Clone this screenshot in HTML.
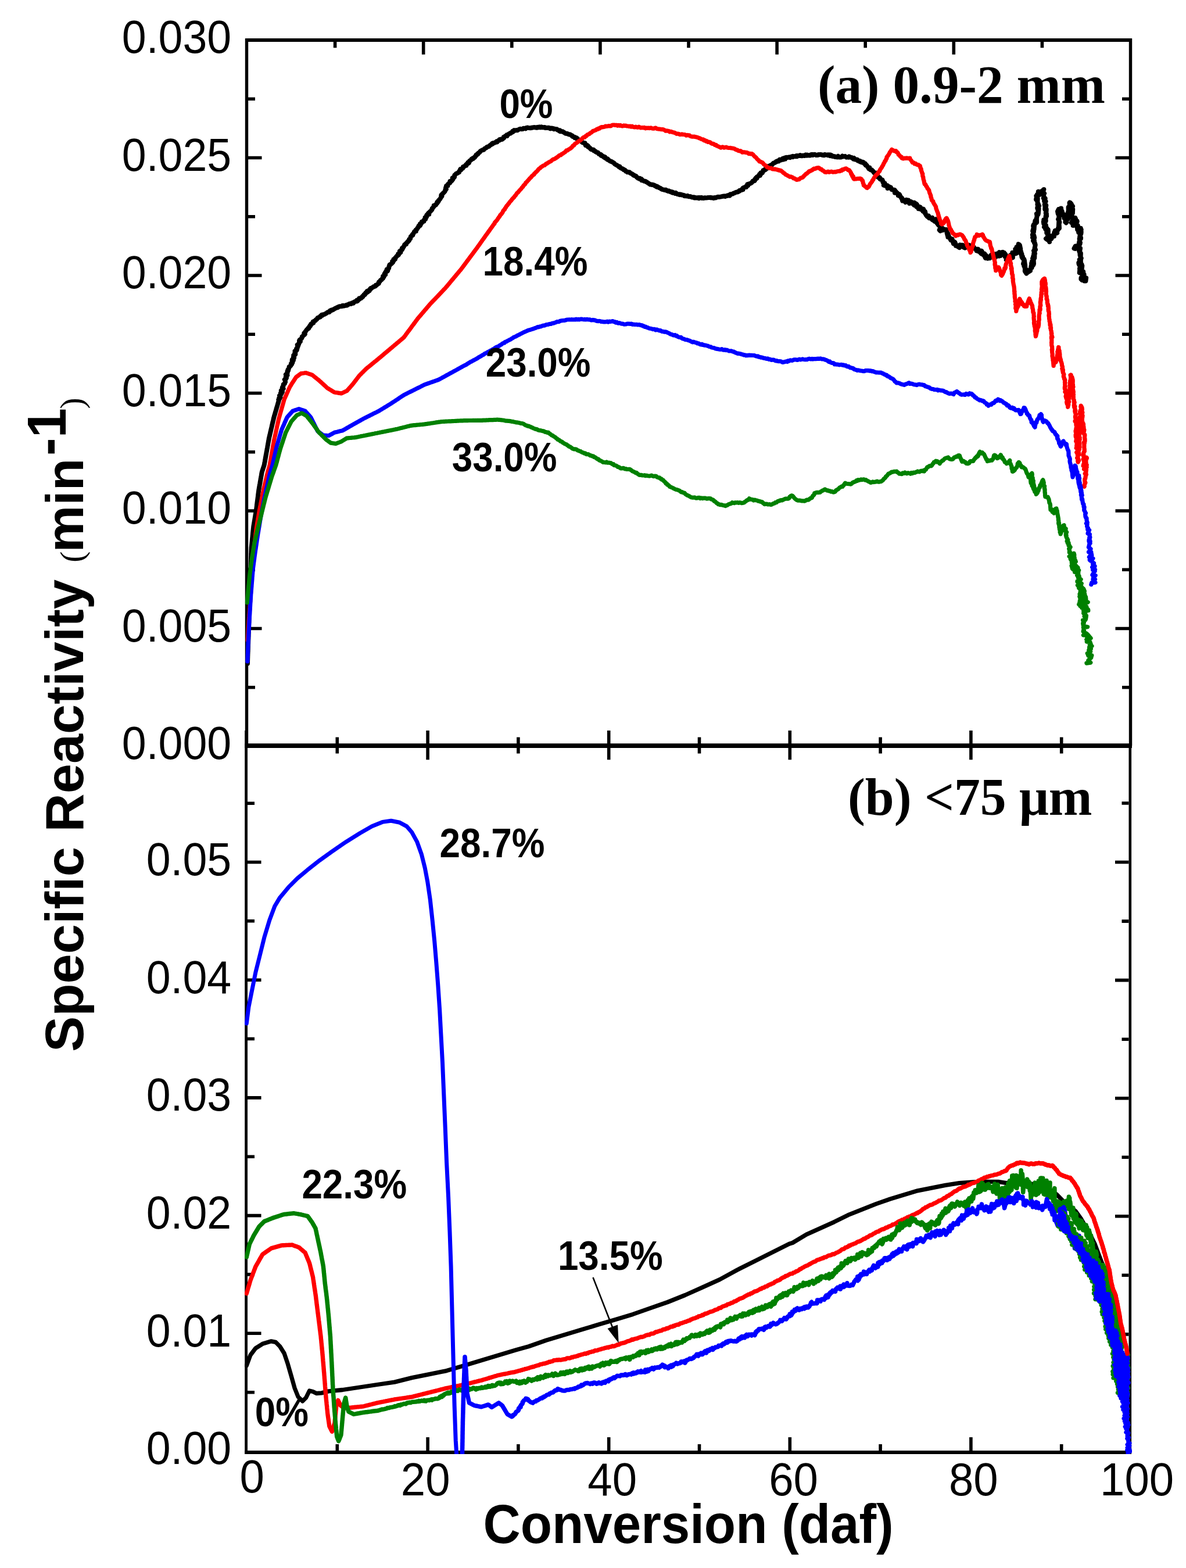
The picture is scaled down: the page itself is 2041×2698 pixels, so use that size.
<!DOCTYPE html>
<html lang="en">
<head>
<meta charset="utf-8">
<title>Specific Reactivity vs Conversion (daf)</title>
<style>
html, body { margin: 0; padding: 0; background: #fff; }
body { width: 2041px; height: 2698px; overflow: hidden; }
svg { display: block; }
text { white-space: pre; }
</style>
</head>
<body>
<svg width="2041" height="2698" viewBox="0 0 2041 2698" role="img" aria-label="Specific reactivity versus conversion for two particle sizes">
<rect x="0" y="0" width="2041" height="2698" fill="#fff"/>
<g id="axes" stroke="#000" fill="none" stroke-linecap="butt">
<path d="M424.5 1283 V69 H1945.5 V1283" stroke-width="5.4" stroke-linejoin="miter"/>
<path d="M422 69 H1948" stroke-width="6"/>
<path d="M421.2 1283.2 H1948" stroke-width="7.7"/>
<path d="M423.6 1257 V2502" stroke-width="4.8"/>
<path d="M1944.8 1283 V2502" stroke-width="4.6"/>
<path d="M421.2 2499 H1947" stroke-width="6"/>
<path d="M427 1182.8 h12 M1943 1182.8 h-12 M427 1081.5 h23.5 M1943 1081.5 h-23.5 M427 980.2 h12 M1943 980.2 h-12 M427 879 h23.5 M1943 879 h-23.5 M427 777.8 h12 M1943 777.8 h-12 M427 676.5 h23.5 M1943 676.5 h-23.5 M427 575.2 h12 M1943 575.2 h-12 M427 474 h23.5 M1943 474 h-23.5 M427 372.8 h12 M1943 372.8 h-12 M427 271.5 h23.5 M1943 271.5 h-23.5 M427 170.2 h12 M1943 170.2 h-12 M576.6 71 V82.3 M728.7 71 V93.8 M880.8 71 V82.3 M1032.9 71 V93.8 M1185 71 V82.3 M1337.1 71 V93.8 M1489.2 71 V82.3 M1641.3 71 V93.8 M1793.4 71 V82.3 M580.3 1268.5 V1296.5 M736.1 1257 V1307.3 M891.9 1268.5 V1296.5 M1047.7 1257 V1307.3 M1203.5 1268.5 V1296.5 M1359.3 1257 V1307.3 M1515.1 1268.5 V1296.5 M1670.9 1257 V1307.3 M1826.7 1268.5 V1296.5 M580.3 2485.1 V2497 M736.1 2472.9 V2497 M891.9 2485.1 V2497 M1047.7 2472.9 V2497 M1203.5 2485.1 V2497 M1359.3 2472.9 V2497 M1515.1 2485.1 V2497 M1670.9 2472.9 V2497 M1826.7 2485.1 V2497 M426 2395.7 h12 M1942.5 2397.4 h-12 M426 2294.3 h23.5 M1942.5 2295.9 h-23.5 M426 2192.9 h12 M1942.5 2194.3 h-12 M426 2091.6 h23.5 M1942.5 2092.8 h-23.5 M426 1990.2 h12 M1942.5 1991.2 h-12 M426 1888.9 h23.5 M1942.5 1889.7 h-23.5 M426 1787.5 h12 M1942.5 1788.2 h-12 M426 1686.2 h23.5 M1942.5 1686.6 h-23.5 M426 1584.8 h12 M1942.5 1585.1 h-12 M426 1483.5 h23.5 M1942.5 1483.5 h-23.5 M426 1382.2 h12 M1942.5 1382 h-12" stroke-width="5.6" stroke-linecap="butt"/>
</g>
<defs><clipPath id="cpt"><rect x="421.5" y="66" width="1526.5" height="1221"/></clipPath><clipPath id="cpb"><rect x="421" y="1279" width="1527" height="1223"/></clipPath></defs>
<g id="curves-top" clip-path="url(#cpt)">
<path d="M425.9 1141.7 L426 1140.2 L426 1138.7 L426.1 1137.2 L426.1 1135.7 L426.2 1134.2 L426.2 1132.7 L426.3 1131.1 L426.3 1129.6 L426.4 1128.1 L426.4 1126.6 L426.5 1125.1 L426.5 1123.6 L426.6 1122.1 L426.7 1120.6 L426.7 1119.1 L426.8 1117.6 L426.8 1116.1 L426.9 1114.5 L426.9 1113 L427 1111.5 L427 1110 L427.1 1108.5 L427.1 1107 L427.2 1105.5 L427.2 1104 L427.3 1102.5 L427.3 1101 L427.4 1099.5 L427.4 1098 L427.5 1096.5 L427.6 1094.9 L427.6 1093.4 L427.6 1091.9 L427.7 1090.4 L427.8 1088.9 L427.8 1087.4 L427.8 1085.9 L427.9 1084.4 L427.9 1082.9 L428 1081.4 L428.1 1079.9 L428.1 1078.3 L428.1 1076.8 L428.2 1075.3 L428.2 1073.8 L428.3 1072.3 L428.4 1070.8 L428.4 1069.3 L428.4 1067.8 L428.5 1066.3 L428.6 1064.8 L428.6 1063.3 L428.6 1061.8 L428.7 1060.2 L428.8 1058.7 L428.8 1057.2 L428.9 1055.7 L428.9 1054.2 L428.9 1052.7 L429 1051.2 L429.1 1049.7 L429.1 1048.2 L429.1 1046.7 L429.2 1045.2 L429.2 1043.7 L429.3 1042.2 L429.4 1040.7 L429.4 1039.2 L429.4 1037.7 L429.5 1036.1 L429.6 1034.6 L429.6 1033.1 L429.6 1031.6 L429.7 1030.1 L429.8 1028.6 L429.8 1027.1 L429.9 1025.6 L429.9 1024.1 L429.9 1022.6 L430 1021.1 L430.1 1019.6 L430.1 1018.1 L430.2 1016.6 L430.2 1015.1 L430.2 1013.6 L430.3 1012.1 L430.4 1010.5 L430.4 1009 L430.4 1007.5 L430.5 1006 L430.6 1004.5 L430.6 1003 L430.7 1001.5 L430.7 1000 L430.8 998.5 L430.8 997 L430.9 995.5 L430.9 994 L430.9 992.5 L431 991 L431.1 989.5 L431.1 988 L431.2 986.4 L431.2 984.9 L431.2 983.4 L431.3 981.9 L431.4 980.4 L431.4 978.9 L431.4 977.4 L431.5 975.9 L431.6 974.4 L431.6 972.9 L431.7 971.4 L431.7 969.9 L431.8 968.3 L431.8 966.8 L431.9 965.3 L431.9 963.8 L432 962.3 L432 960.8 L432.1 959.3 L432.1 957.8 L432.2 956.3 L432.2 954.8 L432.2 953.3 L432.3 951.8 L432.4 950.2 L432.4 948.7 L432.5 947.2 L432.5 945.7 L432.6 944.2 L432.6 942.7 L432.8 941.2 L432.9 939.7 L433.1 938.2 L433.2 936.7 L433.4 935.2 L433.5 933.7 L433.7 932.2 L433.8 930.7 L433.9 929.2 L434.1 927.7 L434.2 926.2 L434.4 924.7 L434.6 923.1 L434.7 921.6 L434.9 920.1 L435 918.6 L435.1 917.1 L435.3 915.6 L435.4 914.1 L435.6 912.6 L435.8 911.1 L435.9 909.6 L436.1 908.1 L436.2 906.6 L436.4 905.1 L436.7 903.6 L436.9 902.1 L437.2 900.6 L437.4 899.1 L437.7 897.6 L437.9 896.1 L438.2 894.6 L438.4 893 L438.7 891.5 L438.9 890 L439.2 888.5 L439.4 887 L439.7 885.5 L439.9 884 L440.2 882.5 L440.4 881 L440.7 879.5 L440.9 878 L441.1 876.5 L441.3 875 L441.5 873.5 L441.7 872 L441.9 870.5 L442 868.9 L442.2 867.4 L442.4 865.9 L442.6 864.4 L442.8 862.9 L443 861.4 L443.2 859.9 L443.4 858.4 L443.6 856.9 L443.8 855.4 L444 853.9 L444.1 852.3 L444.3 850.8 L444.5 849.3 L444.7 847.8 L444.9 846.3 L445.1 844.8 L445.3 843.3 L445.6 841.8 L445.8 840.4 L446.1 838.9 L446.3 837.4 L446.6 836 L446.8 834.5 L447.1 833 L447.4 831.6 L447.6 830.1 L447.9 828.6 L448.1 827.2 L448.4 825.7 L448.6 824.2 L448.9 822.8 L449.2 821.3 L449.4 819.8 L449.7 818.4 L449.9 816.9 L450.2 815.4 L450.4 814 L450.7 812.5 L451.1 811.1 L451.6 809.7 L452 808.3 L452.5 806.9 L452.9 805.6 L453.4 804.2 L453.8 802.8 L454.3 801.4 L454.7 800 L455 798.5 L455.2 797 L455.5 795.5 L455.8 794.1 L456 792.6 L456.3 791.1 L456.6 789.6 L456.8 788.1 L457.1 786.6 L457.4 785.1 L457.6 783.6 L457.9 782.2 L458.2 780.7 L458.4 779.2 L458.7 777.7 L459 776.2 L459.3 774.7 L459.5 773.2 L459.8 771.7 L460.1 770.3 L460.3 768.8 L460.6 767.3 L460.9 765.8 L461.1 764.3 L461.4 762.8 L461.7 761.3 L461.9 759.8 L462.2 758.4 L462.5 756.9 L462.7 755.4 L463 753.9 L463.3 752.5 L463.7 751 L464 749.6 L464.3 748.2 L464.7 746.7 L465 745.3 L465.4 743.8 L465.7 742.4 L466 741 L466.4 739.5 L466.7 738.1 L467 736.7 L467.4 735.2 L467.7 733.8 L468 732.4 L468.4 730.9 L468.7 729.5 L469 728.1 L469.4 726.6 L469.7 725.2 L470.1 723.7 L470.4 722.3 L470.7 720.9 L471.1 719.4 L471.4 718 L471.8 716.6 L472.2 715.1 L472.7 713.7 L473.1 712.3 L473.5 710.8 L473.9 709.4 L474.3 708 L474.8 706.5 L475.2 705.1 L475.6 703.6 L476 702.2 L476.4 700.8 L476.9 699.3 L477.3 697.9 L477.7 696.5 L478.1 695 L478.5 693.6 L479 692.2 L479.4 690.7 L479.8 689.3 L479.3 687.8 L481.1 686.4 L480.3 684.9 L482.6 683.5 L482.1 682 L481.1 680.5 L483.3 679 L484.4 677.6 L483.1 676.1 L485.9 674.7 L486 673.2 L483.9 671.8 L485.8 670.3 L487.6 668.8 L485.7 667.4 L486.1 666 L487.5 664.5 L487.6 663 L487.6 661.5 L490 660.1 L490.1 658.7 L491.1 657.3 L490.9 655.9 L490.7 654.4 L489.8 653 L492.3 651.5 L493 650.2 L491.8 648.6 L492.4 647.2 L494.4 645.8 L491.9 644.3 L494.4 643.1 L494.1 641.5 L494.9 640.2 L494.5 638.8 L496.1 637.5 L495.5 636 L496.6 634.9 L497.2 633.5 L497.7 632 L497.6 630.9 L500.3 629.4 L500.7 628.1 L501.9 626.9 L501 625.6 L503.3 624.1 L503.6 622.7 L502.7 621.2 L504.8 619.9 L502.9 618.7 L505.5 617.1 L506.2 615.5 L504.9 614.1 L505.9 612.6 L505.3 611.3 L508.3 610.1 L508.3 608.5 L507.3 607.3 L508.6 605.7 L507.6 604 L510.5 602.9 L511.1 601.3 L510.2 599.9 L511.9 598.3 L511.6 597 L512.9 595.5 L513.2 594.7 L511.8 593.2 L514.3 592.1 L514.7 590.4 L514.7 589.5 L516.8 587.7 L515 586.4 L515.4 585.3 L516.5 584.3 L518.9 582.6 L519.3 581.6 L520 580.3 L519.8 579.1 L521.2 578.3 L522.6 576.6 L523.8 576 L524.8 574.7 L523.4 573.2 L524.4 572.1 L525.5 570.7 L526.6 569.4 L527.6 567.6 L528.7 566.5 L531.1 565.2 L530.7 564.1 L532.9 562.3 L532.7 561.4 L534.2 560.8 L533.9 559.5 L535.6 558.3 L535.3 557.4 L539.1 555.9 L538.2 555.5 L538.6 553.5 L539.6 553.2 L542.7 551.7 L543.5 550.3 L544.7 549.8 L545.6 548.8 L546.4 547.7 L546.5 547 L548.3 546.3 L551.3 545.4 L551.4 543.9 L552.4 543.2 L554.3 542.9 L554 541.6 L556.5 541.3 L559 540.7 L559.5 540 L560.9 539.5 L562.3 538.6 L562.2 538.3 L564 537.2 L566.6 537.1 L568.4 535.1 L567.6 534.8 L569.2 533.9 L571 533.2 L571.5 533.8 L574.2 532.4 L573.6 532.5 L576.7 530.8 L576.9 530.7 L579.2 529.5 L581.3 529 L580.6 529 L581.6 528.2 L583.1 527.7 L584.8 527.2 L588.2 527 L588.1 526.9 L589.1 526 L590.8 525.8 L591.7 526.5 L592.6 526 L596.8 525.6 L595.5 525 L597 524.6 L600.5 523.6 L599.9 523.4 L601.7 522.6 L604.3 522.9 L605.5 521.3 L608.3 521.7 L609 520.1 L609.3 519.7 L611.7 518.6 L613.7 518.6 L615.4 517.8 L614 516.5 L615.4 516.1 L618.7 515 L618.4 513.2 L621.5 513.1 L622.3 512 L624.1 511 L623.6 509.9 L624.8 509.2 L627.6 507.3 L626.3 506.9 L629.2 505.3 L629.1 504 L629.4 503.6 L632.5 502.7 L632 500.8 L635.4 500.3 L634.9 499.5 L637.1 498.3 L636.3 497.9 L637.9 495.9 L639.5 495.7 L641.5 494.3 L643 493.8 L642.5 493.4 L645.7 492.6 L646.5 490.8 L647.9 490.8 L648.4 490 L650.9 488.3 L651.8 487.9 L652.4 485.4 L652.1 485.1 L653.8 484.1 L654.9 482 L656.8 481.4 L657.6 479.7 L659 479 L659.3 478 L660.6 476.3 L659.2 475.2 L660.5 474.2 L663.1 472.6 L661.8 470.9 L663.3 470.4 L662.8 469.2 L664 467.2 L666.9 466.5 L667.4 465.2 L665.8 463.5 L667.4 462.8 L669.1 461.7 L669.4 459.7 L669.4 458.6 L670.3 457.2 L671.1 456.1 L670.5 455.5 L673.1 454.2 L674.5 452.9 L676.2 451.2 L675.3 449.5 L677 449.1 L677.7 448.5 L677.5 446.2 L680 445.8 L680.2 443.6 L680.8 443.5 L682.1 441.7 L682.7 440.8 L684.2 439.7 L685.9 438.6 L685.3 436.7 L687.4 436.2 L688.8 434.2 L689.4 434 L688 432 L690.6 430.6 L692 429.5 L692.5 428.4 L692 427.1 L693.7 426.6 L693.8 425.3 L695 424.1 L696 422.3 L696.2 420.9 L698.8 420.2 L698 419.6 L700.5 417.2 L701.6 416.8 L701.7 415.5 L704.1 414.1 L704.1 413.2 L704.2 411.6 L706.2 410.8 L706.3 409.4 L706.5 408.6 L706.8 407.2 L709 405.4 L710.3 404.7 L709.7 403.4 L710.8 402.6 L712.2 400.7 L712.8 399.1 L713.6 398.1 L715.8 397.8 L715.5 395.6 L717.4 394.4 L717.9 394.1 L718.2 392.8 L720.1 390.7 L720.1 390.2 L720.6 388.5 L723 388.1 L723.7 386.7 L723.1 385 L724.9 384.6 L725.9 383.2 L725.9 381.6 L729.4 380.8 L729.3 378.8 L731.3 377.4 L732.3 377.2 L732.5 375.6 L731.7 374.1 L734.1 373.4 L734.2 372.4 L734.1 370.4 L735.1 369.3 L738.2 368.7 L737.1 366.8 L737.9 366.1 L739.8 364.3 L740.5 364 L741.6 362.6 L743.1 361.1 L743.8 359.8 L743.6 358.8 L744.9 357.4 L745.4 357.1 L747 354.9 L746.8 353.7 L750.2 352.7 L750.5 351.4 L751.3 350.6 L752.5 349.5 L752.3 348 L753.9 347.6 L754.9 345.8 L754.6 345.1 L756.9 342.8 L757.1 342.4 L757.9 341.4 L759.2 339.1 L760.3 337.9 L759.2 337.5 L759.4 335.5 L761.5 334 L761.2 333.5 L762.9 332.1 L764.2 331 L765.3 329.7 L766.3 327.9 L766.2 326.7 L767.8 325.6 L766.9 324.3 L767.3 322.4 L768.5 321.2 L768.2 320 L770.4 319.7 L770 318.4 L771 317 L772.4 315.7 L774.5 314.5 L774.4 313.7 L774.4 312 L777.1 311.5 L778.7 309.5 L778.5 308.4 L779.6 308 L778.8 306.1 L782 304.9 L782.1 304.4 L782.1 303.2 L782.3 301.4 L783.9 300.3 L785 298.7 L787.8 297.8 L788.2 297.2 L790.1 296.4 L790.4 294.3 L791.9 293.1 L793.4 292.2 L792.4 290.9 L793.9 290.6 L796.4 289.5 L797.2 287.8 L797.1 286.9 L798.5 286.7 L801.4 284.5 L802.4 284.7 L802 283.4 L804.1 281.6 L804.7 281.7 L806.7 280.6 L805.4 279.3 L807.8 278.6 L807.9 277.1 L808.9 276.4 L811.9 274.3 L811.8 273.4 L813.9 273.1 L813.3 272.5 L817.1 270.8 L817.1 269.7 L818.3 268.7 L819 268.2 L819.3 266.5 L822.2 265.4 L821.2 265.5 L822.6 263.9 L824.2 262.7 L825.5 262.2 L825.9 261.3 L826.8 259.8 L828.4 259.1 L829.9 258.2 L832.5 257.8 L832.6 257.1 L834.3 255.5 L835.2 255.2 L836.2 254.5 L837.8 254 L837.9 252.9 L841.3 252 L842.3 250.7 L843 250.2 L844.3 249.6 L844.9 248.7 L845.3 248.8 L847.7 247.7 L847.3 246.5 L851.3 245.7 L851.3 245.7 L852.6 244.8 L855.3 244.5 L854.5 243.3 L856.4 243 L858.5 241.7 L859.9 241.3 L859.2 240.4 L861.6 239.6 L863.8 239.9 L865.8 238.5 L866.8 237.5 L867.3 237.2 L866.9 235.6 L869.1 234.7 L870.5 233.5 L872.5 233.9 L872.5 232 L874 232 L874.9 231.2 L876 230.1 L878.9 229.3 L878.3 228.9 L881.8 227.4 L883.1 226.7 L882.3 225.6 L885.5 224.8 L884.6 224.1 L886.5 224.4 L889.4 223.9 L890.2 224.3 L891.5 223.5 L892.5 223 L893.9 222.1 L895.9 221.8 L897.5 222.2 L899.5 222.1 L900.8 220.8 L903 220.9 L904.6 221.4 L905.4 220.1 L906.4 220.1 L907.8 219.5 L909.5 220.1 L912.3 220.2 L914 220.2 L914.2 219.9 L914.6 220 L918.1 219.2 L918.9 219.1 L921.4 219.2 L922.9 219.8 L924.4 219 L924.6 219.7 L927.8 218.5 L927.7 219.3 L930.4 218.5 L931 219.3 L931.5 218.3 L934.7 219.4 L937 219 L938 219.9 L938.1 219.1 L939.4 220.1 L940.5 220 L944.3 219.7 L944.9 220.4 L947.4 220.6 L947.5 221.4 L949.7 220.5 L951.4 221.1 L953.3 222.1 L953.4 221.6 L954.1 221.6 L955.4 221.9 L958.4 222.3 L959.4 223.6 L961.2 224 L963.2 224.2 L962 225.1 L964 226.2 L967.3 226.3 L968.4 226.2 L968.8 226.9 L969.8 227.4 L971.6 228.3 L971.6 228.6 L973.3 229.7 L976 229.7 L976.6 230.4 L979.1 231.4 L980.1 231.2 L981.5 231.6 L983.2 232.7 L984.4 233.2 L985.3 233.9 L985 234.8 L988.7 235.7 L989 237 L991.7 236.9 L992.1 238.4 L993.8 238.5 L994.1 239.8 L994.7 240.1 L997.2 241.4 L997.3 241.8 L998.6 241.8 L1000.5 243.4 L1002.2 244.7 L1001.9 245 L1004 245.5 L1006.5 246.2 L1005.7 246.9 L1008 248.7 L1007.9 249.9 L1010.3 249.8 L1012.4 251.6 L1011.7 252.5 L1012.3 252.6 L1014.3 254.4 L1015.2 254.4 L1016 255.9 L1017.1 256.8 L1018.8 257.3 L1021.6 257.8 L1021.7 259.2 L1023.1 259.7 L1024.6 260.3 L1024.4 260.7 L1027.1 262.3 L1029 262.5 L1029.9 263.8 L1030.7 265.1 L1032 265.3 L1033.7 265.7 L1035.6 267.1 L1034.4 267.8 L1038.4 269.3 L1038.2 269.1 L1041 270 L1039.5 270.7 L1042.2 272.1 L1042.3 272.4 L1045.5 273.3 L1045.2 274.6 L1047.2 275.4 L1048.7 276.3 L1050 277.4 L1052.2 277.8 L1052.6 278.5 L1053.5 278.5 L1056.3 280.3 L1057.2 281.2 L1057.9 282.2 L1058.9 283 L1059.1 283 L1061.8 284.4 L1062.9 285.1 L1063.8 285.8 L1066.3 286.5 L1065.3 287.4 L1066.5 287.7 L1068.2 289.1 L1069.6 289.9 L1070.6 290 L1073.8 291.8 L1073.2 292.1 L1075.4 293 L1075.8 292.9 L1077.1 294.9 L1079.6 295.4 L1079.8 296.3 L1083.4 296.3 L1084.3 297.9 L1086.3 298.3 L1086.5 298.7 L1088.2 299.4 L1089 300.5 L1091.4 301.5 L1090 301.4 L1092.1 302.4 L1094.5 302.9 L1095.3 303.9 L1095.8 304.9 L1097.5 306.1 L1097.9 306.7 L1100.7 306.8 L1100.3 307.8 L1103.8 308.1 L1104.8 309.1 L1104.2 310.3 L1106.2 310.5 L1108.8 311.8 L1110.4 311.8 L1111.6 312.2 L1112.1 313.2 L1114.4 314.2 L1115.1 314.9 L1115.5 315 L1116.1 315.4 L1117.8 316.6 L1118.9 317.4 L1121.7 317.4 L1121.6 317.9 L1124.2 318.1 L1126.8 319 L1126.5 319.5 L1127.7 320.1 L1130.5 320.4 L1130.4 321.7 L1132.1 321.9 L1133.4 322.1 L1134.2 323.2 L1137 323.8 L1137.3 324.7 L1138.2 325.2 L1139.3 325.9 L1141.7 326.4 L1144.2 327 L1145.9 326.6 L1147.2 327.4 L1146.9 327.8 L1149.9 329 L1151 328.5 L1150.4 328.8 L1153.4 329.9 L1153 329.4 L1157.2 330.3 L1155.8 330.9 L1157.4 331.8 L1160.1 332 L1162.7 331.7 L1162 333.1 L1164.6 333.1 L1165.2 333.8 L1168.4 334.7 L1169.7 335.1 L1168.8 334.2 L1172.4 334.8 L1172.9 335.4 L1175.8 335.7 L1174.7 335.6 L1178.5 336.7 L1177.7 337.2 L1179.9 337.2 L1181.9 337.6 L1183.2 336.8 L1184.9 338.2 L1185.9 338.4 L1187.5 338.1 L1188.7 338.2 L1190.6 339.5 L1192.4 339.5 L1192.6 339.2 L1195.3 339.5 L1195.1 340.5 L1196.9 340.4 L1200.9 340.2 L1200.3 340.3 L1202.6 341.2 L1202.9 340.1 L1206.6 340.2 L1207.4 340.8 L1206.9 339.8 L1210.7 341.1 L1212 340.5 L1211.7 340.5 L1213.2 340.3 L1214.4 340.5 L1217.2 340.2 L1218 339.9 L1218.9 340 L1223.2 339.8 L1223.9 340.4 L1225 340.2 L1227.7 340.9 L1227.4 340.4 L1230.5 340 L1231.8 340.4 L1232.3 340.1 L1233.8 339.2 L1234.2 339.3 L1235.6 338.7 L1238.5 338.9 L1240 338.6 L1242 338.2 L1242.2 338.2 L1244.5 337.5 L1245.2 337.7 L1246.8 337.2 L1248 338 L1248.2 337.7 L1252.2 336.8 L1251 336.6 L1255.1 335.6 L1255.9 336.5 L1255.3 335.6 L1256.8 334.2 L1259.3 333.9 L1261.2 333.5 L1261.3 333.4 L1262 332.6 L1264.2 332.1 L1266.6 330.8 L1266.8 330.7 L1270.1 330.2 L1270.7 329.5 L1273 328.5 L1272.7 327.8 L1274.1 327.4 L1276.2 326.9 L1278.6 326.1 L1277.7 324.6 L1278.5 323.7 L1279.9 322.8 L1283 321.7 L1284.5 321.9 L1285.2 320.1 L1285 319.5 L1287.1 319.3 L1286.5 317.2 L1290.1 316.2 L1291.4 315.6 L1292.8 315.1 L1292.9 314.7 L1294.7 313.3 L1294.8 312.9 L1295.4 311.4 L1298.4 311.3 L1299.4 309.7 L1299.1 308.4 L1301.7 307.3 L1300.8 306.2 L1302.7 306.4 L1302.7 304.3 L1304.3 303.8 L1305.7 302 L1307.8 302 L1307.3 299.7 L1309.1 299.8 L1309.2 297.6 L1312 297.4 L1312.5 295.3 L1313.9 294.3 L1313.6 293.1 L1317.2 292.1 L1316.9 292.1 L1317.2 290.3 L1320.1 289.7 L1319.5 288.8 L1323.1 288.3 L1324.1 286.3 L1322.6 286.1 L1323.6 286 L1325.7 284.5 L1328.6 283.5 L1329.5 282.2 L1329.7 282.3 L1331 280.6 L1333.4 280 L1334.7 279.1 L1335.7 277.9 L1336.4 278.4 L1337.7 277.1 L1340.1 277.5 L1341 275.7 L1340.2 275.9 L1341.8 274.5 L1344.4 275.4 L1345 274.7 L1348.4 274.4 L1347.2 272.6 L1351.2 273.5 L1350.2 271.7 L1353.2 271 L1352.9 270.8 L1355.8 270.9 L1358 270.3 L1359.7 271.1 L1359.6 270.5 L1361.9 269.4 L1364.2 269.7 L1364.4 270.1 L1364.4 268.8 L1365.9 269.4 L1367.9 269 L1370.9 269.3 L1370.7 267.9 L1374.1 267.9 L1373.7 268.2 L1377.1 267.7 L1377.3 267 L1378.9 268.2 L1380.2 268.3 L1381.7 267.4 L1384.5 268.1 L1386.2 267.1 L1386.5 266.4 L1388.2 267.6 L1388.7 266.5 L1389.8 266.7 L1392.6 267.6 L1394.6 267.4 L1394.7 266.4 L1397.7 265.7 L1398.8 266.7 L1398.7 265.9 L1402.5 265.8 L1403.6 266.3 L1404.3 267.1 L1405.9 267.1 L1408.6 266.5 L1408 266 L1412.1 265.9 L1412.5 265.7 L1414.4 266.7 L1416.4 266.5 L1415.6 266.9 L1418.5 267.2 L1419.8 265.9 L1421.1 266.4 L1423.4 266.5 L1425.4 266.3 L1424.9 267.3 L1427.9 266.3 L1428.7 268.1 L1430.5 266.9 L1432.9 268.6 L1432.4 268.9 L1435.9 269.1 L1437.6 269.4 L1436.3 269.7 L1440.2 270.3 L1441.4 270.4 L1443.1 269.4 L1442.3 268.8 L1443.7 270.5 L1447.5 270.5 L1448.8 269.6 L1449.6 268.6 L1449.9 269.5 L1451 269.4 L1453.9 269.1 L1454.3 268.9 L1456.6 270.7 L1458.1 270.4 L1460.3 270.7 L1462 270.1 L1461.2 269.3 L1463.3 270.3 L1465.5 271.3 L1465.9 271.1 L1468.6 273.6 L1469.8 272.1 L1471.1 274.3 L1472 274.5 L1474.3 274.7 L1475.1 274.5 L1476.9 276.1 L1476.5 276.8 L1479.8 277 L1479.7 278.2 L1483.2 279.4 L1482.6 278.9 L1484.2 278.6 L1486.2 279.5 L1487.4 281.6 L1489.1 282.7 L1489 281.6 L1489.7 284.3 L1491.3 284.1 L1493.4 287.6 L1494.8 288.7 L1496.4 288.6 L1495.3 290.5 L1496.4 289.3 L1498.1 292.4 L1500.1 292.3 L1499.7 292.4 L1502.4 294.4 L1503.4 296.2 L1504.6 297.6 L1506.9 297.4 L1506.4 298.3 L1507.2 298 L1509.6 300.2 L1508.4 301.2 L1510.2 301.1 L1510.2 304.4 L1513.4 306.5 L1513.7 305.3 L1514.7 306.7 L1514.4 308.1 L1515 308.4 L1518.5 309.5 L1519.3 313.2 L1519.5 312 L1520.2 313.5 L1520.6 315.8 L1522.7 315.5 L1520.9 318.8 L1523.8 319.8 L1523.8 319.3 L1526.9 321.1 L1527 319.2 L1527.5 324 L1529.5 320.9 L1530.9 322.3 L1532.9 322.3 L1534.2 325.9 L1535.5 326.4 L1535.9 326.2 L1538.5 326.6 L1539.9 327.1 L1539.9 331.7 L1541.6 329.5 L1541.8 330.5 L1544 331.9 L1545.3 334.6 L1546.4 334.7 L1545.9 336.5 L1547.4 334.1 L1548.6 335.8 L1548.4 337.4 L1552.1 340.8 L1551.5 341.5 L1552.4 342.6 L1553.1 345.5 L1555.7 344.3 L1556 345.1 L1558.1 348 L1560 343.9 L1561.3 344.8 L1560.4 346.2 L1563.4 344.7 L1564.9 350 L1566.7 349.4 L1566.3 346.7 L1568 347.2 L1571.4 351.2 L1570.7 349.5 L1572.9 352.8 L1573.6 348.6 L1573.7 349.7 L1576.1 350.3 L1577.9 351.8 L1577.1 355.8 L1579.6 356.9 L1581.1 355.5 L1580.8 359.2 L1583.8 356.5 L1583.2 359.5 L1587 361.1 L1588.2 363.4 L1587 359.4 L1589.2 359.8 L1590.5 364.9 L1591 365.7 L1591.8 366.9 L1592 363.9 L1592.7 367.8 L1593.5 369.7 L1595.5 372.2 L1596.2 372.9 L1598.1 371.4 L1598.9 373.9 L1599.2 374.1 L1599.2 375.3 L1601.6 375.4 L1604.3 374.5 L1605.4 377.5 L1604.3 378.2 L1605.9 378.5 L1608.1 380.8 L1610.7 377.3 L1611.9 383.1 L1610.8 379.2 L1612.7 380.1 L1612.8 384.2 L1614 385.9 L1615.1 387.5 L1617.3 385.2 L1618.6 391.4 L1619.5 387.7 L1618.6 390.8 L1617.8 393.2 L1616.6 395.7 L1618.3 397.4 L1619.5 396.3 L1622.3 393.1 L1622.3 396.2 L1624.5 394.5 L1625 395.3 L1628.5 395.1 L1629 396.3 L1629.7 401.6 L1630.5 400.7 L1631.4 402.1 L1630.9 406 L1630.1 402.6 L1632.3 405 L1631.5 408 L1632.3 407.7 L1633.5 407.6 L1636.3 413.1 L1637.1 411.8 L1638.7 413.4 L1638.6 411.3 L1639.1 413.5 L1640.8 419.2 L1641.5 416.5 L1642.9 416.2 L1643.6 417.2 L1644.9 422.8 L1645.8 422.3 L1646.3 421.9 L1648.1 422.9 L1648.8 424.7 L1651.8 421.4 L1651.3 426.2 L1653.1 422.2 L1655.2 421.7 L1656.5 421.7 L1658 425.4 L1660.5 426.5 L1662.5 422.1 L1663.5 425.4 L1664.6 424.3 L1667 425.1 L1668.5 422 L1668.3 422.5 L1670.9 425.1 L1671.2 424.5 L1673.3 424.5 L1674.9 427.2 L1675 424.3 L1678 428 L1679.8 428.9 L1680.4 431.2 L1682.5 428.8 L1683 432.2 L1683.3 428.8 L1685.1 431.5 L1684.8 432.4 L1688.5 436.4 L1688.5 435.9 L1689.2 431.6 L1691.8 436.6 L1692.3 438.3 L1694.6 436.7 L1694.6 441.5 L1696.2 444.1 L1695.7 443.6 L1697.2 439.8 L1699.7 444.6 L1702.8 442.8 L1703.3 444.2 L1703.2 442 L1705.8 438.7 L1706.7 440.3 L1707.5 439.1 L1709.6 442.9 L1712.3 439.3 L1713.5 442.4 L1712.8 437.3 L1716.4 436.4 L1716.9 439.6 L1718.6 440.6 L1719.9 434.1 L1720.8 440.2 L1721.8 440 L1721.2 434.8 L1725.3 433.9 L1724.9 434.3 L1726.4 436.1 L1728.3 435.1 L1729.7 441.7 L1729.9 437 L1732.4 442.6 L1732.7 445.9 L1734 441.8 L1731.7 447.1 L1735.1 443.3 L1737.3 446.3 L1737.7 443.9 L1738.7 439.3 L1739.8 443.5 L1741.4 440.6 L1742.9 443.3 L1742.3 434.7 L1745.3 434.7 L1745.7 436.3 L1747.1 436.5 L1747.3 435.1 L1749.2 435.8 L1748.1 433.3 L1747.9 433.5 L1747.3 428.8 L1749.9 430.4 L1749.5 425.3 L1751.1 427.1 L1751.7 425.6 L1752.7 420.1 L1753.5 420.6 L1754.8 421.7 L1756.2 428.2 L1755.2 425.2 L1755.6 433 L1757.1 432.9 L1756 435.7 L1756.6 432.8 L1758.4 437.1 L1756.4 433.1 L1758.3 440.9 L1758.8 440.1 L1758.5 442.1 L1759.9 441.4 L1759.9 444.8 L1762.3 445.7 L1762.2 447.3 L1762.8 450.1 L1761 454 L1762.8 447.2 L1763.8 455.1 L1763 455.1 L1762.3 457.8 L1764.4 460 L1764.1 462.6 L1764.1 456 L1763.4 460.4 L1764 461.2 L1763.8 466.5 L1766.4 470.6 L1765.1 468.3 L1766.9 468.8 L1768.9 466.8 L1768.1 465.3 L1769.4 468.1 L1773.1 465.9 L1773 464.6 L1774.6 459.6 L1774.2 459.9 L1774.6 457.5 L1776.4 457.3 L1775.6 460.7 L1775.1 453.2 L1778.1 456.1 L1776.1 449.8 L1777.8 454.6 L1779 454.2 L1778.5 445 L1778.9 446.7 L1778.4 441.5 L1777.1 444.5 L1779.2 440.8 L1780.4 437.5 L1780.3 443.8 L1778.1 441.4 L1779.8 436.3 L1779.4 435.9 L1781 436.3 L1779.8 432.1 L1779.1 431.4 L1781.3 430.7 L1780.6 427.5 L1782 429.6 L1780.7 426.4 L1781.7 421.3 L1781 420.1 L1781.1 418.7 L1781.5 420.7 L1780 418.1 L1779.9 413.9 L1778 414.1 L1778.6 412.7 L1778.1 408.9 L1780.2 408.9 L1779.3 405.3 L1777.1 408.7 L1777.9 408.2 L1776.8 404 L1778.6 400.1 L1779 398.5 L1777.3 396.7 L1777.2 397.5 L1779.5 394 L1778.1 394 L1778 397.4 L1779.9 389.2 L1779.5 394.9 L1778.1 388.9 L1778.7 386.7 L1779.5 386.5 L1780.3 387.5 L1781.3 380.2 L1782.3 382.3 L1783.3 383.5 L1782.3 378.9 L1784.1 382.8 L1784 378.2 L1783.8 375.3 L1784.2 374.5 L1784.6 371.6 L1783.9 368 L1786.6 368.7 L1787 366.3 L1785.3 370.6 L1785.7 367.1 L1786.8 363 L1785.2 358 L1787.3 361.6 L1787.2 363.7 L1787.6 358.7 L1785.4 357 L1786.7 351.2 L1785.4 351.8 L1786.6 355.1 L1788.1 354.1 L1785.7 352.1 L1785.5 346.3 L1785.7 342 L1785.6 340.8 L1784.9 345.6 L1783 343.3 L1783.9 339.2 L1784.3 337.5 L1783.3 337.1 L1784.6 339.5 L1784.9 334.4 L1787.4 333.7 L1786.8 329.6 L1787.6 331.8 L1789.6 334.7 L1790.5 329.7 L1792.7 329 L1792.8 330.6 L1796.1 325.9 L1796.4 325.9 L1794.7 330.2 L1797.1 332.7 L1795.6 332 L1796.2 336.3 L1796.9 340.8 L1795.7 340.7 L1798.4 341.1 L1797.9 344.4 L1798.7 341.5 L1797.7 347.7 L1797 345.7 L1799.6 346.7 L1798.2 348.5 L1798.6 353.1 L1797.7 351.8 L1798.8 357.8 L1800.3 353.4 L1798.9 361.1 L1798.2 360 L1798.4 357.9 L1800.5 362.9 L1800.7 360.3 L1800.2 367.5 L1799.7 366.2 L1800.4 370.6 L1801 371.5 L1799.5 372.5 L1801 368.1 L1800.4 373.1 L1799.3 376.3 L1799.8 380.1 L1799.1 381.8 L1798.5 379.4 L1797.3 384.5 L1796.3 378.3 L1796.3 385.3 L1795.8 381.7 L1798.8 388.4 L1797 390.7 L1799.3 388.6 L1800 387.5 L1799.2 394.2 L1801.5 394.9 L1801.4 392.5 L1801.2 400.5 L1802.3 397.1 L1803.7 394.8 L1803.8 397.8 L1803.8 405.8 L1803.3 401.5 L1802.9 407.4 L1803.9 407.5 L1802.5 408.6 L1800 410.6 L1804.1 413.4 L1805.3 407.5 L1806.1 416.2 L1806 410.8 L1809.3 409.3 L1808 412.1 L1809.6 410.4 L1810.5 405.8 L1812.6 406.5 L1814 406.5 L1813.8 402.2 L1814.4 399.9 L1817.1 400.9 L1815.8 396.9 L1819.1 401 L1817.9 401.2 L1820.7 393.3 L1819.4 397.6 L1821.9 392.7 L1821.2 391.9 L1821.1 394.9 L1821.9 391.7 L1823 392.8 L1822.5 383.4 L1821.8 390.4 L1822.3 380.5 L1823.1 383.8 L1823.4 382.3 L1822.2 379.3 L1821.6 378.2 L1822.6 374.2 L1821.1 377.2 L1822.7 377 L1822 369.4 L1822 369.8 L1823 367.6 L1822.5 370 L1820.8 368.1 L1820 363.7 L1821.7 360.2 L1822.6 367 L1825.2 364.9 L1826.1 359.9 L1826.1 358.5 L1825.8 358.5 L1826.4 361.2 L1827.8 364.1 L1828.8 369.7 L1829.1 367.9 L1831 369.2 L1831.4 375.3 L1832.6 370.4 L1833.1 377.5 L1832 371.9 L1834.2 377.9 L1833.3 382.1 L1834.7 383.4 L1835.5 382.4 L1834.7 381.7 L1836 374.9 L1836.2 377.4 L1837.9 376.9 L1838.3 375.4 L1837 368.7 L1839 369.6 L1839.4 370.3 L1839.2 368 L1837.8 365.6 L1839.5 360.8 L1838.8 365.4 L1838.6 356.8 L1838.8 359 L1839.2 358.2 L1839.4 355.8 L1841.6 357.8 L1841.4 352.7 L1841 354.4 L1840.5 348.9 L1840.9 348.3 L1842 348.8 L1842.6 350 L1843.6 350.8 L1843.5 350.7 L1843 354.2 L1844 352.3 L1846.1 354.9 L1844.1 358.2 L1844.9 357.5 L1845.4 360.1 L1846.2 359.7 L1845.9 366.1 L1844.2 360.1 L1843.8 366.2 L1845.8 367 L1843.9 369.6 L1845.4 374.1 L1844.6 369 L1844.6 373.2 L1843.8 371.2 L1846 374.4 L1846.2 378.5 L1843.8 383.1 L1847 378.2 L1846.3 378.5 L1847.2 381 L1846.6 388 L1847.1 388 L1846.5 387.5 L1848.6 378.4 L1847.4 378.1 L1848.3 378.3 L1848.9 376.2 L1851.8 378.6 L1850.4 374.9 L1850.2 378.2 L1850.6 378.2 L1853.7 381.4 L1853.6 380.5 L1852 382 L1853.5 391 L1854.8 387.9 L1854.9 389.6 L1854.4 390.2 L1854.1 394.9 L1854.6 392.4 L1854.7 392.5 L1856.2 399.9 L1858.1 393.6 L1859.2 395.5 L1859.5 395.2 L1859.7 392.7 L1859.4 396.2 L1860.7 395 L1859.8 401.2 L1860.7 398.7 L1860.4 401.9 L1858.2 406.4 L1859.8 410.7 L1858.2 409.5 L1860.1 409.4 L1859.3 407.2 L1858 411 L1857.6 410 L1858 416.1 L1858.4 416.5 L1858.3 420 L1858.9 417.7 L1856.9 417.4 L1857.6 421.3 L1858.5 419.9 L1855.4 425.7 L1855.7 421.4 L1853.2 424 L1850.7 423.5 L1848.5 427.4 L1850.4 428 L1853.7 424.5 L1852.9 424.2 L1856.5 423 L1855.8 425.8 L1857.5 433.1 L1858 434 L1859 427.2 L1858.4 431.5 L1858.2 432 L1858.6 439.3 L1859.9 436.7 L1859.4 439.8 L1859.8 435.7 L1859.6 444.2 L1860.7 444.5 L1859.5 445.1 L1857.8 446.6 L1859.8 447.8 L1858.4 449.8 L1858.7 448.6 L1856.3 452 L1857.4 456.1 L1856.5 454 L1860 450.4 L1860.2 457 L1861.6 457.3 L1862 460.7 L1861.5 454.9 L1862.3 457.5 L1859.8 458.2 L1861.3 466.4 L1859.3 466.2 L1858 461.9 L1858.2 464.5 L1857.7 469.4 L1858.8 469.7 L1860.5 467.3 L1862.2 472.3 L1864.2 467.2 L1864.4 472.3 L1865.6 472.5 L1864.5 477.1 L1863.6 473.2 L1861 479.3 L1860.5 477.8 L1860.4 480 L1863.4 476.8 L1862.3 482.1 L1864.2 480.4 L1865.8 483.5 L1868.4 483.4 L1869.1 478.1" fill="none" stroke="#000" stroke-width="8.0" stroke-linejoin="round" stroke-linecap="round" />
<path d="M426.3 1101.9 L426.4 1100.1 L426.5 1098.3 L426.6 1096.5 L426.7 1094.7 L426.8 1092.8 L426.9 1091 L427 1089.2 L427.1 1087.4 L427.2 1085.6 L427.3 1083.8 L427.4 1082 L427.5 1080.2 L427.6 1078.4 L427.7 1076.5 L427.8 1074.7 L427.9 1072.9 L428 1071.1 L428.1 1069.3 L428.2 1067.5 L428.4 1065.7 L428.5 1063.9 L428.6 1062.1 L428.8 1060.3 L428.9 1058.5 L429 1056.7 L429.2 1054.9 L429.3 1053.1 L429.5 1051.2 L429.6 1049.4 L429.7 1047.6 L429.9 1045.8 L430 1044 L430.1 1042.2 L430.3 1040.4 L430.4 1038.6 L430.5 1036.8 L430.7 1035 L430.8 1033.2 L430.9 1031.4 L431 1029.6 L431.1 1027.8 L431.2 1026 L431.3 1024.2 L431.4 1022.4 L431.6 1020.5 L431.7 1018.7 L431.8 1016.9 L431.9 1015.1 L432 1013.3 L432.1 1011.5 L432.2 1009.7 L432.3 1007.9 L432.4 1006.1 L432.5 1004.3 L432.6 1002.5 L432.7 1000.7 L432.9 998.8 L433 997 L433.1 995.2 L433.2 993.4 L433.3 991.6 L433.4 989.8 L433.5 988 L433.6 986.2 L433.8 984.4 L433.9 982.6 L434.1 980.8 L434.2 978.9 L434.4 977.1 L434.5 975.3 L434.7 973.5 L434.8 971.7 L434.9 969.9 L435.1 968.1 L435.2 966.3 L435.4 964.4 L435.5 962.6 L435.7 960.8 L435.8 959 L435.9 957.2 L436.1 955.4 L436.2 953.6 L436.4 951.8 L436.5 949.9 L436.7 948.1 L436.8 946.3 L437 944.5 L437.1 942.7 L437.3 940.9 L437.6 939.1 L437.8 937.3 L438 935.5 L438.2 933.7 L438.5 931.9 L438.7 930.1 L438.9 928.3 L439.1 926.5 L439.4 924.7 L439.6 922.8 L439.8 921 L440 919.2 L440.2 917.4 L440.5 915.6 L440.7 913.8 L440.9 912 L441.2 910.2 L441.4 908.4 L441.6 906.6 L441.9 904.8 L442.2 903 L442.5 901.2 L442.8 899.4 L443.1 897.6 L443.4 895.8 L443.7 894 L444.1 892.1 L444.4 890.3 L444.7 888.5 L445 886.7 L445.3 884.9 L445.6 883.1 L445.9 881.3 L446.2 879.5 L446.5 877.8 L446.9 876.1 L447.2 874.3 L447.6 872.6 L447.9 870.9 L448.3 869.2 L448.6 867.4 L448.9 865.7 L449.3 864 L449.6 862.3 L450 860.5 L450.3 858.8 L450.7 857.1 L451 855.4 L451.3 853.6 L451.7 851.9 L452 850.2 L452.4 848.5 L452.7 846.7 L453.1 845 L453.4 843.3 L453.8 841.6 L454.2 839.9 L454.6 838.2 L455 836.5 L455.4 834.7 L455.8 833 L456.2 831.3 L456.6 829.6 L457 827.9 L457.4 826.2 L457.8 824.5 L458.2 822.8 L458.6 821.1 L459 819.3 L459.4 817.6 L459.8 815.9 L460.2 814.2 L460.6 812.5 L461.1 810.7 L461.6 808.9 L462.1 807.1 L462.7 805.4 L463.2 803.6 L463.7 801.8 L464.2 800 L464.5 798.2 L464.8 796.4 L465.1 794.6 L465.5 792.8 L465.8 791 L466.1 789.2 L466.4 787.4 L466.7 785.6 L467 783.8 L467.3 782 L467.6 780.2 L468 778.4 L468.3 776.6 L468.6 774.8 L468.9 773 L469.2 771.2 L469.5 769.4 L469.8 767.6 L470.1 765.8 L470.5 764 L470.8 762.2 L471.1 760.4 L471.4 758.6 L471.8 756.9 L472.2 755.1 L472.5 753.4 L472.9 751.7 L473.3 749.9 L473.7 748.2 L474.1 746.4 L474.5 744.7 L474.8 743 L475.2 741.2 L475.6 739.5 L476 737.8 L476.4 736 L476.7 734.3 L477.1 732.6 L477.5 730.8 L477.9 729.1 L478.3 727.3 L478.7 725.6 L479 723.9 L479.4 722.1 L479.8 720.4 L480.3 718.6 L480.8 716.9 L481.3 715.1 L481.8 713.3 L482.3 711.6 L482.8 709.8 L483.3 708.1 L483.8 706.3 L484.3 704.5 L484.8 702.8 L485.3 701 L485.8 699.2 L486.3 697.5 L486.8 695.7 L487.3 694 L487.8 692.2 L488.3 690.4 L488.8 688.7 L489.3 686.9 L490 685.2 L490.8 683.6 L491.5 681.9 L492.3 680.3 L493 678.6 L493.7 677 L494.5 675.3 L495.2 673.7 L495.9 672 L496.7 670.4 L497.4 668.7 L498.2 667.1 L498.9 665.4 L499.9 663.9 L500.9 662.4 L501.8 660.8 L502.8 659.3 L503.8 657.8 L504.8 656.3 L505.8 654.8 L506.8 653.3 L507.7 651.7 L508.7 650.2 L509.7 648.7 L511.1 647.7 L512.5 646.7 L513.9 645.7 L515.2 644.7 L516.6 643.7 L518 642.7 L519.7 642.5 L521.4 642.2 L523 642 L524.7 641.7 L526.4 641.5 L528.2 642.1 L530 642.7 L531.8 643.3 L533.6 643.9 L535.4 644.5 L537.2 645.1 L538.7 646.3 L540.2 647.5 L541.7 648.7 L543.2 649.9 L544.6 651 L546.1 652.2 L547.6 653.4 L549.1 654.6 L550.4 655.8 L551.7 657 L553 658.2 L554.3 659.4 L555.6 660.6 L557 661.8 L558.3 663 L559.6 664.2 L560.9 665.4 L562.2 666.6 L563.5 667.8 L565 668.7 L566.5 669.6 L568 670.5 L569.5 671.4 L570.9 672.3 L572.4 673.2 L573.9 674.1 L575.4 675 L577.1 675.3 L578.8 675.5 L580.5 675.8 L582.3 676.1 L584 676.4 L585.7 676.6 L587.4 676.9 L589 676.2 L590.6 675.5 L592.1 674.8 L593.7 674 L595.3 673.3 L596.9 672.6 L598.1 671.2 L599.3 669.9 L600.5 668.5 L601.7 667.2 L602.9 665.9 L604.1 664.5 L605.3 663.1 L606.5 661.8 L607.6 660.4 L608.7 659 L609.7 657.6 L610.8 656.2 L611.9 654.8 L613 653.3 L614.1 651.9 L615.2 650.5 L616.2 649.1 L617.3 647.7 L618.4 646.3 L619.7 645 L621.1 643.6 L622.4 642.3 L623.7 641 L625.1 639.6 L626.4 638.3 L627.7 637 L629.1 635.6 L630.4 634.3 L631.8 633.2 L633.1 632.1 L634.5 631 L635.9 629.9 L637.2 628.8 L638.6 627.7 L640 626.5 L641.3 625.4 L642.7 624.3 L644 623.2 L645.4 622.1 L646.8 621 L648.1 619.9 L649.5 618.8 L650.8 617.7 L652.2 616.5 L653.5 615.4 L654.9 614.3 L656.2 613.2 L657.6 612 L658.9 610.9 L660.2 609.8 L661.6 608.7 L662.9 607.5 L664.3 606.4 L665.6 605.3 L667 604.2 L668.3 603 L669.7 601.9 L671 600.8 L672.4 599.6 L673.8 598.4 L675.2 597.2 L676.6 596 L678.1 594.8 L679.5 593.6 L680.9 592.4 L682.3 591.2 L683.7 590.1 L685.1 588.9 L686.5 587.7 L687.9 586.5 L689.4 585.3 L690.8 584.1 L692.2 582.9 L693.6 581.7 L695 580.5 L696.1 579 L697.2 577.6 L698.3 576.1 L699.3 574.6 L700.4 573.2 L701.5 571.7 L702.6 570.2 L703.7 568.8 L704.8 567.3 L705.9 565.8 L707 564.4 L708 562.9 L709.1 561.4 L710.2 559.9 L711.3 558.5 L712.4 557 L713.5 555.5 L714.6 554.1 L715.6 552.6 L716.7 551.1 L717.8 549.7 L718.9 548.2 L720.1 546.8 L721.2 545.4 L722.4 544.1 L723.6 542.7 L724.8 541.3 L725.9 539.9 L727.1 538.6 L728.3 537.2 L729.5 535.8 L730.6 534.4 L731.8 533 L733 531.7 L734.1 530.3 L735.3 528.9 L736.5 527.5 L737.7 526.2 L738.8 524.8 L740 523.4 L741.2 522.1 L742.5 520.8 L743.7 519.5 L744.9 518.2 L746.2 516.9 L747.4 515.7 L748.7 514.4 L749.9 513.1 L751.1 511.8 L752.4 510.5 L753.6 509.2 L754.8 507.9 L756.1 506.6 L757.3 505.3 L758.5 504 L759.7 502.7 L761 501.4 L762.2 500.1 L763.4 498.8 L764.6 497.5 L765.9 496.2 L767.1 494.9 L768.2 493.5 L769.4 492.2 L770.5 490.8 L771.6 489.5 L772.8 488.1 L773.9 486.8 L775 485.4 L776.2 484 L777.3 482.7 L778.4 481.3 L779.6 480 L780.7 478.6 L781.8 477.2 L783 475.9 L784.1 474.6 L785.2 473.2 L786.3 471.9 L787.5 470.5 L788.6 469.1 L789.7 467.8 L790.8 466.4 L792 465.1 L793.1 463.8 L794.2 462.4 L795.2 461 L796.3 459.6 L797.3 458.2 L798.4 456.8 L799.4 455.4 L800.5 454 L801.5 452.5 L802.6 451.1 L803.6 449.7 L804.7 448.3 L805.7 446.9 L806.8 445.5 L807.8 444.1 L808.8 442.7 L809.9 441.3 L810.9 439.9 L812 438.5 L813 437.1 L814.1 435.7 L815.1 434.2 L816.2 432.8 L817.2 431.4 L818.3 430 L819.3 428.6 L820.4 427.2 L821.4 425.8 L822.4 424.3 L823.5 422.9 L824.5 421.4 L825.6 420 L826.6 418.5 L827.6 417 L828.7 415.6 L829.7 414.1 L830.7 412.6 L831.8 411.2 L832.8 409.7 L833.9 408.3 L834.9 406.8 L835.9 405.3 L837 403.9 L838 402.4 L839.1 401 L840.1 399.5 L841.2 398 L842.2 396.6 L843.3 395.1 L844.3 393.6 L845.4 392.2 L846.4 390.7 L847.5 389.3 L848.5 387.8 L849.5 386.3 L851 384.9 L851.1 383.4 L852.3 381.9 L853.8 380.5 L855.1 379 L856.2 377.6 L856.9 376.1 L858 374.7 L859.1 373.1 L860.3 371.7 L860.8 370.2 L862.3 368.8 L863.5 367.4 L864.6 365.9 L865.3 364.4 L865.9 363 L867 361.5 L868.7 360.1 L869 358.6 L870.5 357 L871 355.7 L872 354.3 L873.5 352.7 L874.5 351.3 L876 349.7 L876.6 348.5 L877.7 347.1 L879 345.7 L880.3 344.4 L880.9 343.2 L882.3 341.7 L883.4 340.5 L885.1 339 L885.7 337.5 L887.3 336.2 L888.1 334.9 L889 333.5 L890 332 L891.5 331 L892.7 329.4 L893.9 328 L894.7 327 L896.4 325.4 L897.4 324.1 L898.2 322.8 L899.8 321.5 L900.4 320.1 L901.7 318.6 L903 317.5 L904 316.2 L904.7 314.6 L906.5 313.1 L907.3 312 L908.8 310.4 L909.7 309.5 L911.2 307.6 L912.3 306.3 L914.2 304.9 L914.8 303.5 L916.3 302.2 L917.4 301.3 L919.2 300.2 L919.5 298.6 L921.6 297.1 L922.1 296.2 L923.5 295.2 L925.1 293.7 L925.9 292.3 L927.1 290.9 L928.7 289.7 L930.2 288.9 L930.8 287.8 L932.8 286.5 L934.2 285.5 L935.9 284.5 L937.2 284.4 L938.9 282.7 L940 281.7 L941.3 281.4 L943.3 279.7 L944.4 279.4 L945.6 278.6 L947.9 277.5 L948.8 276.8 L950.5 275.2 L951.7 274.3 L953.8 273.7 L955.1 273.2 L956.9 271.5 L957.8 271.4 L959.7 269.9 L961.1 268.8 L962.1 267.7 L963.7 266.9 L965.3 266.8 L966.3 265.3 L968.5 264.4 L969.5 263.6 L970.5 262.8 L972.5 261.7 L974.1 259.7 L974.8 258.8 L976.6 258.9 L978.5 257.2 L979.6 256.6 L980.7 256 L982.8 254.5 L984.1 253.4 L985.3 251.6 L986.4 250.3 L987.6 250.2 L989.2 247.7 L990.7 246.7 L992.2 245.9 L993.4 244.9 L995 243.6 L996.9 242.4 L998 242.1 L999.9 240.2 L1000.4 240.1 L1002.3 238 L1003.3 237 L1004.9 235.9 L1006.1 236.2 L1008.3 233.8 L1009.3 233.9 L1010.8 231.8 L1012 231.3 L1014 230.6 L1015 229.7 L1016 228.8 L1018.2 227.8 L1019.3 226.4 L1020.5 225.3 L1022.2 225.1 L1024.4 223.9 L1025.6 223.8 L1027.3 222.1 L1029.2 222.2 L1030.1 220.9 L1032 221.2 L1033.2 219.6 L1035 218.5 L1036.4 218.9 L1038.4 218.5 L1040 218.3 L1042.3 217 L1043.9 217.5 L1045.8 217.1 L1047.3 216.7 L1049.3 216.9 L1051.2 216.9 L1053.2 215.4 L1054.9 215 L1057.1 215 L1058.8 215.5 L1060.8 215.2 L1062.6 216.3 L1064 215.4 L1066 216.3 L1067.7 215.4 L1069.7 216.7 L1071.3 217 L1073.5 215.9 L1075 216.4 L1077.2 216.2 L1078.7 216.9 L1080.7 217 L1082.8 217.6 L1084.7 217 L1086.2 218.2 L1087.9 217.2 L1089.8 218.5 L1092.1 218.9 L1094.1 218.1 L1095.7 219 L1097.4 219.3 L1099.4 218.2 L1101.2 219.2 L1102.8 220 L1105.5 219.5 L1107.3 220 L1108.8 219.4 L1111.1 220.8 L1112.4 220 L1113.9 220.4 L1116.5 220.1 L1117.8 220.6 L1120.1 219.9 L1121.5 220.7 L1123.1 221.1 L1125.2 221.2 L1127.2 220.2 L1128.6 220.2 L1130.6 221.6 L1132.8 221.8 L1134 222.2 L1136.1 222.1 L1137.1 222.6 L1139 222.5 L1140.8 222.7 L1143 223.4 L1144.7 224.5 L1145.5 225.2 L1148 224.9 L1149.8 225.4 L1150.6 225.3 L1152.6 227 L1154.8 226.3 L1156 226.8 L1157.5 227.7 L1159.4 227.8 L1161.3 228.5 L1163.2 229.4 L1164.4 230.3 L1166 230 L1167.7 230.3 L1169.6 231.3 L1171.6 231.5 L1173.4 230.8 L1175.3 231.5 L1177.7 231.5 L1178.9 231.7 L1180.8 233.2 L1183.3 232.3 L1184.2 233 L1186.5 232.8 L1188 234.3 L1189.2 234.7 L1191.6 235.2 L1193.1 235.1 L1194.8 235 L1196.5 235.6 L1198 235.8 L1199.5 236.2 L1201.6 236.9 L1203.3 237.8 L1204.6 237.9 L1206.7 239.4 L1208.5 239.9 L1210 239.8 L1211.5 241.7 L1213.2 241.3 L1215 243.1 L1216.3 242.6 L1218.4 244.5 L1220 244.2 L1222.1 244.7 L1223.3 246.2 L1225.5 247.4 L1226.7 247.1 L1228.4 247.6 L1230 249.4 L1232.4 249.4 L1233.1 250.8 L1235.7 251.7 L1236.8 252.3 L1238.9 253.1 L1240.3 254.2 L1242.4 253.1 L1243.9 252.9 L1245.7 254.1 L1247.7 253.8 L1249.8 253.1 L1251.3 253.9 L1253.2 254.3 L1255.5 254.5 L1257 254.4 L1258.8 255 L1260.6 255 L1262.1 255.4 L1264.1 256 L1266 257.3 L1267.7 257.9 L1269 258 L1270.2 259.2 L1272.6 259.9 L1274.3 259.5 L1275.9 260.6 L1277.3 262.2 L1279.2 261.9 L1280.7 261.8 L1282.7 262.3 L1284.8 262.4 L1286.2 262.8 L1288.7 264.6 L1290.6 264.2 L1291.8 265 L1293.7 264.3 L1295.9 265.9 L1296.9 267.2 L1298.2 268.8 L1299.8 270 L1301.3 271.2 L1301.8 272.1 L1303.3 273.8 L1304.3 274.9 L1305.6 275.6 L1306.9 278 L1308.7 278.1 L1310.1 279 L1311.9 279.7 L1313.2 280.9 L1314.5 282.8 L1316.2 283.9 L1317.9 285.2 L1318.4 285.9 L1320.2 287.7 L1321.5 287.8 L1323.4 289.2 L1325.6 289.4 L1327 289.2 L1329.2 290.8 L1330.7 290.9 L1332.9 291.3 L1334.2 290.9 L1335.7 291.6 L1338.3 292.1 L1340.1 293.1 L1341.4 292.8 L1343.1 293.7 L1344.2 293.7 L1346.1 295.5 L1347 296.1 L1348.1 297.4 L1350.1 298.3 L1351.4 299.8 L1352.4 300.6 L1354.7 301.5 L1355.5 302.3 L1357.5 303.2 L1359.2 304.3 L1361.1 303.9 L1362.2 304.5 L1364.3 305.3 L1365.3 306.8 L1366.9 306.8 L1368.5 307.6 L1370.1 309.1 L1371.5 309.4 L1373.4 308.8 L1375.2 308.7 L1377 306.8 L1378.1 306 L1379.9 305.8 L1381.6 305.2 L1382.8 303.2 L1383.8 302.7 L1385.2 301 L1385.7 300.7 L1387.1 299.1 L1388.4 298.8 L1389.8 297.3 L1391.2 296.2 L1392.4 294.5 L1394.1 294.7 L1396 293.2 L1397.6 292.9 L1398.4 291.9 L1400.7 290.2 L1402 290.7 L1403.8 290 L1405 289.1 L1407.5 288.7 L1408.8 288.6 L1410.1 289.4 L1411.9 291.1 L1413.7 291 L1414.9 293 L1416.8 293.6 L1418.1 294.8 L1419.7 296.2 L1421.9 296.4 L1423 295.9 L1425.1 295.2 L1426.8 296.3 L1429.5 295.6 L1431 295.2 L1433.4 296.2 L1434.5 296 L1437.3 295.6 L1438.6 295.9 L1440.2 295 L1442 294.7 L1443.6 294.6 L1445.4 294.6 L1447 293.1 L1448.5 293.6 L1449.7 291.7 L1451.2 292.2 L1453.7 290.4 L1454.7 290.2 L1456.2 289.9 L1458.5 291.4 L1459.3 292.7 L1461.4 292.7 L1463 295.1 L1463.9 296.5 L1464.7 297.8 L1464.8 299.6 L1466.2 300.4 L1466.7 303.3 L1468.4 303.6 L1468.4 306.3 L1469.6 308.2 L1471.5 307.9 L1472.9 308 L1474.8 307.5 L1476.9 307.3 L1478.6 307.5 L1480.5 307.1 L1482.5 308.2 L1483.3 310.2 L1484.5 310.7 L1485.1 313.8 L1485.2 314.8 L1486.1 316.6 L1486.3 318.8 L1487.4 319.4 L1488.4 320.5 L1490.4 321.4 L1491 323 L1492.3 323.5 L1493 322.2 L1494.8 321.6 L1495.8 319.9 L1496.9 317.6 L1497.6 316.3 L1498.9 314.7 L1499.7 313.7 L1500.9 312.1 L1501.3 310.4 L1502.8 309.3 L1503.3 307.5 L1504.8 305 L1505.2 304.1 L1506.9 302.3 L1508.1 300.6 L1509.3 299.9 L1510.7 298.8 L1511.2 297.1 L1512.4 295.6 L1513.9 294.4 L1514.1 292.7 L1515.2 291.1 L1516.4 289.6 L1517.6 287.8 L1518.2 286.3 L1518.8 285.4 L1519.7 284.2 L1520.7 281.5 L1521.9 279.7 L1522.2 279.1 L1522.7 277.6 L1524 276.5 L1524.5 274.6 L1526 272.5 L1525.9 270.6 L1527.4 268.5 L1528.3 267.7 L1529.4 265.9 L1530.6 263.9 L1531.1 262.6 L1532.3 260.8 L1533.2 259.6 L1534.7 257.3 L1535.9 258 L1538.1 259.4 L1539.2 259.8 L1541.9 259.7 L1542.8 261.7 L1544.3 262.1 L1545.3 263.3 L1546.2 266 L1547.6 266.8 L1548.6 268 L1549.4 269.4 L1551.5 269.9 L1551.8 271.9 L1553.7 272.8 L1554.7 273 L1557 272.1 L1558.9 272.5 L1560.5 271.8 L1561.8 272.3 L1563.9 272.4 L1565.8 272.1 L1565.9 273.3 L1567.5 275.5 L1568.1 276 L1569.3 277.9 L1570.2 279.7 L1572.4 279.9 L1573.8 281.9 L1575.7 281.3 L1577.3 283 L1578.9 283.7 L1580.6 283.5 L1581.4 284.6 L1583.3 285.4 L1583.7 286.9 L1583.8 288.6 L1585 290.3 L1585.4 291.7 L1585.2 292.8 L1585.8 294.4 L1586.5 296.1 L1587.1 298.6 L1587.8 298.9 L1587.7 301.5 L1587.9 303.4 L1588.7 304.3 L1588.8 305.9 L1589 307.8 L1589.7 310.4 L1590.2 311.5 L1590.4 313.4 L1590.5 314.2 L1591.2 317 L1592.5 317.1 L1593.2 318.6 L1593.9 320.4 L1595 321.3 L1596.1 324.2 L1597 324.8 L1597.8 326.1 L1598.7 327.4 L1599.4 330.3 L1599.8 332 L1600.5 333.3 L1601 334.7 L1601.9 336.7 L1601.7 338 L1602.4 340.1 L1603 341.4 L1603.4 344.3 L1604.7 345.7 L1605.8 346.2 L1606.3 348.8 L1607.2 350.1 L1608.2 351.9 L1608.7 352.6 L1609.7 354.2 L1610.6 355.9 L1610.9 358.6 L1611.6 360.4 L1612.3 362.3 L1613 364.1 L1613.4 365.1 L1614.4 367.2 L1614.5 369.2 L1615.3 370.6 L1615.1 372.7 L1615.8 373.1 L1616.6 375.2 L1617.1 377.5 L1618 379.6 L1619 381.4 L1619.6 382.8 L1619.4 385 L1620.9 386 L1622.3 385.1 L1624.5 383.4 L1624.8 382.3 L1625.5 381.3 L1625.9 378.9 L1627.7 377.6 L1627.5 376.3 L1629 375.2 L1629.9 376.9 L1630 377.6 L1631.1 379.3 L1631.5 380.5 L1632 382.3 L1632.6 385 L1632.8 386.2 L1633.1 388.2 L1634 390.3 L1634.4 392 L1634.9 394.2 L1636 394.3 L1637.1 396.5 L1638.1 398.4 L1638.5 398.7 L1639.1 401.2 L1640.2 401.3 L1642.1 403.4 L1643.3 403.7 L1644.8 406 L1645.3 405.1 L1647.1 404 L1648.9 404.6 L1649.8 403.7 L1652.2 403.1 L1653.6 403.6 L1654.5 404.2 L1655.9 405 L1657.2 406.9 L1658.6 408.9 L1658.7 409.2 L1659.8 411.9 L1661.3 413.4 L1662.1 414.9 L1662.4 416.8 L1663.4 418.5 L1664.1 419.7 L1664 421.5 L1665.3 423.8 L1666 425.4 L1666.9 426 L1667.7 428 L1667.9 429.4 L1668.7 430.9 L1669.6 432.2 L1670 434.6 L1671.2 433 L1671.3 430.7 L1672 430 L1672 427.3 L1672.8 426.3 L1673.8 423.1 L1674.6 422.2 L1674.3 419.8 L1674.7 418.3 L1675.1 417.4 L1675.6 415.1 L1676.6 413.3 L1676.7 411.5 L1677.3 410 L1677.9 407.6 L1679.2 407.5 L1680.6 405.8 L1681.1 403.4 L1682.4 404.2 L1684.8 404.8 L1685.8 405 L1684.2 405.4 L1683.5 404.9 L1685.1 405.2 L1686.4 404.5 L1688 404.4 L1690.6 403.3 L1691.6 404.7 L1691.9 407.1 L1692.6 407.2 L1693.8 409.7 L1694.4 410.5 L1695.2 412 L1697.1 413.9 L1699.6 414.7 L1700.7 415.5 L1703.3 416 L1703.5 416.9 L1704.1 420.7 L1704.3 422.6 L1704.9 424.1 L1705.3 425 L1705.6 427.2 L1706.6 427.7 L1707 429.5 L1707.5 432.9 L1708.3 434.6 L1708.5 436.4 L1709 438.3 L1709.6 440.4 L1709.8 442.5 L1709.9 442.1 L1710.1 445.1 L1711.3 445.9 L1711.6 448.5 L1711.8 449.5 L1712.4 452 L1712 454.2 L1712.1 456.1 L1713.1 456.6 L1712.7 458.7 L1712.8 461.4 L1713.6 462.8 L1713.7 465.7 L1715.2 463.5 L1716.6 462.1 L1717.9 461 L1718.7 460.1 L1719.6 461.9 L1720.3 463.9 L1721 466.5 L1721.3 467.4 L1722.4 469.3 L1722.6 473 L1723.8 474.3 L1724.4 473.1 L1725.5 471.7 L1726.4 469.2 L1727.3 467.7 L1728 465.2 L1728.1 465.2 L1728.6 461.8 L1729.9 462.2 L1730.6 460.1 L1730.5 457.8 L1731.2 454.6 L1731.4 454.2 L1732.2 452.3 L1733.5 449.2 L1733.5 449.8 L1734.2 446.4 L1735.4 444.3 L1735.9 442.3 L1737.1 440.6 L1737.4 443.1 L1737.5 443.8 L1738.2 445.4 L1738.5 447.2 L1738.4 450.2 L1738.9 451.5 L1739.7 453.5 L1739.2 456.4 L1740 457.8 L1740.6 460.4 L1740.2 462.2 L1741.1 461.7 L1741 465.7 L1741.2 466 L1741.6 469.3 L1741.4 470.5 L1742.4 473.2 L1742.6 473 L1742.8 476.1 L1742.5 478.1 L1743.2 479.3 L1743.5 481.2 L1743.2 481.6 L1743.3 483.9 L1743.7 486.5 L1743.8 486.9 L1744.4 490.6 L1744.5 490.3 L1745.1 493.5 L1745.3 495.9 L1745.5 497.9 L1745.5 499.8 L1745.6 501.9 L1746 501.3 L1745.8 505.4 L1746.2 506.2 L1746.1 506.5 L1746.3 508.1 L1746.3 511.2 L1746.7 513.5 L1747.1 515.7 L1747.3 517.6 L1746.9 518.4 L1748 521 L1748 523.5 L1747.5 523.8 L1748.3 525.1 L1748.1 526.5 L1747.7 530.4 L1748.5 531.8 L1748.8 533 L1748.8 535.4 L1749.4 532.7 L1750 530.9 L1751.5 527.9 L1752.5 526.6 L1752.5 525.1 L1752.4 524.3 L1752.9 521.8 L1754 520.2 L1753.9 517.4 L1753.9 517.6 L1754.8 514.3 L1755.9 516.5 L1756.3 519.3 L1757.4 518.9 L1758.8 520.7 L1759.2 523.4 L1760.2 523.1 L1761 523.7 L1762.4 526.9 L1764 527.4 L1765.3 527 L1766.7 527.2 L1767 525.4 L1767.1 524.4 L1768.6 520.8 L1769.2 521.4 L1769.2 519.6 L1769.8 517.4 L1771.4 513.7 L1771.6 514.9 L1772.5 516.5 L1773.2 518.5 L1773.7 521.6 L1774.5 521.5 L1775.3 523.8 L1776.5 526 L1776.7 528.1 L1776.7 529.9 L1776.9 529.7 L1777.7 533.3 L1777.8 536.2 L1777.9 537.5 L1778.7 538.5 L1778.9 538.5 L1779 542.4 L1779.4 544.7 L1779.1 545.4 L1779 547 L1779.4 550 L1779.2 549.3 L1779.8 553.6 L1779.4 555 L1779.6 557.4 L1780.3 557 L1780.2 560.9 L1781 560 L1780.7 562.1 L1781.5 566.6 L1781.2 568.1 L1781.2 569.9 L1781.4 569.9 L1782 573.2 L1782.1 573 L1781.9 575.1 L1782.4 578.7 L1782.7 577.7 L1783.5 573.8 L1783.8 573.7 L1783.9 571.2 L1784.7 569.9 L1785.1 565.4 L1785.8 564.1 L1786.1 562 L1786.8 562.6 L1787.3 560.4 L1787.6 558 L1787.7 555.4 L1787.1 553.4 L1787.6 553.5 L1788.1 550.1 L1788.3 550.3 L1788.1 547.8 L1788.1 545 L1788.2 542.9 L1788.3 541.4 L1789.2 538.9 L1788.7 539.6 L1789 535.5 L1789 533 L1789.9 533.6 L1790.2 532.3 L1790 530.8 L1789.8 528.2 L1790.6 524.4 L1790.8 525.5 L1790.3 520.9 L1790.4 519.2 L1790.8 519.5 L1790.9 515.7 L1791.5 515.9 L1791 514.1 L1791.9 510.6 L1791.8 507.9 L1792 505.9 L1792.5 506 L1792.1 503.1 L1792.6 501.6 L1792.8 500.8 L1792.9 497.4 L1792.4 498.5 L1793 494.9 L1793.3 491.8 L1793 490.3 L1792.8 488.7 L1793 486.4 L1792.8 486.8 L1792.9 484.4 L1793.8 483.6 L1794 482.3 L1795.6 480.5 L1797 480.9 L1797.7 479.3 L1797.7 480 L1798.5 482.5 L1798.2 484.6 L1798.6 486.3 L1799 486.5 L1798.7 487 L1799.4 488.7 L1798.8 491.1 L1799.1 492.5 L1799.8 494.6 L1800.1 496.6 L1800.3 500 L1799.9 500.8 L1800.5 501.2 L1800 505.5 L1800.2 504.8 L1800.5 509 L1801.2 509.6 L1801.2 513 L1801.1 514.3 L1801.5 514.1 L1802.2 516.4 L1802.4 519.2 L1802.2 519.9 L1802.8 523.3 L1803.5 523.7 L1803.4 526.7 L1804 525.9 L1804.4 530.6 L1804 531.7 L1804.4 532 L1804.2 534.8 L1805 536.1 L1805.1 537.1 L1805.4 540.9 L1805.2 540.4 L1804.9 543.3 L1805.3 543.8 L1805.6 548.8 L1805.9 549.7 L1806.1 550.1 L1806.1 552.8 L1806.9 554.4 L1806.9 556.5 L1807 559.5 L1807.9 558.5 L1808.1 562.3 L1807.6 564.3 L1808.6 564.4 L1808.3 566.8 L1808.4 567.5 L1809.3 570.2 L1809.3 574 L1809.9 573.6 L1809.4 574.6 L1810.3 578.3 L1810.9 580.1 L1809.4 579.4 L1809.4 580 L1809.3 581.8 L1809.7 583.5 L1809.9 584.8 L1809.8 586.7 L1809.9 589.7 L1809.5 588.8 L1809.7 591.2 L1809.7 594.2 L1810.1 595.5 L1810.5 596 L1810.7 600.1 L1810.2 601.7 L1810.9 600.7 L1810.5 605 L1810.6 604.7 L1810.7 606.8 L1811.2 609.3 L1810.9 612.7 L1811 612.9 L1811.8 616.1 L1811.5 615.7 L1811.9 617.9 L1812.1 619.7 L1811.9 620 L1812.5 621.9 L1812.6 622.9 L1812.7 625.1 L1813.1 629.5 L1813.7 625.4 L1814.8 624.2 L1815.5 621.9 L1817.1 623.1 L1817.4 621.2 L1818.5 619.4 L1818.7 615.3 L1818.6 616.3 L1819.1 614.3 L1819.1 612.7 L1820 608.5 L1820.2 609.8 L1819.8 605.3 L1820.9 605.2 L1820.7 601.5 L1821.5 599.3 L1821.9 597.5 L1821.5 597.4 L1822.1 600.3 L1822.1 602.4 L1822.3 602.1 L1823.2 603.7 L1823 604.5 L1823.6 607.9 L1823.9 610.2 L1823.7 609.7 L1823.9 613 L1824.2 614.6 L1824.3 615.5 L1825.5 619.2 L1825.4 620.9 L1825.6 621.8 L1826.2 622.1 L1826.9 624.8 L1827.2 625.2 L1827.5 628.9 L1828.4 630.8 L1828.4 632.8 L1827.8 634.2 L1828.5 632.8 L1828.5 637.4 L1829.4 636.3 L1829.2 641 L1830.4 642.9 L1830.6 644.4 L1830.9 644.5 L1830.3 646.5 L1830.3 648.2 L1830.9 648.7 L1831.5 652 L1831.9 651.7 L1832.9 653.8 L1832.4 657.7 L1832.7 658.1 L1833.1 658.5 L1832.6 660.4 L1832.7 662.8 L1833.3 665 L1832.3 665.8 L1832.3 668.7 L1833.7 671.9 L1833.6 670.7 L1833.5 673 L1832.8 674.2 L1834.3 675.8 L1834.8 678.4 L1834.1 682.2 L1834 682.2 L1835.7 684.7 L1834.7 684.5 L1836.2 688.1 L1836.8 688.2 L1835.6 691.8 L1836.2 694.7 L1836.6 693.6 L1837.5 695.4 L1837.7 700.4 L1838.5 696.8 L1838.8 696.4 L1837.6 695.1 L1839.7 691.4 L1838.4 690.7 L1839.3 686.7 L1839.6 686.4 L1839.8 682.9 L1839.9 682.6 L1840.7 681.8 L1840.6 679.5 L1839.9 678.6 L1840.1 677.3 L1840.9 673.6 L1840.7 672 L1841 669.1 L1841 666.9 L1841.4 665.3 L1840.9 663.2 L1841.5 661.4 L1841.5 661.9 L1841.1 658.9 L1841.5 657.5 L1841.6 655.4 L1842.6 652.4 L1842.8 653.8 L1842.5 651.4 L1842.7 648.4 L1842 645.5 L1842.7 645.7 L1843 645 L1842.8 645.3 L1843.2 647.9 L1843.3 648.6 L1844.9 648.9 L1845.5 651.2 L1845.9 652.5 L1846.2 654.3 L1846.2 658 L1845.9 659.2 L1846.3 661.5 L1846.5 662.2 L1846.4 663.8 L1845.7 663.5 L1847 665.6 L1846.2 667.6 L1845.9 669.3 L1846.6 670.8 L1847.3 674.3 L1846.1 674.5 L1847.5 679 L1847.1 677.3 L1847 680.9 L1847.4 683.2 L1847 685.8 L1847.2 686.3 L1848.3 688.8 L1848.3 688.7 L1848.3 692.5 L1849.2 692.2 L1848.8 694 L1848.2 697.9 L1850 699.6 L1849.4 698.2 L1848.6 700.5 L1849.6 702.6 L1850.9 706.5 L1849.8 706.2 L1849.8 708.3 L1850.1 708.9 L1851.2 712.9 L1851.7 713.1 L1850.4 716.6 L1850.5 718.7 L1851.4 718.3 L1851.4 720.6 L1852.1 721.6 L1850.4 723.7 L1850 724.7 L1852.1 728 L1852.1 730.5 L1851.8 730.9 L1852.5 732.4 L1852.6 733.2 L1851.9 738.2 L1851.8 737.7 L1851.8 739.7 L1851 741.5 L1851.2 743.4 L1852.2 745.4 L1852.7 745.2 L1851.1 748.2 L1851.2 751.3 L1853 751.1 L1852.6 753.1 L1852.2 756.1 L1852.6 755.9 L1851.6 759.4 L1853.7 761.3 L1853 762.7 L1853 765.2 L1853.2 765.7 L1852.6 767.3 L1853.2 769.6 L1852.2 770.9 L1854.6 772.7 L1854.2 775.2 L1854.8 776.7 L1852.7 778.5 L1855 781.7 L1854.3 781.2 L1854.3 782 L1854.8 786.2 L1853.6 788 L1855.3 790.1 L1855.3 791.3 L1854.7 792.6 L1854.8 793.7 L1855.1 794.8 L1855.2 795.2 L1854.9 794.1 L1856.6 792.6 L1855.8 790.6 L1854.7 786.3 L1854.9 785.2 L1854.7 783.4 L1857.1 782.2 L1855.2 780.6 L1856.6 779.3 L1855.5 776 L1856.2 775.2 L1857.5 773.3 L1857.2 771.7 L1856.6 768.4 L1858.1 769.4 L1857.7 766.6 L1858 763.5 L1856.2 762.8 L1857 759.7 L1857 760.9 L1858.3 755.9 L1857.2 756.7 L1858.3 753 L1858.2 753.6 L1856.8 752 L1857.6 747.5 L1858.1 746.7 L1857.3 744 L1858.8 742.3 L1857.2 741.1 L1858.4 740.7 L1858.8 738.2 L1859.4 736.2 L1858.7 734.4 L1858.3 733.1 L1858.4 732 L1858.9 730 L1857.7 727.5 L1858 724.9 L1858.4 721.3 L1859.6 721.5 L1858.3 719.7 L1859.8 716.2 L1858.4 717 L1860.2 715.2 L1858.5 711.3 L1858.4 709 L1858.6 708.6 L1860.1 705.2 L1859.2 706.4 L1860.7 702.8 L1861.4 700.8 L1859.8 699.8 L1860.7 700.2 L1860.3 698.1 L1861.3 700 L1862.1 701.7 L1861.8 702.4 L1861.7 703.1 L1862.4 704 L1861.5 708.7 L1862.2 708.5 L1862.9 709.8 L1862.1 712.9 L1862.6 715.2 L1863.1 715 L1862.8 717.9 L1862.1 720.6 L1862.4 721.5 L1862.1 722.9 L1862.6 725.1 L1863.4 727.7 L1862.9 729.4 L1864.4 729.3 L1864.6 731.1 L1863.6 733.9 L1865 734.5 L1864.9 735.2 L1865.4 739.8 L1865.9 739.6 L1865.4 742.4 L1864.1 742 L1865.6 746.9 L1865.9 747.2 L1866.7 747.6 L1866.9 749 L1866.6 751.2 L1866.5 753.5 L1867.1 755.7 L1866.8 756.1 L1867.1 758.3 L1866.9 759.9 L1865.2 761.3 L1866.4 762.5 L1865.8 764.4 L1865.9 767.7 L1865.8 770.1 L1865.9 770.8 L1866.3 773.4 L1866 773.2 L1866.4 776.5 L1864.9 778.5 L1864.3 780.4 L1864.9 782.3 L1864.2 783.9 L1864.9 783.4 L1864.9 785.5 L1865.6 788 L1864 790.1 L1865.2 792.3 L1865.5 794.4 L1866.3 796.1 L1864.7 799 L1865.1 798.3 L1864.1 801.6 L1865.7 801.3 L1866.7 803.1 L1865.8 806.4 L1865.5 807.4 L1866.4 806.2 L1865.9 803.7 L1866.7 802.3 L1866.5 802.1 L1867.7 800.8 L1866.8 798.3 L1868.2 794.9 L1868.3 794.8 L1868.7 791 L1868.3 791.3 L1868.1 787.1 L1870 787.2 L1870.4 788.2 L1868.9 791.9 L1868.8 792.7 L1868.1 793.4 L1869.1 795.5 L1867.9 798.5 L1870.2 799.9 L1869.7 802.3 L1870.1 803.8 L1868.6 802.8 L1868.4 804.4 L1868.6 809.3 L1869.5 808.5 L1868.8 810.5 L1869.1 811.9 L1867.2 815 L1869.4 816.3 L1868.1 819.5 L1868.2 820.8 L1868 821.2 L1867.7 823.5 L1866.8 824.3 L1866.7 827.5 L1867.3 829 L1867 831.2 L1867.9 830.6 L1865.8 835.1 L1866.1 837.4 L1866.3 836.6" fill="none" stroke="#f00" stroke-width="7.2" stroke-linejoin="round" stroke-linecap="round" />
<path d="M425.9 1138 L426 1136.2 L426 1134.4 L426.1 1132.6 L426.2 1130.8 L426.3 1129 L426.3 1127.2 L426.4 1125.4 L426.5 1123.6 L426.5 1121.8 L426.6 1119.9 L426.7 1118.1 L426.8 1116.3 L426.8 1114.5 L426.9 1112.7 L427 1110.9 L427.1 1109.1 L427.1 1107.3 L427.2 1105.5 L427.3 1103.7 L427.4 1101.9 L427.5 1100.1 L427.6 1098.3 L427.6 1096.5 L427.7 1094.6 L427.8 1092.8 L427.9 1091 L428 1089.2 L428.1 1087.4 L428.2 1085.6 L428.3 1083.8 L428.4 1082 L428.5 1080.2 L428.6 1078.3 L428.6 1076.5 L428.7 1074.7 L428.8 1072.9 L428.9 1071.1 L429 1069.3 L429.1 1067.5 L429.2 1065.7 L429.3 1063.9 L429.4 1062.1 L429.5 1060.3 L429.6 1058.5 L429.8 1056.6 L429.9 1054.8 L430 1053 L430.1 1051.2 L430.2 1049.4 L430.3 1047.6 L430.4 1045.8 L430.5 1044 L430.6 1042.2 L430.7 1040.4 L430.8 1038.6 L430.9 1036.8 L431.1 1034.9 L431.2 1033.1 L431.3 1031.3 L431.4 1029.5 L431.5 1027.7 L431.6 1025.9 L431.7 1024.1 L431.8 1022.3 L432 1020.5 L432.1 1018.7 L432.3 1016.9 L432.4 1015.1 L432.6 1013.3 L432.7 1011.4 L432.9 1009.6 L433 1007.8 L433.1 1006 L433.3 1004.2 L433.4 1002.4 L433.6 1000.6 L433.7 998.8 L433.9 997 L434 995.2 L434.1 993.4 L434.3 991.6 L434.4 989.7 L434.6 987.9 L434.7 986.1 L434.9 984.3 L435 982.5 L435.2 980.7 L435.3 978.9 L435.5 977.1 L435.8 975.3 L436 973.5 L436.3 971.7 L436.5 969.9 L436.7 968.1 L437 966.3 L437.2 964.4 L437.5 962.6 L437.7 960.8 L437.9 959 L438.2 957.2 L438.4 955.4 L438.7 953.6 L438.9 951.8 L439.2 950 L439.4 948.2 L439.7 946.4 L440 944.6 L440.3 942.7 L440.5 940.9 L440.8 939.1 L441.1 937.3 L441.3 935.5 L441.6 933.7 L441.9 931.9 L442.1 930.1 L442.4 928.2 L442.7 926.4 L443 924.6 L443.2 922.8 L443.5 921 L443.8 919.2 L444.1 917.4 L444.4 915.6 L444.7 913.8 L445 912 L445.3 910.2 L445.6 908.4 L445.9 906.6 L446.2 904.8 L446.5 902.9 L446.8 901.1 L447.1 899.3 L447.4 897.5 L447.7 895.7 L448 893.9 L448.3 892.1 L448.6 890.3 L448.9 888.5 L449.2 886.7 L449.6 884.9 L449.9 883.1 L450.3 881.3 L450.6 879.4 L451 877.6 L451.3 875.8 L451.7 874 L452 872.2 L452.4 870.4 L452.8 868.6 L453.1 866.8 L453.4 865 L453.8 863.1 L454.1 861.3 L454.5 859.5 L454.8 857.7 L455.2 855.9 L455.6 854.2 L456 852.4 L456.4 850.7 L456.8 849 L457.2 847.3 L457.5 845.5 L457.9 843.8 L458.3 842.1 L458.7 840.4 L459.1 838.6 L459.5 836.9 L459.9 835.2 L460.3 833.5 L460.7 831.7 L461.1 830 L461.5 828.3 L461.9 826.6 L462.2 824.8 L462.6 823.1 L463 821.4 L463.4 819.7 L463.8 817.9 L464.2 816.2 L464.7 814.4 L465.3 812.6 L465.8 810.8 L466.3 809 L466.9 807.2 L467.4 805.4 L467.9 803.6 L468.5 801.8 L469 800 L469.4 798.2 L469.8 796.5 L470.2 794.7 L470.6 792.9 L471 791.2 L471.4 789.4 L471.8 787.6 L472.2 785.9 L472.6 784.1 L473 782.3 L473.4 780.6 L473.8 778.8 L474.2 777 L474.6 775.3 L475 773.5 L475.4 771.7 L475.8 770 L476.2 768.2 L476.7 766.5 L477.2 764.8 L477.7 763.1 L478.2 761.4 L478.7 759.8 L479.2 758.1 L479.7 756.4 L480.2 754.7 L480.6 753 L481.1 751.3 L481.6 749.6 L482.1 747.9 L482.6 746.3 L483.1 744.6 L483.6 742.9 L484.1 741.2 L484.6 739.5 L485.3 737.8 L486.1 736.2 L486.8 734.5 L487.5 732.9 L488.3 731.2 L489 729.6 L489.7 727.9 L490.4 726.3 L491.2 724.6 L491.9 723 L492.6 721.3 L493.4 719.7 L494.1 718 L495.3 716.6 L496.5 715.3 L497.7 714 L498.9 712.6 L500.1 711.2 L501.3 709.9 L502.5 708.6 L503.7 707.2 L505.5 706.6 L507.3 706 L509 705.4 L510.8 704.8 L512.6 704.2 L514.4 703.6 L516.2 704.2 L518 704.8 L519.8 705.4 L521.6 706 L523.4 706.6 L525.2 707.2 L526.4 708.6 L527.6 709.9 L528.8 711.2 L530 712.6 L531.2 714 L532.4 715.3 L533.6 716.6 L534.8 718 L535.6 719.6 L536.4 721.2 L537.2 722.8 L538 724.4 L538.8 726 L539.6 727.6 L540.4 729.2 L541.1 730.7 L541.9 732.3 L542.7 733.9 L543.5 735.5 L544.3 737.1 L545.1 738.7 L545.9 740.3 L546.7 741.9 L548.1 742.9 L549.4 744 L550.8 745 L552.2 746 L553.6 747 L554.9 748.1 L556.3 749.1 L558.2 749.2 L560.1 749.3 L562 749.4 L563.9 749.5 L565.8 749.6 L567.4 748.7 L569 747.8 L570.6 747 L572.2 746.1 L573.8 745.2 L575.4 744.3 L577.2 743.8 L579 743.4 L580.8 743 L582.6 742.5 L584.4 742 L586.2 741.6 L588 741.2 L589.8 740.7 L591.3 739.8 L592.8 739 L594.4 738.1 L595.9 737.2 L597.4 736.3 L598.9 735.5 L600.4 734.6 L601.9 733.7 L603.5 732.8 L605 732 L606.5 731.1 L608.1 730.2 L609.7 729.3 L611.3 728.4 L612.9 727.5 L614.5 726.6 L616 725.8 L617.6 724.9 L619.2 724 L620.8 723.1 L622.4 722.2 L624 721.3 L625.6 720.4 L627.2 719.6 L628.9 718.8 L630.5 717.9 L632.2 717.1 L633.8 716.3 L635.5 715.5 L637.1 714.6 L638.8 713.8 L640.4 713 L642 712.1 L643.7 711.3 L645.3 710.5 L647 709.7 L648.6 708.9 L650.3 708 L651.9 707.2 L653.4 706.3 L655 705.3 L656.5 704.4 L658 703.5 L659.6 702.5 L661.1 701.6 L662.6 700.7 L664.2 699.7 L665.7 698.8 L667.3 697.8 L668.8 696.9 L670.3 696 L671.9 695 L673.4 694.1 L674.9 693.1 L676.5 692 L678 691 L679.6 690 L681.1 689 L682.7 687.9 L684.2 686.9 L685.7 685.9 L687.3 684.8 L688.8 683.8 L690.4 682.8 L691.9 681.8 L693.5 680.7 L695 679.7 L696.6 678.9 L698.3 678.1 L699.9 677.3 L701.5 676.4 L703.1 675.6 L704.8 674.8 L706.4 674 L708 673.2 L709.6 672.4 L711.3 671.6 L712.9 670.8 L714.5 669.9 L716.2 669.1 L717.8 668.3 L719.4 667.5 L721 666.7 L722.7 665.9 L724.3 665.1 L725.9 664.2 L727.5 663.4 L729.2 662.6 L730.8 661.8 L732.5 661.2 L734.2 660.6 L735.9 660 L737.6 659.4 L739.3 658.8 L741 658.2 L742.8 657.6 L744.5 657 L746.2 656.4 L747.9 655.8 L749.6 655.2 L751.3 654.6 L753 654 L754.7 653.4 L756.3 652.5 L757.9 651.7 L759.5 650.8 L761.1 649.9 L762.7 649 L764.3 648.2 L765.9 647.3 L767.4 646.4 L769 645.5 L770.6 644.7 L772.2 643.8 L773.8 642.9 L775.4 642 L777 641.2 L778.6 640.3 L780.2 639.4 L781.8 638.5 L783.4 637.7 L785 636.8 L786.6 635.9 L788.2 635 L789.8 634.1 L791.3 633.3 L792.9 632.4 L794.5 631.5 L796.1 630.6 L797.7 629.7 L799.3 628.9 L801.3 628 L802.9 627.1 L804.1 626.2 L805.6 625.3 L806.8 624.5 L808.4 623.6 L809.7 622.7 L811.9 621.8 L813.2 621 L814.6 620.1 L816.6 619.2 L818 618.4 L819.8 617.5 L821.2 616.6 L822.6 615.7 L823.9 614.7 L825.7 613.9 L827.4 612.9 L829.1 611.9 L830.2 611 L832.5 610.1 L833.4 609.1 L834.9 608.2 L837 607.5 L838.4 606.4 L840 605.5 L842.1 604.6 L843.2 603.6 L845.3 602.8 L847 601.7 L848.3 601 L850 600.1 L851.2 599.2 L852.7 598.1 L854.2 597.3 L856.5 596.5 L858.3 595.6 L859.6 594.6 L861.4 593.5 L863.3 592.5 L864.1 591.5 L866 590.6 L868.1 590.1 L868.9 588.7 L870.9 587.9 L872.5 587.3 L873.8 586.2 L876.1 585.2 L877.1 584.6 L879.2 583.7 L880.7 582.5 L882.3 581.8 L883.8 580.5 L885.1 579.8 L887.2 579.1 L888.6 578.5 L889.7 577.6 L891.6 576.7 L893.7 575.7 L895.4 574.8 L896.6 574.3 L897.9 573.5 L899.7 572.6 L901.6 571.5 L902.9 571.2 L904.2 570.5 L906 569.7 L907.8 568.9 L909.7 568 L911.8 567.7 L913.5 567.1 L915.1 566.5 L916.6 566.2 L918.1 565.6 L920.6 564.6 L922.3 564.2 L923.9 563.2 L925.3 562.7 L927 562.8 L928.8 561.8 L930.5 561.8 L932.3 561.1 L933.8 560.4 L935.3 560 L937.2 560.1 L939.2 559 L940.8 558.6 L942.6 558.5 L944.6 557.8 L946.3 557.4 L948.2 557.4 L948.9 557.1 L951 556.1 L952.6 556.1 L954.4 555.4 L956.5 554.8 L958.2 553.6 L960.6 553.7 L961.7 553.6 L964.2 552.1 L965.1 552.1 L967 551.7 L969.1 551.5 L971 551.4 L972.9 551 L974.5 550.5 L975.7 550 L978.2 550 L979.5 549.9 L981.5 550 L983.4 549.7 L984.7 549.8 L986.8 550 L988.1 549.8 L990.6 550 L991.5 549.2 L994 549.9 L995 549.3 L997.5 549.9 L999.1 549.1 L1000.8 549 L1002.5 549.5 L1004.8 549.8 L1006.1 549.3 L1007.8 550 L1009.8 549.3 L1011.9 549.9 L1013.9 549.9 L1015.3 549.8 L1017 550.8 L1019.2 550.8 L1020.4 550.3 L1022.5 551 L1023.8 550.9 L1025.2 551.7 L1027.9 552.5 L1029.3 552.7 L1030.6 552.4 L1032.7 552.5 L1034.4 553.5 L1036.1 553.3 L1037.5 553.7 L1039.3 553.9 L1041.3 553.8 L1043.5 553.7 L1045.1 553.1 L1046.7 554.1 L1048.4 553.1 L1050.4 553.4 L1052.5 553 L1054.5 552.5 L1056.1 553.7 L1058 553.6 L1059.6 555.1 L1061.4 554.3 L1063.4 556 L1064.4 556.2 L1066.2 555.6 L1068.7 556.9 L1070.7 557.2 L1072 557.1 L1073.9 558.1 L1075.7 558 L1077.1 557.9 L1079.4 557 L1081.3 557.2 L1082.5 557.1 L1084.7 557.3 L1086.8 557.2 L1088.4 558.3 L1090 558.1 L1092 558.3 L1093.2 558.5 L1095.2 558.3 L1097.1 558.8 L1098.8 558.8 L1100.2 558.6 L1102.6 559.6 L1104.5 559.6 L1106.2 561 L1107.3 560.7 L1109.4 562.4 L1111.2 562.2 L1112.8 563.3 L1114.6 563.5 L1116.4 564.7 L1118.4 565.1 L1119.6 565.3 L1121.8 565.9 L1123.7 566.6 L1124.5 566.4 L1126.5 566.4 L1128.3 567.9 L1130.3 567 L1131.5 567.8 L1133.8 568.3 L1134.8 568.9 L1136.6 568.6 L1138.7 570.3 L1140.6 570.3 L1141.6 570.5 L1143.8 571.2 L1145.4 570.8 L1147.6 571.7 L1149.2 572.6 L1150.9 573.1 L1152 573.8 L1154.1 575 L1155.8 575.4 L1157.5 576.1 L1159 577 L1161.6 576.4 L1163.2 578.1 L1164.8 577.7 L1166.5 579.3 L1168.1 580.2 L1170.2 580.4 L1171.9 580.4 L1172.9 581.6 L1174.9 582.8 L1176.7 583 L1178.4 584.1 L1179.9 584.4 L1181.8 584.6 L1183.2 584.9 L1184.6 585.8 L1186.6 586.1 L1188.5 587.1 L1190.6 588.2 L1192.1 588.8 L1193.4 588.2 L1195.4 588.9 L1197.5 589.6 L1199.1 589.9 L1200 590.9 L1202.4 590.8 L1204.3 592.3 L1205.8 592.8 L1207.8 592.2 L1209.2 593.5 L1210.9 593.4 L1212.4 594.2 L1214.5 594 L1215.8 594.8 L1217.9 595.1 L1219 595.6 L1220.8 596.5 L1223.3 596.9 L1224.3 597.8 L1226.2 598.2 L1228.4 598.5 L1230.1 599.3 L1232 600 L1233.8 600.4 L1234.9 600.4 L1237.2 601 L1238.9 601.3 L1240.7 601.2 L1242.2 600.7 L1243.8 601.9 L1246 602.3 L1247.3 601.7 L1249.5 602.6 L1250.5 602 L1252.9 603 L1253.9 603.8 L1256.1 604 L1258 603.8 L1259.4 604.2 L1261.2 605.2 L1263.1 605.2 L1264.2 606.2 L1265.8 606.7 L1268.4 607.9 L1269.3 608.4 L1271.1 608.1 L1273.2 608.7 L1274.5 608.9 L1276.2 609.6 L1278.6 610 L1280 611 L1282.1 610.8 L1283.6 611.8 L1285.1 611.4 L1287.2 611.6 L1289.4 611.1 L1291.5 611.4 L1293.3 611.3 L1294.4 611.4 L1296.3 611.5 L1298.1 611.7 L1300.7 612.7 L1302.1 613.1 L1304.2 612.8 L1305.2 614.1 L1307 614.2 L1309.4 615.1 L1310.6 614.9 L1312.6 615.5 L1314 616.2 L1316.6 616.3 L1317.9 617.1 L1319.8 617.5 L1321.1 616.9 L1323.1 618.4 L1324.7 618 L1326.6 618.9 L1327.6 619.5 L1329.2 619.1 L1331.6 619.2 L1333.3 620.1 L1334.7 620.9 L1336.8 620.6 L1337.7 621.3 L1339.5 621.6 L1341.3 621.5 L1343.7 621.8 L1345.3 622.6 L1347 623.5 L1349.7 622.7 L1351.3 622.4 L1353 621.8 L1354.7 622.5 L1355.9 620.9 L1357.7 621.3 L1359.9 619.8 L1361.7 620.1 L1363.5 620.3 L1364.5 619.8 L1366.2 618.9 L1368.5 618.8 L1370 618.9 L1372 619.5 L1373.9 618.8 L1375.8 618.2 L1377.8 618.9 L1379.6 618.4 L1381.2 617.8 L1383 618.5 L1385.4 618.8 L1386.6 618.5 L1389 618.7 L1390.7 617.7 L1392.8 617.2 L1394.2 617.8 L1396.3 618 L1397.3 617.3 L1398.9 618.1 L1401.4 617.5 L1402.5 617.7 L1404.3 617.6 L1406.1 617.3 L1408.2 617.1 L1409.6 617.5 L1411.9 616.9 L1413.1 617.4 L1414.9 618 L1417.2 617.9 L1418.9 618.5 L1420.4 619.3 L1422 619.5 L1423.6 620.5 L1425.3 621.4 L1426.5 622.6 L1427.9 621.9 L1429.4 623.6 L1431 624.4 L1432.6 624.5 L1434.7 624.8 L1436.1 626.9 L1438 626.7 L1440 627.1 L1441.7 627 L1443 627.6 L1445.2 627.8 L1446.4 627.5 L1448.3 627.4 L1449.9 628.3 L1451.7 627.9 L1453.2 629 L1455.4 628.7 L1457.4 630.6 L1458.8 630.9 L1460.3 630.4 L1461.5 631.3 L1462.9 632.6 L1465.2 632.9 L1467.1 633.4 L1468.3 633.9 L1470 635.6 L1472 636.1 L1474.1 636.7 L1475.3 637.4 L1476.7 636.9 L1479.2 637.5 L1480.4 637.9 L1482.5 638 L1483.7 638.2 L1485.8 638.7 L1487.3 638.7 L1489.2 637.7 L1490.8 637.6 L1492.6 637.7 L1494.7 637.6 L1496.2 638.2 L1497.5 637.8 L1498.9 638 L1500.7 639 L1502.4 638.7 L1504.1 639.7 L1505.5 640 L1507.5 640.8 L1509.2 640.8 L1510.8 641 L1513 641.2 L1514.3 641.2 L1516.3 641.2 L1518.2 642.3 L1519.9 642.8 L1521.2 643.9 L1522.9 644.3 L1524.7 645.8 L1525.9 645.4 L1527.8 647.7 L1529.6 647.9 L1531.5 649.4 L1533 650.6 L1533.8 650.7 L1536.1 651.9 L1537.6 652.8 L1539.1 654.8 L1540 656.4 L1541.6 657.2 L1542.7 658.9 L1544.4 658.8 L1546 658.9 L1547.9 659.5 L1549.8 660.5 L1551.1 661.2 L1553.1 661.4 L1555 662.1 L1556.1 662.4 L1558.6 660.9 L1559.9 660.9 L1561.1 660.3 L1562.7 659.4 L1564.5 658.6 L1565.8 660.4 L1568 660 L1569.8 660.5 L1571.3 661 L1572.9 661.7 L1574.5 661.8 L1575.7 662 L1577.8 662.6 L1578.8 661.9 L1580.6 661.3 L1582.2 661.2 L1584.1 661.6 L1586.4 661.8 L1587.9 662 L1589 662.7 L1590.5 662.7 L1592.2 664.6 L1593.6 664.6 L1595.3 665.6 L1596.9 666 L1599.3 666.7 L1600.4 668 L1602 668.8 L1604.5 669.5 L1606.3 669.6 L1607.7 670.5 L1609.5 670.5 L1611.5 670.6 L1613 670.4 L1614.3 671.8 L1616.4 671.2 L1618.8 671.9 L1619.8 671.8 L1621.9 672.1 L1623.3 672.3 L1625.5 673.7 L1626.8 674.6 L1628.6 674.6 L1630.2 675.9 L1631.2 676.4 L1633.9 677.5 L1635.7 677.1 L1637.3 677.1 L1639.3 677.5 L1640.9 678.5 L1642.5 675.8 L1644.3 674.9 L1645.3 674.5 L1646.7 673.5 L1648.4 674.9 L1650.2 676.4 L1651.1 676.7 L1652.6 678.1 L1654.9 679.1 L1656.3 679 L1658.4 678.9 L1660.9 679.4 L1662.6 677.5 L1664.2 678 L1666.5 678.9 L1668.6 676.8 L1669.8 677.8 L1671.8 677.4 L1673.3 678.6 L1674.4 680.6 L1675.6 680.7 L1676.7 681.8 L1677.9 683.8 L1679.3 683.9 L1681.6 686.2 L1682.7 686.8 L1684.7 687.6 L1686 688.8 L1687.3 688.4 L1688.7 688.7 L1690.5 690 L1691.8 689.6 L1693.1 690.4 L1694.5 692.5 L1696.4 693.4 L1697.5 694.3 L1698.2 696.2 L1700.2 695.8 L1701 698.2 L1702.9 696.2 L1704.2 696 L1705.9 696.3 L1707 694.5 L1709.3 693.2 L1710 693.6 L1711.9 691.7 L1713.2 689.5 L1714.8 688.9 L1716 689.5 L1717.5 687 L1719 687.7 L1721 689.8 L1722.1 688.8 L1724.1 690.2 L1725.8 691.2 L1727.2 693 L1729.2 693.5 L1730 694.5 L1732 695.2 L1733 697.7 L1734.7 697.1 L1736.4 698.5 L1737.3 700.8 L1739 702 L1740.2 702.3 L1741.8 701.3 L1743.9 703.7 L1744.8 702.2 L1746.4 704.3 L1747.8 706 L1749.3 705.9 L1751.7 705.5 L1753.2 705.4 L1754.1 708.3 L1755.2 710.6 L1756 712.5 L1756.5 711.7 L1757.1 712.3 L1758.1 710 L1758.8 707 L1760 707.1 L1760.3 705.3 L1761.4 703.7 L1761.7 703.2 L1762 701.7 L1763.3 701.8 L1763.6 703.9 L1764.6 703.9 L1765.9 707.8 L1766.8 709.4 L1767.1 711.5 L1767.9 711.1 L1769.1 714 L1769.7 713.8 L1771.5 715.3 L1772.2 718.3 L1773.4 721.2 L1773.9 721.8 L1774.9 722.6 L1775.1 726.6 L1776.5 727.7 L1777.3 727.1 L1777.7 729.2 L1779.4 732.8 L1779.6 733.3 L1781.1 735.1 L1781 733.5 L1781.5 732 L1782 730.1 L1782.6 726.9 L1783.9 726.7 L1783.9 724.7 L1785.2 722.9 L1785.2 721.6 L1786.7 720.5 L1787.3 718.9 L1788.1 718.3 L1789 714.4 L1790.1 714.7 L1791.4 712.6 L1791.1 714.8 L1792.5 714.2 L1792.2 716.2 L1792.6 717.6 L1793.5 721.1 L1793.9 722.3 L1794.6 724.9 L1795.4 726.2 L1796.8 723.7 L1798.6 723.9 L1801.2 725.4 L1801.3 725.5 L1802.5 727.9 L1804 728.3 L1804.7 730 L1805.9 731.8 L1806.7 733.5 L1807.6 735.7 L1808.2 736.2 L1809.4 738.7 L1810.3 739.1 L1811.1 741.1 L1812 742.1 L1813.1 742.2 L1814.7 743.2 L1816.3 747.2 L1817.8 748 L1818.6 749.7 L1819.1 751.4 L1819.8 750.1 L1819.6 754.7 L1820.5 755.3 L1821.6 758.1 L1821.7 757.5 L1822.4 760.5 L1822.6 762.6 L1823.1 763 L1824.6 766.4 L1825.2 768.1 L1825.5 768.3 L1826.3 767.1 L1826.8 765 L1827.9 762.2 L1828.8 760.7 L1829.6 759.1 L1830 758.9 L1831.5 762 L1832.5 762.8 L1833.1 763.1 L1834.2 766 L1835.4 764 L1835.8 768.1 L1836.4 770.5 L1836.4 770.4 L1836.7 771.4 L1837.9 774.9 L1838.3 775.1 L1838.7 775.8 L1838.9 778.5 L1839 782.5 L1839 784 L1840 785.9 L1840.1 787.3 L1840.6 787.9 L1841 788.5 L1841.3 789.9 L1841 793.5 L1841.3 795.8 L1841.8 797.5 L1842.2 798.6 L1842.5 800.2 L1842.6 800.4 L1843 804.6 L1843.9 804.3 L1844.3 807.9 L1843.8 808.6 L1844.1 809.4 L1844.5 810.7 L1845.2 812.6 L1845.3 814.2 L1845.6 818.3 L1846 820.9 L1846.2 819.6 L1846.7 819.5 L1847.1 817.4 L1847.9 816.5 L1847.7 815.5 L1848.2 812.7 L1848.5 811.6 L1849.1 809 L1849 805.8 L1849.5 806.7 L1850.5 803.4 L1850 801 L1851.3 802.4 L1851.3 803.9 L1851.8 806.5 L1852.8 810.3 L1852.8 811.5 L1853.4 811.9 L1854 812.1 L1853.9 816.5 L1854.4 817.7 L1854.7 820 L1854.6 819.4 L1854.8 823.5 L1855.3 824.8 L1855.7 825.1 L1855.9 828.3 L1855.9 829.1 L1856.1 830.5 L1856.5 832.6 L1857.8 833.1 L1858 835.1 L1858.5 838.5 L1859.6 837.3 L1860 839.8 L1860.1 840.7 L1860.6 843.2 L1860.9 844 L1861 846.8 L1861.3 847.2 L1861.7 850.4 L1861.4 850.9 L1862.2 852 L1861.7 851.3 L1861.2 851.7 L1860.7 847.3 L1860.3 846.1 L1860.1 843.3 L1860.4 844.6 L1859.7 841.6 L1860.2 838.4 L1859.1 837.8 L1858.7 836.2 L1859.2 835.5 L1858.2 832.6 L1858.3 830.5 L1857.8 829.2 L1857.4 827.7 L1857.1 823.6 L1857.6 823 L1856.9 821.8 L1856.7 818.4 L1857 823.5 L1856.5 823 L1856.5 826.1 L1856.7 827.6 L1856.8 828.5 L1856.7 831.3 L1856.8 833.5 L1857.6 833.4 L1857.6 836.6 L1857.7 837.4 L1858.3 839.7 L1859.2 840.3 L1859.4 841.8 L1859.8 846.1 L1860.5 845.8 L1860.2 847 L1861 851.4 L1860.4 851.7 L1861 852.8 L1861.5 856.7 L1861.5 859 L1862.2 858.2 L1862.7 859.4 L1862.9 862.6 L1863 862.6 L1863.7 866.8 L1863.9 867.1 L1865 867.7 L1865 871.9 L1866 872.7 L1866.1 872.7 L1865.7 875.7 L1865.7 877.9 L1867.2 880.5 L1867.6 881.8 L1868.5 882.8 L1867.6 884.7 L1868 888.8 L1868.8 890.8 L1869.3 890.9 L1870 891.6 L1870 894.6 L1870.3 896.6 L1871.3 899.3 L1869.4 900.7 L1871.1 902.1 L1870.6 905.4 L1870.9 905.4 L1871.7 909.5 L1872.6 908.8 L1871.8 911.2 L1874.6 912.1 L1872.4 916.5 L1872 917.9 L1875.4 919.3 L1874.9 921.4 L1875.9 924.6 L1874.6 925.6 L1875.3 927.8 L1873.9 929 L1874 931.5 L1876.2 931.5 L1874.8 935.6 L1876.1 934.8 L1874.8 936.1 L1873.8 940.4 L1873.4 941.5 L1877 944.5 L1875.2 943.3 L1875.4 947.1 L1877.7 949.6 L1873.4 950 L1878 951.4 L1878.9 955.7 L1876 956.4 L1874.4 958.5 L1881 960.8 L1877 963 L1875.2 963.4 L1876 964.5 L1877.9 965.2 L1882.5 969.1 L1880.5 968.6 L1880.6 970.6 L1881.1 974 L1884.1 974.4 L1879.6 976.1 L1884.5 980 L1880.6 980.6 L1884.1 983 L1882.6 984.2 L1882.7 984.6 L1879.9 989.3 L1885.2 990.2 L1883.5 991.5 L1881.5 993.9 L1884.5 996.8 L1880.9 997 L1882.3 999.8 L1884.9 1002.2 L1883.1 1002.6 L1878.8 1002.4 L1877.8 1005.9" fill="none" stroke="#00f" stroke-width="7.2" stroke-linejoin="round" stroke-linecap="round" />
<path d="M425.4 1036.8 L425.5 1035 L425.7 1033.2 L425.8 1031.4 L426 1029.6 L426.1 1027.8 L426.3 1026 L426.4 1024.1 L426.6 1022.3 L426.8 1020.5 L426.9 1018.7 L427.1 1016.9 L427.2 1015.1 L427.4 1013.3 L427.6 1011.5 L427.7 1009.7 L427.9 1007.9 L428.1 1006.1 L428.3 1004.3 L428.5 1002.5 L428.6 1000.6 L428.8 998.8 L429 997 L429.2 995.2 L429.4 993.4 L429.5 991.6 L429.7 989.8 L429.9 988 L430.1 986.2 L430.4 984.4 L430.6 982.6 L430.9 980.7 L431.1 978.9 L431.3 977.1 L431.6 975.3 L431.8 973.5 L432.1 971.7 L432.3 969.9 L432.5 968.1 L432.8 966.2 L433 964.4 L433.3 962.6 L433.5 960.8 L433.8 959 L434.1 957.2 L434.4 955.4 L434.7 953.6 L435 951.8 L435.3 950 L435.6 948.2 L435.9 946.3 L436.2 944.5 L436.5 942.7 L436.8 940.9 L437.1 939.1 L437.4 937.3 L437.7 935.5 L438 933.7 L438.4 931.9 L438.8 930.1 L439.3 928.3 L439.7 926.5 L440.1 924.7 L440.5 922.9 L441 921 L441.4 919.2 L441.8 917.4 L442.2 915.6 L442.7 913.8 L443.1 912 L443.5 910.2 L443.9 908.4 L444.4 906.6 L444.9 904.8 L445.3 903 L445.8 901.2 L446.2 899.4 L446.6 897.5 L447.1 895.7 L447.6 893.9 L448 892.1 L448.4 890.3 L448.9 888.5 L449.4 886.7 L449.8 884.9 L450.2 883.2 L450.6 881.5 L451.1 879.8 L451.5 878.1 L451.9 876.4 L452.3 874.7 L452.8 873 L453.2 871.3 L453.6 869.5 L454 867.8 L454.5 866.1 L454.9 864.4 L455.3 862.7 L455.7 861 L456.2 859.3 L456.6 857.6 L457 855.9 L457.5 854.2 L458 852.5 L458.6 850.7 L459.1 849 L459.6 847.3 L460.1 845.6 L460.6 843.9 L461.2 842.1 L461.7 840.4 L462.2 838.7 L462.7 837 L463.2 835.3 L463.7 833.6 L464.3 831.8 L464.8 830.1 L465.3 828.4 L465.8 826.7 L466.3 825 L466.9 823.2 L467.4 821.5 L467.9 819.8 L468.5 818.1 L469.1 816.5 L469.7 814.8 L470.3 813.2 L470.9 811.5 L471.4 809.9 L472 808.2 L472.6 806.6 L473.2 805 L473.8 803.3 L474.4 801.6 L475 800 L475.4 798.3 L475.9 796.6 L476.4 794.9 L476.8 793.2 L477.2 791.6 L477.7 789.9 L478.1 788.2 L478.6 786.5 L479.1 784.8 L479.5 783.1 L479.9 781.4 L480.4 779.8 L480.8 778.1 L481.3 776.4 L481.8 774.7 L482.2 773 L482.8 771.3 L483.3 769.6 L483.9 767.9 L484.4 766.2 L485 764.6 L485.6 762.9 L486.1 761.2 L486.7 759.5 L487.2 757.8 L487.8 756.1 L488.3 754.4 L488.9 752.7 L489.5 751.1 L490 749.4 L490.6 747.7 L491.1 746 L491.7 744.3 L492.5 742.7 L493.3 741.1 L494.1 739.5 L494.9 737.9 L495.7 736.3 L496.5 734.8 L497.3 733.2 L498.1 731.6 L498.9 730 L499.7 728.4 L500.5 726.8 L501.3 725.2 L502.5 723.9 L503.7 722.5 L504.9 721.1 L506.1 719.8 L507.3 718.5 L508.5 717.1 L509.7 715.8 L510.9 714.4 L512.6 713.7 L514.2 713 L515.9 712.2 L517.5 711.5 L519.2 710.8 L520.9 711.8 L522.6 712.7 L524.2 713.7 L525.9 714.6 L527.6 715.6 L528.7 716.9 L529.7 718.3 L530.8 719.6 L531.9 720.9 L532.9 722.3 L534 723.6 L535.1 724.9 L536.1 726.3 L537.2 727.6 L538.3 729.1 L539.4 730.6 L540.4 732.2 L541.5 733.7 L542.6 735.2 L543.7 736.7 L544.8 738.2 L545.9 739.7 L546.9 741.3 L548 742.8 L549.1 744.3 L550.4 745.6 L551.8 746.9 L553.1 748.3 L554.4 749.6 L555.8 750.9 L557.1 752.2 L558.4 753.6 L559.8 754.9 L561.1 756.2 L562.5 757.2 L563.9 758.2 L565.2 759.2 L566.6 760.2 L568 761.2 L569.4 762.2 L571.1 762.4 L572.8 762.7 L574.4 762.9 L576.1 763.2 L577.8 763.4 L579.4 762.8 L581 762.2 L582.6 761.6 L584.2 761 L585.8 760.4 L587.4 759.8 L589 758.8 L590.6 757.8 L592.1 756.8 L593.7 755.9 L595.3 754.9 L596.9 753.9 L598.7 753.8 L600.5 753.6 L602.3 753.5 L604.1 753.3 L605.9 753.1 L607.7 753 L609.5 752.9 L611.3 752.7 L613 752.4 L614.7 752 L616.4 751.7 L618.1 751.3 L619.8 751 L621.5 750.6 L623.2 750.3 L625 750 L626.7 749.6 L628.4 749.3 L630.1 748.9 L631.8 748.6 L633.5 748.2 L635.2 747.9 L636.9 747.6 L638.6 747.2 L640.3 746.9 L642 746.5 L643.7 746.2 L645.4 745.8 L647.2 745.5 L648.9 745.2 L650.6 744.8 L652.3 744.5 L654 744.1 L655.7 743.8 L657.4 743.4 L659.1 743.1 L660.8 742.8 L662.5 742.4 L664.2 742.1 L665.9 741.7 L667.6 741.4 L669.3 741 L671 740.7 L672.8 740.4 L674.5 740 L676.2 739.7 L677.9 739.3 L679.6 739 L681.3 738.6 L683 738.3 L684.7 737.9 L686.4 737.4 L688.1 737 L689.8 736.6 L691.5 736.2 L693.2 735.7 L695 735.3 L696.7 734.9 L698.4 734.4 L700.1 734 L701.8 733.6 L703.5 733.2 L705.2 732.7 L706.9 732.3 L708.7 732.1 L710.6 731.9 L712.4 731.7 L714.3 731.6 L716.1 731.4 L717.9 731.2 L719.8 731 L721.6 730.8 L723.4 730.6 L725.3 730.5 L727.1 730.3 L729 730.1 L730.8 729.9 L732.6 729.6 L734.4 729.4 L736.2 729.1 L738 728.8 L739.8 728.6 L741.6 728.3 L743.4 728 L745.1 727.8 L746.9 727.5 L748.7 727.2 L750.5 726.9 L752.3 726.7 L754.1 726.4 L755.9 726.1 L757.7 725.9 L759.5 725.6 L761.3 725.5 L763.2 725.4 L765 725.3 L766.8 725.2 L768.6 725.1 L770.5 725 L772.3 724.9 L774.1 724.8 L776 724.8 L777.8 724.7 L779.6 724.6 L781.5 724.5 L783.3 724.4 L785.1 724.3 L786.9 724.2 L788.8 724.1 L790.6 724 L792.5 723.9 L794.4 723.8 L796.2 723.8 L798.1 723.7 L800 723.6 L802 723.6 L803.2 723.6 L805 723.6 L806.6 723.5 L808.4 723.5 L810.8 723.5 L812.3 723.5 L814.6 723.4 L815.8 723.5 L817.8 723.4 L819.2 723.5 L820.7 723.4 L823.2 723.3 L824.5 723.3 L826.4 723.3 L828.5 723.4 L829.7 723.4 L831.3 723.1 L833.7 723.2 L835.6 723.2 L837.4 722.9 L839.1 723 L840.3 722.8 L842.1 722.6 L844.2 722.7 L846.5 722.5 L847.8 722.7 L849.9 722.4 L851.2 722.4 L853 722.3 L855.2 722.1 L857.1 722.1 L858.5 722.5 L860 722.4 L862.1 722.7 L864.1 722.9 L865.4 723 L867.2 723.3 L868.9 723.7 L870.3 724.1 L872.7 724.2 L874.3 724.3 L875.9 724.4 L877.4 724.6 L879.2 724.9 L881.6 725.5 L883.1 725.4 L884.4 726 L886.6 726.3 L888.3 726.9 L889.7 726.9 L891.9 727.2 L893.6 727.6 L894.6 727.9 L896.4 728.5 L898.9 728.6 L900.6 729.1 L901.8 729.8 L903 730.9 L904.6 731.7 L906.7 732.2 L907.8 733.1 L910.1 733.1 L911.1 733.9 L913.1 734.5 L915 735.5 L916.5 736 L918 736.9 L919.6 737.5 L921.7 738.4 L923.3 738.4 L924.3 738.8 L926 740 L927.9 740.4 L929.5 740.7 L931.2 740.9 L933.5 741.6 L935.4 741.8 L936.4 742.1 L938.1 743.5 L940.1 743.5 L941.6 744.3 L943.7 744.2 L944.5 745.2 L946.8 746.8 L947.7 747.3 L949.3 748.9 L951.2 749.4 L952.3 750.5 L954.4 751.8 L955.9 752.6 L957.1 754 L958.8 754.8 L959.6 756.3 L961.9 757 L962.7 757.4 L964.3 759.3 L965.7 759.6 L967.4 760.3 L968.5 761.5 L970.8 762.8 L971.7 763.6 L973.7 764.3 L974.7 764.7 L976.5 766.2 L977.5 766.5 L978.9 768.2 L981.2 768.7 L982.4 769.9 L983.5 770.5 L985.2 771.9 L986.7 772.5 L988.4 772.9 L990.8 772.9 L992.1 773.4 L993.8 774.8 L996 775.5 L997.7 776.5 L999.3 776.6 L1000.3 777.7 L1002 778.4 L1003.8 779 L1006.1 780.2 L1007.2 779.8 L1009.1 781.6 L1010.6 781.5 L1012.4 781.6 L1014.2 782.6 L1015.8 783.9 L1017.6 783.9 L1019.3 785 L1021.1 784.9 L1022.2 786.5 L1024.2 786.9 L1025.6 788 L1027.3 789.2 L1028.9 790.3 L1030.2 790.2 L1031.5 792.1 L1033.4 792.7 L1034.2 793 L1036.3 794.3 L1037.7 795.3 L1039.6 795.5 L1041.8 795.8 L1043.8 795 L1045.1 796.2 L1047.2 796 L1049.4 796.4 L1051.2 796.5 L1052.3 797.6 L1053.6 798.5 L1055.8 798.5 L1056.5 800.4 L1058.2 800.7 L1059.8 801 L1061.3 801.7 L1063.3 803.5 L1064.8 803.5 L1065.8 804.2 L1068.1 805.8 L1070 805.9 L1071.5 805.7 L1072.8 805.3 L1075.1 806.9 L1077.2 806.5 L1078.6 807.4 L1080.1 807.5 L1082.2 807.4 L1083.8 807.3 L1085.2 808.4 L1087.7 810 L1088.3 810.8 L1090.1 811.4 L1092.5 812.7 L1094.1 813.7 L1095.5 813.3 L1096.7 815 L1098.7 816.2 L1099.9 817.1 L1102 817.5 L1103.3 817.3 L1105.5 818 L1107.5 818 L1109.3 817.7 L1110.7 818.7 L1112.8 818.2 L1114.9 818.8 L1116.5 819 L1117.9 819.1 L1119.9 818.5 L1121.5 818.1 L1123.8 819.5 L1125.1 819.6 L1126.6 819 L1129.3 819.4 L1129.9 820.2 L1131.3 821.2 L1133.3 821.9 L1134.9 821.9 L1136.6 823.7 L1138.1 823.8 L1138.9 825.3 L1141.1 825.9 L1141.8 827 L1143.1 828.4 L1145.2 830 L1145.7 831.7 L1147.7 832.3 L1148.2 834 L1149.9 834.5 L1151.8 836.2 L1152.4 837.4 L1154.9 838.2 L1156 838.7 L1157.2 839.2 L1158.9 840.3 L1160.9 841.3 L1163 842.2 L1163.9 842.4 L1165.6 842.7 L1167.5 843.5 L1169.7 844.5 L1170.7 845.6 L1172.5 846.8 L1174.1 846.6 L1175.7 847.7 L1178.2 848.3 L1179.7 850.3 L1180.8 851 L1182.8 852.3 L1184.4 852.8 L1185.5 853.4 L1186.6 854 L1188.6 855.3 L1190 855.8 L1191.9 856.2 L1194.6 856 L1195.5 855.9 L1197.7 857.1 L1200.2 856.9 L1201.5 856.3 L1203.8 856.4 L1205 857.6 L1207.2 856.9 L1209.2 857.7 L1210.7 857.2 L1212.5 857.1 L1214.1 857.2 L1216 858.1 L1217.5 857.9 L1219.5 857.6 L1220.6 857.7 L1222.8 857.9 L1223.9 859.1 L1225.7 859.5 L1227.7 860.5 L1229.2 862.4 L1230 862.4 L1231.3 863.5 L1233.4 865.6 L1235.1 866.3 L1235.9 867.6 L1237.9 867.9 L1239.4 868.7 L1241.3 868.3 L1243.5 869.3 L1244.8 869.5 L1246.8 869.9 L1248.3 870.6 L1249.9 869.6 L1251.5 869.5 L1253.6 867.8 L1254.8 867.4 L1257 866.7 L1258.7 866.3 L1260.1 864.6 L1262.2 865.3 L1263.7 865.7 L1265.3 864.7 L1267.6 865 L1269.4 864.6 L1271 865.4 L1272.8 864.7 L1274.2 864.9 L1276.2 865.7 L1277.8 865.5 L1280.5 864.8 L1281.3 863.9 L1283.6 862.5 L1285 861.2 L1286.2 860.3 L1288.1 860.1 L1289.3 857.8 L1291.3 859.1 L1293.6 859.4 L1295.5 859.8 L1296.9 861 L1298.9 860.1 L1300.7 860.8 L1303.2 861.2 L1304.5 862.1 L1306.9 862.4 L1308.5 863.1 L1310.3 863.4 L1312 864 L1312.8 865.4 L1314.5 866.3 L1315.5 867.6 L1318.1 867.2 L1319.6 867 L1320.6 867.8 L1323.1 868 L1324.1 867.6 L1326.5 868.5 L1328.3 868.1 L1329.7 867.1 L1330.6 866.5 L1332.4 866.2 L1334.1 864.7 L1336.2 864.6 L1337.3 863.6 L1338.7 862.3 L1341.2 862 L1342.1 861 L1344.6 860.6 L1346.4 860.8 L1347.7 860 L1349.2 859.3 L1350.7 858.6 L1352.4 858 L1355.1 858.2 L1356 858.2 L1358.1 857.2 L1358.8 855 L1360.4 854.5 L1360.8 853.3 L1362.6 852.6 L1364 853.3 L1364.9 854.2 L1366.3 856 L1368 858 L1369.5 859.2 L1371.1 860.4 L1373.1 861.1 L1374.9 861.1 L1377 861.2 L1378.3 861.5 L1380.1 862 L1382 861.8 L1384.4 862.2 L1386.3 861.4 L1388.1 860.1 L1390.2 860.2 L1391.8 859.7 L1394 857.8 L1394.9 857.2 L1397.3 856.5 L1397.9 854.6 L1399 852.8 L1400 852.4 L1401.3 850.7 L1401.6 848.7 L1403.4 848 L1405.3 847.4 L1407.9 847.3 L1409.8 847.3 L1411.3 847.1 L1412.9 845.5 L1414.2 845 L1415.6 844 L1417.1 843.7 L1418.4 842.5 L1419.9 841.9 L1422.2 843.4 L1423.4 844.1 L1424.8 843.9 L1427 844.9 L1428.6 844.8 L1430.2 846.1 L1432 845.7 L1434 846.9 L1434.9 846.9 L1437.3 846.1 L1438.5 843.9 L1440.1 843 L1440.9 842.4 L1442.6 841.6 L1444.4 839.5 L1445 838.9 L1446.5 838.2 L1448.2 837 L1450 837.3 L1450.9 835.5 L1452.2 834.8 L1453.6 832.3 L1454.6 831.1 L1456.8 832.2 L1458.3 832.5 L1460.5 832.6 L1462 832.8 L1463.8 833.1 L1465.6 832.3 L1467.3 830.5 L1468.7 829.7 L1470.9 829 L1471.9 828.8 L1474 826.7 L1475.4 827.4 L1476.9 825.6 L1478.7 826.2 L1480.6 825.6 L1481.9 824.8 L1483.3 825.7 L1485.8 824.8 L1486.7 824.8 L1488.6 826.1 L1490.3 825.6 L1491.8 826.9 L1493.3 827.6 L1494.6 828.4 L1496.3 829.1 L1498.1 830.4 L1499.8 830.2 L1501.9 829 L1503.1 829.6 L1505.6 829.2 L1506.8 829.2 L1509.5 828.1 L1510.5 828.9 L1512.5 829.2 L1514.3 828.8 L1516.5 828.4 L1518.3 827 L1519.4 826.4 L1521 823.9 L1522 823.3 L1523.6 821.9 L1524.6 819.7 L1525.8 819.2 L1526.7 818.2 L1528.1 816.3 L1528.9 815.2 L1530.4 814.7 L1532 814.1 L1534.4 812.1 L1535.3 812.4 L1537.5 811.7 L1539 811.3 L1541.3 811.4 L1543.1 811 L1544.4 812.7 L1545.7 813.2 L1547.4 815.1 L1548.9 815.1 L1550.9 815.6 L1552.1 815.6 L1553.5 813.9 L1556 814.5 L1557.3 813 L1558.8 814.1 L1560.8 814.8 L1562.7 813.6 L1564.5 814.1 L1566.9 815.2 L1568.3 813.4 L1570.1 814.6 L1571.8 813 L1574.2 813.5 L1575.4 812.9 L1577.1 812.2 L1579.1 811 L1580.2 811.7 L1582.5 811.8 L1583.6 810.8 L1585.7 810 L1587.3 810.6 L1589.5 809.3 L1590.5 810.9 L1592 808.3 L1593.5 807.9 L1594.3 806.4 L1595.7 803.8 L1597.6 803.4 L1599.4 801.8 L1601.3 801.5 L1602.6 801.8 L1604.1 800.2 L1604.9 798.3 L1606.5 797.1 L1607.1 795.4 L1608.7 794.7 L1610.4 793.3 L1612.1 794.9 L1613.1 793.8 L1615.7 795.6 L1617.2 797.8 L1618.1 795.4 L1620.2 794 L1621.6 792.6 L1623.2 792.2 L1623.9 791 L1625.9 789.1 L1628.3 788 L1629.8 787.7 L1631.6 787 L1633 788.8 L1634.3 789.7 L1636.3 790.2 L1637.6 790.4 L1639.9 789.9 L1642 787.1 L1643.9 786.7 L1645.2 785.7 L1647.1 785.9 L1648.6 783.8 L1650.7 783.6 L1651.5 784.2 L1652.6 787.8 L1652.6 787.8 L1653.3 788.8 L1654.1 790.7 L1655.5 794.3 L1657 793 L1658.9 793.7 L1660.3 795.3 L1661.7 795.3 L1662.9 797.5 L1665.1 797.8 L1666.2 797.6 L1667.7 797 L1669.4 793.8 L1670.3 793.6 L1671.6 793.6 L1674.8 793.4 L1675.7 791.4 L1677.4 789.5 L1678.7 787.5 L1679.1 788 L1681.1 785.1 L1681.9 785.8 L1683.3 784.5 L1683.6 782 L1684.8 781.5 L1684.8 779.8 L1686.3 777.4 L1687.2 778 L1689.2 780 L1690.5 778.8 L1691.7 780.2 L1693.4 781.6 L1694.3 783.4 L1695 785.2 L1695.6 786.4 L1697.1 789.5 L1697.2 790.2 L1698.6 790.5 L1699.2 793.7 L1700.9 792.4 L1702.6 792.9 L1705 791.9 L1707 792.2 L1707.3 791.2 L1708.9 789.8 L1709.7 788.1 L1709.7 787.4 L1710.6 783.7 L1711.4 783.1 L1712.8 783.6 L1713.7 784.7 L1715.2 786.3 L1716 788.5 L1718 787.8 L1719.7 785.3 L1721 784.9 L1722.1 782.7 L1722.7 783.9 L1723.8 787.9 L1725.2 787.1 L1726.2 790.4 L1727.1 790.5 L1728.4 792.7 L1729.3 795.2 L1731.1 795.7 L1732.3 797.7 L1733.6 796.6 L1734.5 796.7 L1736.6 793.7 L1737.9 792.3 L1737.5 795.5 L1738.1 797.5 L1739.1 797.9 L1739.6 799.5 L1740.6 802 L1740.9 802.1 L1741 806 L1741.7 805 L1742.2 809.6 L1742.3 811.2 L1743.1 811.4 L1744.8 810.2 L1746.2 808.9 L1747.3 806.1 L1749.5 804.5 L1749.9 803.4 L1749.9 803.3 L1750.7 802.3 L1751.1 799.9 L1751.3 797.7 L1752.3 796.6 L1753.2 795.4 L1753.4 795.4 L1755 796.9 L1755.5 800.6 L1757.1 800.9 L1757.7 803.5 L1758.6 804 L1760.4 803.6 L1762.7 805.6 L1764.5 806.7 L1764.6 807.8 L1765.1 808.3 L1766.3 812.3 L1767.2 813.8 L1767.1 814.3 L1768.2 815.7 L1769.2 817.3 L1769.8 820.4 L1770.2 821.1 L1771.2 821.7 L1772.2 817.3 L1773.3 817.2 L1774.5 815.7 L1775.9 814.3 L1776.3 816.2 L1776 820.1 L1777.1 822 L1777.2 822.4 L1777.3 825.5 L1777.2 825.3 L1778.3 827.2 L1778.1 828.5 L1778.4 831.2 L1778.7 832.5 L1779.4 836.6 L1779.5 835.4 L1780.1 839.2 L1780.4 839.7 L1780.5 843.3 L1781.1 842.9 L1781.5 846.5 L1782.7 845.1 L1782.7 847.7 L1783.2 848.6 L1782.3 848.1 L1782.1 846.6 L1781.1 844.7 L1780.6 843.3 L1780 841.8 L1779.3 839.5 L1778.2 838.4 L1777.9 838.3 L1776.3 834.8 L1775.9 834.2 L1775.6 832 L1774.1 831.4 L1773.6 826.8 L1774.2 830.7 L1775.4 831.7 L1775.8 831.3 L1776 835.5 L1776.4 834.7 L1777.3 836.3 L1777.5 838 L1778.7 841.7 L1779.8 842.1 L1780.7 846.2 L1782 846.5 L1782.7 846.8 L1783.2 850.4 L1784.3 849.1 L1785.5 847.7 L1785.7 845.3 L1787.1 844.6 L1787.7 840.2 L1788.2 839.3 L1789.3 838.8 L1789.9 835.1 L1790.7 835.9 L1791.8 832.6 L1791.8 832.2 L1793.1 829.1 L1793.2 830 L1793.7 827.3 L1794.9 825.9 L1795.3 827.6 L1795.2 826.8 L1796.3 830.8 L1796 832.9 L1796.4 835.7 L1797.6 836.4 L1797.3 839.1 L1797.2 839.5 L1798.1 843.3 L1798 841.6 L1798 843.6 L1798.1 848 L1798.4 847.3 L1798.5 850.3 L1798.4 852.1 L1798.8 854.6 L1798.8 854.5 L1801.2 855.5 L1803.2 855.2 L1805 859.2 L1804.6 858.8 L1805.2 860.5 L1805.6 862.6 L1805.9 865.3 L1806.5 865.8 L1807.1 867 L1807.4 868.6 L1807.6 872.7 L1807.8 875.2 L1807.9 877 L1809.1 875.8 L1810.3 878.8 L1811.1 880.9 L1812.8 879.7 L1813.9 883 L1814.6 881.6 L1815 876.8 L1816 876.8 L1816.7 875.3 L1818 875 L1818.1 876 L1818.3 878.8 L1818.6 877.8 L1819.2 879.1 L1819.4 881.8 L1820 884.9 L1820 885.3 L1820.4 886.8 L1821 890.7 L1821.3 891.9 L1821.6 895.4 L1821.3 894.8 L1821.9 896.4 L1821.6 900.3 L1822.6 900.3 L1821.9 901.5 L1822.8 904.1 L1822.9 907.6 L1823.8 907.3 L1823.4 910.6 L1824.3 909.4 L1824.2 913 L1824.1 915.9 L1824.2 916.2 L1825.6 917.6 L1825.1 917.6 L1825.2 918.9 L1825.9 915.4 L1825.8 914 L1827.4 913.8 L1827.6 911.4 L1828.8 909.9 L1828.7 906.6 L1829.3 904.6 L1831.1 903.8 L1831 904.5 L1832.1 909.6 L1833.6 909.4 L1834.2 909.6 L1833.4 913.9 L1834.5 914.4 L1835.7 915.7 L1834.2 918.7 L1834.3 921.3 L1835.1 921.2 L1835.1 924.3 L1836.3 926.2 L1837.8 929.2 L1836.1 931.3 L1836.5 929.7 L1839 934.1 L1837.2 934.2 L1840 937.8 L1840.5 939.3 L1839 938.5 L1842.1 941.4 L1840 944.3 L1839.6 944.2 L1840.5 946.6 L1840.3 950.7 L1841.8 950.9 L1841.4 950.9 L1843.1 955.6 L1840.1 957.5 L1843.9 958 L1841.4 958.5 L1844.1 961.3 L1842.2 961.9 L1844.9 966.3 L1844.7 968.3 L1844.3 968.5 L1845.4 970.1 L1844 973.4 L1845 974 L1845.4 975.2 L1845.2 978.2 L1846.6 979.6 L1844.8 976 L1848.3 976.9 L1847.8 972.7 L1848.4 973.5 L1845.9 971.6 L1846.8 969.4 L1846.8 967.2 L1849 965 L1844.9 962.1 L1845.5 963.1 L1845.7 959 L1849.2 959.7 L1848.7 957.8 L1848.5 956.7 L1848.2 952.2 L1848.9 955 L1848.1 958.3 L1849 960.3 L1847.8 960 L1850.7 964.4 L1849.8 965.9 L1851.3 966.6 L1848.8 968 L1847.8 970.5 L1848 970.1 L1852.8 974.7 L1852.1 977.2 L1849.7 977.8 L1850.9 980.9 L1850.5 980.1 L1849.6 984.3 L1851.3 982.4 L1852.4 980.5 L1852.9 978.6 L1855 976.7 L1855.2 979.6 L1852.6 978.9 L1856.6 981.4 L1853.5 983.3 L1855.8 983.3 L1855.7 988 L1854.1 989.7 L1853.6 990.1 L1857.1 991 L1857.6 994.3 L1855.2 993.8 L1860.1 997.1 L1853.9 1000.8 L1854 1000.1 L1855.1 1001.2 L1861.2 1004.1 L1854.4 1007.1 L1858.9 1006.3 L1862.2 1010.9 L1856.5 1011.8 L1861.1 1013 L1858.5 1014 L1862.9 1015.2 L1863.2 1017.4 L1858.5 1021.7 L1858 1022.2 L1859.1 1024 L1862.3 1023.6 L1857.8 1026.3 L1859.2 1030.4 L1858.9 1029.6 L1862 1032.8 L1859.9 1032.4 L1865.1 1035.6 L1863 1036.2 L1856.7 1040.1 L1862.2 1039.3 L1864.9 1044.5 L1861.6 1045.7 L1862.7 1043.5 L1859.1 1042.8 L1863.5 1040.7 L1857.9 1036.4 L1859.3 1036.6 L1864.9 1032 L1858.3 1033.7 L1866.4 1031.9 L1861.2 1030 L1861.8 1025 L1862.4 1026.3 L1860.3 1023.4 L1862.8 1022.4 L1859.1 1018.7 L1863.3 1015.6 L1866.4 1017.1 L1864.6 1012.9 L1863.8 1012.8 L1865.1 1014 L1864.8 1016 L1861.8 1019 L1866.2 1018.5 L1864.7 1020.2 L1866.7 1021.9 L1867 1024.6 L1868.6 1027.5 L1868.6 1028.4 L1868.9 1031.1 L1865.3 1031.1 L1865.4 1031.7 L1866.8 1033.5 L1872.2 1036.2 L1866.1 1038.9 L1867.6 1040.7 L1863.9 1040.8 L1869.7 1043.9 L1869.1 1045 L1872.7 1049.2 L1872.8 1050.5 L1864.6 1051.1 L1867.8 1054.3 L1866.8 1055.1 L1864.6 1055.2 L1869.3 1059.2 L1866.1 1060.7 L1869.2 1061.1 L1868.6 1064.8 L1868 1066.6 L1863.5 1067.2 L1865.3 1069.4 L1865.5 1071.3 L1863.6 1072.4 L1864.2 1076.2 L1868 1078 L1871.6 1078.7 L1864.3 1079.8 L1864.6 1080.2 L1865.6 1084.6 L1864.7 1083.6 L1864.1 1086.6 L1864.3 1086.8 L1870.2 1090.3 L1864.4 1093 L1872 1092.6 L1869.6 1094.4 L1871.6 1091.6 L1873.5 1093.7 L1873.4 1093.8 L1877.1 1098.1 L1871.4 1098 L1869.8 1100.3 L1874.4 1101.5 L1870.3 1104.2 L1875.7 1104.3 L1877.2 1108.2 L1875.1 1108.2 L1879 1111.6 L1874.7 1112.8 L1874.5 1115.9 L1877.4 1116.5 L1873.7 1119 L1876.6 1121.2 L1874.1 1123.2 L1871.2 1124.1 L1871.7 1124.5 L1872.8 1128.3 L1878.9 1127.9 L1877.2 1131.2 L1877.8 1131.6 L1872.7 1136.3 L1872.9 1137.3 L1876.8 1140.1 L1869.9 1141.1" fill="none" stroke="#008000" stroke-width="7.2" stroke-linejoin="round" stroke-linecap="round" />
</g>
<g id="curves-bottom" clip-path="url(#cpb)">
<path d="M424.3 2349.7 L430.9 2331.7 L439.9 2319.8 L451.8 2312.3 L466.8 2307.8 L474.3 2309.3 L481.7 2316.8 L489.2 2328.8 L495.2 2346.7 L501.2 2367.6 L507.1 2388.5 L513.1 2403.5 L520.6 2410.9 L526.6 2405 L532.5 2393 L538.5 2394.5 L544.5 2397.5 L553.5 2396.9 L565.4 2393.9 L589.3 2391.5 L619.2 2387 L649.1 2382.5 L679 2378.1 L708.9 2370.6 L738.8 2364.6 L768.6 2358.6 L798.5 2349.7 L828.4 2340.7 L858.3 2331.7 L888.2 2322.8 L909.9 2316.7 L939.8 2306.2 L969.7 2297.3 L999.5 2288.3 L1029.4 2279.3 L1059.3 2270.4 L1089.2 2261.4 L1119.1 2250.9 L1149 2240.5 L1178.9 2228.5 L1208.8 2215.1 L1238.6 2201.6 L1268.5 2185.2 L1298.4 2170.2 L1328.3 2155.3 L1358.2 2140.3 L1363.9 2138.5 L1387.8 2124.2 L1411.7 2113.4 L1435.6 2102.6 L1459.5 2090.7 L1483.5 2081.1 L1507.4 2071.6 L1531.3 2063.2 L1555.2 2056 L1579.1 2048.8 L1603 2044.1 L1626.9 2039.3 L1650.8 2035.7 L1674.7 2034 L1698.6 2033.3 L1717.8 2033.3 L1732.1 2035.7 L1740.3 2033.6 L1767.1 2036.5 L1786.2 2038.4 L1805.4 2046.1 L1818.8 2055.6 L1828.3 2065.2 L1839.8 2074.8 L1851.3 2084.3 L1860.8 2097.7 L1868.5 2111.1 L1876.1 2124.5 L1883.8 2139.8 L1889.5 2155.1 L1895.3 2170.4 L1901 2183.8 L1906.7 2201 L1910.6 2218.2 L1914.4 2235.4 L1918.2 2254.6 L1922 2280" fill="none" stroke="#000" stroke-width="7.3" stroke-linejoin="round" stroke-linecap="round" />
<path d="M424.3 2225.6 L424.8 2223.9 L425.3 2222.2 L425.8 2220.4 L426.3 2218.7 L426.8 2217 L427.3 2215.3 L427.9 2213.5 L428.4 2211.8 L428.9 2210.1 L429.4 2208.4 L429.9 2206.6 L430.4 2204.9 L430.9 2203.2 L431.5 2201.5 L432.2 2199.8 L432.8 2198.1 L433.5 2196.4 L434.1 2194.7 L434.8 2193 L435.4 2191.2 L436 2189.5 L436.7 2187.8 L437.3 2186.1 L438 2184.4 L438.6 2182.7 L439.3 2181 L439.9 2179.3 L440.8 2177.7 L441.7 2176.1 L442.6 2174.5 L443.6 2172.9 L444.5 2171.3 L445.4 2169.7 L446.3 2168 L447.2 2166.4 L448.1 2164.8 L449.1 2163.2 L450 2161.6 L450.9 2160 L451.8 2158.4 L453.3 2157.3 L454.8 2156.3 L456.3 2155.2 L457.8 2154.2 L459.3 2153.2 L460.8 2152.1 L462.3 2151.1 L463.8 2150 L465.3 2149 L466.8 2147.9 L468.6 2147.4 L470.4 2146.9 L472.2 2146.4 L474 2145.9 L475.8 2145.4 L477.5 2144.9 L479.3 2144.4 L481.1 2143.9 L482.9 2143.4 L484.7 2142.9 L486.5 2142.8 L488.3 2142.7 L490.1 2142.6 L491.9 2142.5 L493.6 2142.4 L495.4 2142.4 L497.2 2142.3 L499 2142.2 L500.8 2142.1 L502.6 2142 L504.3 2142.6 L506 2143.3 L507.7 2143.9 L509.5 2144.5 L511.2 2145.1 L512.9 2145.8 L514.6 2146.4 L515.9 2147.5 L517.2 2148.7 L518.5 2149.8 L519.9 2150.9 L521.2 2152 L522.5 2153.2 L523.8 2154.3 L525.1 2155.4 L525.8 2157 L526.4 2158.7 L527.1 2160.3 L527.8 2161.9 L528.5 2163.5 L529.1 2165.2 L529.8 2166.8 L530.5 2168.4 L531.2 2170 L531.8 2171.7 L532.5 2173.3 L532.9 2175 L533.4 2176.7 L533.8 2178.4 L534.2 2180.2 L534.6 2181.9 L535.1 2183.6 L535.5 2185.3 L535.9 2187 L536.4 2188.7 L536.8 2190.4 L537.2 2192.2 L537.6 2193.9 L538.1 2195.6 L538.5 2197.3 L538.8 2199.1 L539 2200.8 L539.3 2202.6 L539.6 2204.3 L539.8 2206.1 L540.1 2207.8 L540.4 2209.6 L540.6 2211.3 L540.9 2213.1 L541.1 2214.8 L541.4 2216.6 L541.7 2218.3 L541.9 2220.1 L542.2 2221.8 L542.5 2223.6 L542.7 2225.3 L543 2227.1 L543.2 2228.9 L543.5 2230.7 L543.7 2232.5 L543.9 2234.3 L544.1 2236.1 L544.4 2237.9 L544.6 2239.7 L544.8 2241.5 L545 2243.3 L545.2 2245.1 L545.5 2246.8 L545.7 2248.6 L545.9 2250.4 L546.1 2252.2 L546.4 2254 L546.6 2255.8 L546.8 2257.6 L547 2259.4 L547.3 2261.2 L547.5 2263 L547.7 2264.8 L548 2266.6 L548.2 2268.4 L548.4 2270.2 L548.6 2272 L548.9 2273.8 L549.1 2275.6 L549.3 2277.4 L549.5 2279.2 L549.8 2280.9 L550 2282.7 L550.2 2284.5 L550.4 2286.3 L550.6 2288.1 L550.9 2289.9 L551.1 2291.7 L551.3 2293.5 L551.5 2295.3 L551.8 2297.1 L552 2298.9 L552.2 2300.7 L552.3 2302.4 L552.5 2304.2 L552.7 2305.9 L552.9 2307.7 L553 2309.5 L553.2 2311.2 L553.4 2313 L553.5 2314.7 L553.7 2316.5 L553.9 2318.2 L554 2320 L554.2 2321.8 L554.4 2323.5 L554.6 2325.3 L554.7 2327 L554.9 2328.8 L555 2330.6 L555.2 2332.4 L555.4 2334.2 L555.5 2336 L555.6 2337.8 L555.8 2339.5 L555.9 2341.3 L556.1 2343.1 L556.2 2344.9 L556.4 2346.7 L556.5 2348.5 L556.7 2350.3 L556.9 2352.1 L557 2353.9 L557.1 2355.7 L557.3 2357.4 L557.4 2359.2 L557.6 2361 L557.8 2362.8 L557.9 2364.6 L558 2366.4 L558.2 2368.1 L558.3 2369.9 L558.4 2371.7 L558.6 2373.4 L558.7 2375.2 L558.9 2377 L559 2378.7 L559.1 2380.5 L559.3 2382.3 L559.4 2384.1 L559.5 2385.8 L559.7 2387.6 L559.8 2389.4 L559.9 2391.1 L560.1 2392.9 L560.2 2394.7 L560.4 2396.4 L560.5 2398.2 L560.6 2400 L560.8 2401.7 L560.9 2403.5 L561.1 2405.3 L561.3 2407 L561.4 2408.8 L561.6 2410.5 L561.8 2412.3 L562 2414.1 L562.1 2415.8 L562.3 2417.6 L562.5 2419.3 L562.7 2421.1 L562.8 2422.8 L563 2424.6 L563.2 2426.4 L563.4 2428.1 L563.5 2429.9 L563.7 2431.6 L563.9 2433.4 L564.1 2435.1 L564.4 2436.9 L564.6 2438.6 L564.9 2440.4 L565.1 2442.1 L565.4 2443.9 L565.6 2445.6 L565.9 2447.3 L566.1 2449.1 L566.4 2450.8 L566.6 2452.6 L566.9 2454.3 L567.6 2455.8 L568.4 2457.3 L569.1 2458.8 L569.9 2460.2 L570.6 2461.7 L571.4 2463.2 L571.9 2461.5 L572.4 2459.9 L572.9 2458.2 L573.4 2456.6 L573.9 2454.9 L574.4 2453.3 L574.9 2451.6 L575.4 2450 L575.9 2448.3 L576.1 2446.5 L576.3 2444.8 L576.4 2443 L576.6 2441.3 L576.8 2439.5 L577 2437.7 L577.1 2436 L577.3 2434.2 L577.5 2432.5 L577.7 2430.7 L577.8 2429 L578 2427.2 L578.2 2425.4 L578.4 2423.7 L578.5 2421.9 L578.7 2420.2 L578.9 2418.4 L579.5 2416.6 L580.1 2414.8 L580.6 2413 L581.2 2411.2 L581.8 2409.4 L582.5 2410.9 L583.3 2412.4 L584 2413.9 L584.8 2415.4 L585.5 2416.9 L586.3 2418.4 L587.8 2419.5 L589.3 2420.7 L590.8 2421.8 L592.3 2422.9 L594 2422.8 L595.7 2422.6 L597.4 2422.5 L599.2 2422.4 L600.9 2422.3 L602.6 2422.1 L604.3 2422 L606 2421.8 L607.8 2421.7 L609.5 2421.5 L611.3 2421.3 L613 2421.1 L614.8 2420.9 L616.5 2420.8 L618.2 2420.6 L620 2420.4 L621.7 2420.2 L623.5 2420.1 L625.2 2419.9 L626.9 2419.5 L628.6 2419 L630.3 2418.6 L632 2418.2 L633.7 2417.8 L635.4 2417.3 L637.2 2416.9 L638.9 2416.5 L640.6 2416 L642.3 2415.6 L644 2415.2 L645.7 2414.8 L647.4 2414.3 L649.1 2413.9 L650.9 2413.5 L652.6 2413.2 L654.4 2412.8 L656.1 2412.5 L657.9 2412.1 L659.7 2411.8 L661.4 2411.4 L663.2 2411.1 L664.9 2410.7 L666.7 2410.4 L668.4 2410 L670.2 2409.7 L672 2409.3 L673.7 2409 L675.5 2408.6 L677.2 2408.3 L679 2407.9 L680.8 2407.6 L682.5 2407.4 L684.3 2407.1 L686 2406.9 L687.8 2406.6 L689.6 2406.3 L691.3 2406.1 L693.1 2405.8 L694.8 2405.6 L696.6 2405.3 L698.3 2405.1 L700.1 2404.8 L701.9 2404.5 L703.6 2404.3 L705.4 2404 L707.1 2403.8 L708.9 2403.5 L710.7 2403.1 L712.4 2402.6 L714.2 2402.2 L715.9 2401.7 L717.7 2401.3 L719.5 2400.9 L721.2 2400.4 L723 2400 L724.7 2399.5 L726.5 2399.1 L728.2 2398.6 L730 2398.2 L731.8 2397.8 L733.5 2397.3 L735.3 2396.9 L737 2396.4 L738.8 2396 L740.6 2395.6 L742.3 2395.1 L744.1 2394.7 L745.8 2394.2 L747.6 2393.8 L749.3 2393.4 L751.1 2392.9 L752.8 2392.5 L754.6 2392 L756.3 2391.6 L758.1 2391.1 L759.8 2390.7 L761.6 2390.3 L763.3 2389.8 L765.1 2389.4 L766.8 2388.9 L768.6 2388.5 L770.4 2388.1 L772.1 2387.8 L773.9 2387.4 L775.6 2387.1 L777.4 2386.7 L779.2 2386.4 L780.9 2386 L782.7 2385.7 L784.4 2385.3 L786.2 2385 L787.9 2384.6 L789.7 2384.3 L791.5 2383.9 L793.2 2383.6 L795 2383.2 L796.7 2382.9 L798.5 2382.5 L800.3 2382.1 L802 2381.6 L803.8 2381.2 L805.5 2380.8 L807.3 2380.3 L809.1 2379.9 L810.8 2379.5 L812.6 2379 L814.3 2378.6 L816.1 2378.1 L817.8 2377.7 L819.6 2377.3 L821.4 2376.8 L823.1 2376.4 L824.9 2375.9 L826.6 2375.5 L828.4 2375.1 L830.2 2374.6 L831.9 2374 L833.7 2373.5 L835.4 2373 L837.2 2372.5 L839 2371.9 L840.7 2371.5 L842.5 2370.7 L844.2 2370.4 L846 2369.8 L847.7 2369.2 L849.5 2368.7 L851.3 2368.1 L853 2367.7 L854.8 2367.2 L856.5 2366.5 L858.3 2366.1 L860.1 2365.8 L861.8 2365.4 L863.6 2365 L865.3 2364.7 L867.1 2364.3 L868.9 2364.2 L870.6 2363.7 L872.4 2363.4 L874.1 2363 L875.9 2362.4 L877.6 2362.3 L879.4 2361.7 L881.2 2361.6 L882.9 2361.2 L884.7 2361 L886.4 2360.7 L888.2 2359.9 L889.9 2359.9 L891.5 2359 L893.2 2358.6 L894.9 2358.3 L896.5 2357.6 L898.2 2357.5 L899.9 2356.6 L901.6 2356.6 L903.2 2355.7 L904.9 2355.3 L906.6 2355.1 L908.2 2354.4 L909.9 2354.2 L911.7 2353.3 L913.4 2352.8 L915.2 2352.4 L916.9 2351.8 L918.7 2351.7 L920.5 2350.8 L922.2 2350.3 L924 2349.8 L925.7 2349.1 L927.5 2349 L929.2 2347.9 L931 2347.4 L932.8 2347.3 L934.5 2346.4 L936.3 2346.3 L938 2346 L939.8 2345.4 L941.5 2344.9 L943.1 2344.4 L944.8 2343.3 L946.4 2343.4 L948.1 2342.8 L949.7 2342.3 L951.4 2342 L953 2340.7 L954.7 2340.6 L956.6 2340.3 L958.5 2340 L960.3 2340.2 L962.2 2339.7 L964.1 2340.1 L966 2339.9 L967.8 2339.3 L969.7 2339.1 L971.5 2338.6 L973.2 2338.7 L975 2337.4 L976.7 2336.9 L978.5 2336.9 L980.2 2337 L982 2336.4 L983.7 2335.2 L985.5 2335.6 L987.2 2334.6 L989 2334.2 L990.7 2334.1 L992.5 2333.3 L994.2 2333.4 L996 2332 L997.7 2331.9 L999.5 2331.1 L1001.3 2330.6 L1003 2330.3 L1004.8 2329.6 L1006.5 2328.9 L1008.3 2329.5 L1010.1 2328.2 L1011.8 2328.4 L1013.6 2327.1 L1015.3 2326.6 L1017.1 2326.3 L1018.8 2325.5 L1020.6 2325.6 L1022.4 2324.8 L1024.1 2323.8 L1025.9 2323.9 L1027.6 2323.7 L1029.4 2322.7 L1031.2 2322.2 L1032.9 2321.9 L1034.7 2321.4 L1036.4 2320.7 L1038.2 2320.4 L1040 2319.9 L1041.7 2319.2 L1043.5 2319.1 L1045.2 2318.1 L1047 2318.8 L1048.7 2317.6 L1050.5 2317.3 L1052.3 2317 L1054 2316 L1055.8 2316.6 L1057.5 2316.2 L1059.3 2315.2 L1061 2314.7 L1062.6 2313.8 L1064.3 2313.9 L1065.9 2313.1 L1067.6 2311.8 L1069.3 2311.8 L1070.9 2310.9 L1072.6 2310.9 L1074.2 2310.4 L1075.9 2309.9 L1077.6 2309.1 L1079.2 2308.1 L1080.9 2307.7 L1082.6 2307.3 L1084.2 2306.7 L1085.9 2306 L1087.5 2304.7 L1089.2 2305.3 L1091 2304.3 L1092.7 2303.7 L1094.5 2303.2 L1096.2 2303.1 L1098 2302.2 L1099.8 2301.6 L1101.5 2300.9 L1103.3 2300.3 L1105 2300.5 L1106.8 2299.9 L1108.5 2299.5 L1110.3 2298.2 L1112.1 2297.6 L1113.8 2297.1 L1115.6 2296.7 L1117.3 2296.9 L1119.1 2295.6 L1120.8 2294.7 L1122.4 2294.7 L1124.1 2294.6 L1125.7 2293.9 L1127.4 2292.4 L1129.1 2291.8 L1130.7 2291.7 L1132.4 2291.1 L1134 2290.5 L1135.7 2289.8 L1137.4 2289.7 L1139 2289.3 L1140.7 2287.8 L1142.4 2287.3 L1144 2287.6 L1145.7 2286.7 L1147.3 2285.4 L1149 2285.9 L1150.7 2284.9 L1152.3 2284.1 L1154 2283 L1155.6 2282.7 L1157.3 2282.9 L1159 2281.3 L1160.6 2281.6 L1162.3 2280.2 L1164 2279.9 L1165.6 2279.2 L1167.3 2279.4 L1168.9 2278.6 L1170.6 2277.2 L1172.3 2276.9 L1173.9 2276.7 L1175.6 2275.6 L1177.2 2275.4 L1178.9 2274.4 L1180.6 2274.3 L1182.2 2273.3 L1183.9 2272.9 L1185.5 2272.1 L1187.2 2272.1 L1188.9 2270.4 L1190.5 2270.2 L1192.2 2269.1 L1193.8 2268.7 L1195.5 2268.2 L1197.2 2267.7 L1198.8 2266.6 L1200.5 2266.6 L1202.2 2265 L1203.8 2264.7 L1205.5 2264.3 L1207.1 2263.8 L1208.8 2262.4 L1210.5 2262.7 L1212.1 2261.3 L1213.8 2260.3 L1215.4 2260.4 L1217.1 2259.7 L1218.7 2258.8 L1220.4 2258 L1222 2257.2 L1223.7 2257 L1225.4 2256.5 L1227 2255.9 L1228.7 2255.1 L1230.3 2253.9 L1232 2253.8 L1233.6 2253 L1235.3 2252.6 L1236.9 2251 L1238.6 2250.4 L1240.3 2250.6 L1241.9 2249 L1243.6 2248.1 L1245.2 2247.5 L1246.9 2247.1 L1248.6 2246.2 L1250.2 2246 L1251.9 2244.4 L1253.5 2244 L1255.2 2243.6 L1256.9 2242.8 L1258.5 2241.7 L1260.2 2241.7 L1261.9 2240.8 L1263.5 2239.4 L1265.2 2239 L1266.8 2238.7 L1268.5 2237 L1270.1 2236.6 L1271.6 2235.4 L1273.2 2234.5 L1274.8 2234.3 L1276.4 2233.4 L1277.9 2233.3 L1279.5 2232.2 L1281.1 2231.1 L1282.7 2230.2 L1284.2 2229.3 L1285.8 2228.7 L1287.4 2227.6 L1289 2227.1 L1290.5 2227 L1292.1 2225.5 L1293.7 2225.4 L1295.3 2224.4 L1296.8 2223.3 L1298.4 2222.2 L1300.1 2222 L1301.7 2221.5 L1303.4 2220.8 L1305 2219.9 L1306.7 2218.9 L1308.4 2217.6 L1310 2217.7 L1311.7 2216.1 L1313.3 2215.8 L1315 2215.5 L1316.7 2213.9 L1318.3 2213.6 L1320 2213.3 L1321.7 2211.6 L1323.3 2211.2 L1325 2210 L1326.6 2210 L1328.3 2208.7 L1329.9 2208.3 L1331.4 2207.8 L1333 2205.9 L1334.6 2205.2 L1336.2 2204.6 L1337.7 2203.5 L1339.3 2203.2 L1340.9 2202.6 L1342.5 2201.8 L1344 2200.1 L1345.6 2199.2 L1347.2 2198.4 L1348.8 2197.6 L1350.3 2197.4 L1351.9 2195.5 L1353.5 2195.4 L1355.1 2194.8 L1356.6 2193.9 L1358.2 2192.8 L1360.1 2191.9 L1362 2191.5 L1363.9 2191.5 L1365.5 2189.9 L1367.1 2189.5 L1368.7 2188.8 L1370.3 2187.4 L1371.9 2187.3 L1373.5 2186.4 L1375.1 2185.2 L1376.6 2183.6 L1378.2 2183.5 L1379.8 2182.1 L1381.4 2181.2 L1383 2180.6 L1384.6 2179.4 L1386.2 2178.7 L1387.8 2178 L1389.4 2177.5 L1391 2176.6 L1392.6 2175.4 L1394.2 2174.9 L1395.8 2173.8 L1397.4 2172.9 L1399 2172 L1400.5 2171.2 L1402.1 2170.8 L1403.7 2170.1 L1405.3 2168.6 L1406.9 2167.9 L1408.5 2167.5 L1410.1 2167.2 L1411.7 2166.1 L1413.4 2165.9 L1415.1 2164.8 L1416.8 2164.8 L1418.5 2163.4 L1420.2 2163.1 L1421.9 2163 L1423.7 2161.5 L1425.4 2160.7 L1427.1 2160.1 L1428.8 2160 L1430.5 2159.5 L1432.2 2158.2 L1433.9 2157.8 L1435.6 2158 L1437.2 2156.9 L1438.8 2155.9 L1440.4 2155.2 L1442 2154.7 L1443.6 2153.6 L1445.2 2152.8 L1446.8 2151.8 L1448.3 2150.1 L1449.9 2149.4 L1451.5 2149.3 L1453.1 2148.3 L1454.7 2146.7 L1456.3 2146.4 L1457.9 2145.6 L1459.5 2145.1 L1461.1 2143.2 L1462.7 2143.4 L1464.3 2142.3 L1465.9 2141.4 L1467.5 2141.1 L1469.1 2140.3 L1470.7 2139.8 L1472.3 2139.3 L1473.9 2138.1 L1475.5 2137 L1477.1 2136.2 L1478.7 2136.2 L1480.3 2135.5 L1481.9 2134.5 L1483.5 2133.6 L1485.1 2132.8 L1486.7 2131.4 L1488.3 2131.6 L1489.9 2130.4 L1491.5 2129 L1493.1 2128.6 L1494.7 2127.8 L1496.2 2126.4 L1497.8 2125.4 L1499.4 2125.5 L1501 2124.4 L1502.6 2123.2 L1504.2 2122.3 L1505.8 2121.8 L1507.4 2120.3 L1509 2119.6 L1510.6 2119.2 L1512.2 2119 L1513.8 2117.3 L1515.4 2116.7 L1517 2115.8 L1518.6 2115 L1520.1 2115.1 L1521.7 2114.5 L1523.3 2113.4 L1524.9 2112.1 L1526.5 2112.2 L1528.1 2111.4 L1529.7 2110.1 L1531.3 2109.8 L1532.9 2109.3 L1534.5 2108.4 L1536.1 2106.9 L1537.7 2107 L1539.3 2106.4 L1540.9 2105.4 L1542.5 2104.6 L1544 2103.5 L1545.6 2102.3 L1547.2 2101.3 L1548.8 2100.9 L1550.4 2100.3 L1552 2099 L1553.6 2098.8 L1555.2 2098.4 L1556.8 2096.9 L1558.4 2097 L1560 2095.7 L1561.6 2094.5 L1563.2 2094.6 L1564.8 2093.3 L1566.4 2093.2 L1567.9 2092.5 L1569.5 2091 L1571.1 2090.2 L1572.7 2090.3 L1574.3 2089.1 L1575.9 2088.4 L1577.5 2087.3 L1579.1 2087.5 L1580.6 2085.6 L1582.1 2085.4 L1583.6 2084.3 L1585 2083.4 L1586.5 2082.2 L1588 2080.6 L1589.5 2079.8 L1591 2079.1 L1592.7 2077.5 L1594.4 2077.2 L1596.1 2076.1 L1597.9 2074.9 L1599.6 2074 L1601.3 2073.2 L1603 2073.1 L1604.6 2072.5 L1606.2 2071.4 L1607.8 2070.4 L1609.4 2070.1 L1611 2069.1 L1612.6 2068.1 L1614.2 2067.5 L1615.7 2066 L1617.3 2065.8 L1618.9 2065.4 L1620.5 2064.6 L1622.1 2063.4 L1623.7 2062.2 L1625.3 2061.1 L1626.9 2061.1 L1628.4 2059.6 L1629.9 2058.3 L1631.4 2057.7 L1632.9 2057.3 L1634.4 2055.7 L1635.9 2055 L1637.4 2054.4 L1638.8 2052.9 L1640.3 2051.8 L1641.8 2050.6 L1643.3 2049.6 L1644.8 2049.6 L1646.3 2048.8 L1647.8 2047.4 L1649.3 2046.3 L1650.8 2045 L1652.5 2045.1 L1654.2 2044 L1655.9 2043.3 L1657.6 2042 L1659.3 2042.1 L1661 2041.7 L1662.8 2040.7 L1664.5 2040.1 L1666.2 2038.5 L1667.9 2038.7 L1669.6 2037.8 L1671.3 2036.5 L1673 2036 L1674.7 2035.5 L1676.3 2035.3 L1677.9 2034.3 L1679.5 2034 L1681.1 2033.4 L1682.7 2032.4 L1684.3 2031.2 L1685.9 2030.9 L1687.4 2030.3 L1689 2028.9 L1690.6 2028.7 L1692.2 2027.6 L1693.8 2026.5 L1695.4 2026.2 L1697 2025.9 L1698.6 2024.6 L1700.3 2024.9 L1702.1 2023.8 L1703.8 2023.7 L1705.6 2022.9 L1707.3 2022.7 L1709.1 2022.3 L1710.8 2021.5 L1712.6 2021.2 L1714.3 2021.1 L1716.1 2020.6 L1717.8 2019.7 L1719.4 2019.1 L1721 2019.2 L1722.6 2017.9 L1724.2 2016.6 L1725.7 2016.5 L1727.3 2015.9 L1728.9 2014.6 L1730.5 2014.8 L1732.1 2013.8 L1733.2 2011.5 L1734.3 2010.3 L1735.4 2008.7 L1736.5 2008.3 L1738.1 2006.6 L1739.7 2006.4 L1741.3 2005.4 L1742.9 2005.2 L1744.5 2004.3 L1746.1 2003.6 L1747.7 2003.1 L1749.3 2001.5 L1750.8 2001.1 L1752.4 2001.7 L1754 2000.9 L1755.6 2000.1 L1757.5 2000.7 L1759.4 2000.6 L1761.4 2001.2 L1763.3 2001.1 L1765.2 2001.9 L1767.1 2002.5 L1769 2002.4 L1770.9 2003.5 L1772.8 2002.4 L1774.7 2002.1 L1776.7 2002.8 L1778.6 2002.7 L1780.5 2002.7 L1782.4 2001.6 L1784.3 2001.8 L1786.2 2001.6 L1788.2 2001.1 L1790.1 2001.8 L1792 2001.8 L1793.9 2001.6 L1795.4 2002.1 L1796.9 2002.5 L1798.5 2003.7 L1800 2003.8 L1801.5 2004.7 L1803.4 2005.2 L1805.3 2005 L1807.3 2006 L1809.2 2005.8 L1811.1 2005.5 L1812.5 2006.8 L1813.9 2008.7 L1815.4 2009.8 L1816.8 2012.1 L1818 2012.7 L1819.1 2014.2 L1820.3 2016.4 L1821.4 2017.3 L1822.6 2019.7 L1824.2 2020.2 L1825.8 2021.4 L1827.3 2021.9 L1828.9 2022.5 L1830.5 2023.5 L1832.1 2023.9 L1833.7 2024.4 L1835.3 2025.4 L1836.9 2025.2 L1838.5 2026.3 L1840.1 2026.6 L1841.7 2026.4 L1842.8 2028.2 L1843.9 2029.1 L1845 2031.4 L1846.1 2032.2 L1847.2 2033.5 L1848.3 2035.3 L1849.4 2036.4 L1850.4 2038.4 L1851.3 2040.2 L1852.2 2041 L1853.2 2043.3 L1854.1 2043.9 L1855.1 2046 L1855.6 2048.3 L1856.2 2049.4 L1856.7 2050.9 L1857.3 2053 L1857.8 2054 L1858.4 2056.3 L1858.9 2057.6 L1859.7 2059.3 L1860.4 2060.2 L1861.2 2061.9 L1861.9 2063.6 L1862.7 2064.9 L1863.8 2067.1 L1864.9 2068.1 L1866 2069.4 L1867.1 2071.2 L1868.2 2072.6 L1869.3 2073.5 L1870.4 2075.3 L1871.4 2075.9 L1872.3 2077.8 L1873.2 2079.7 L1874.2 2080.6 L1875.1 2082.6 L1876.1 2084.6 L1876.9 2086 L1877.8 2087.5 L1878.6 2089.8 L1879.4 2091.3 L1880.2 2092.7 L1881.1 2094.2 L1881.9 2095.5 L1882.4 2097.1 L1883 2099 L1883.5 2101 L1884.1 2102.8 L1884.6 2104 L1885.2 2105.5 L1885.7 2107.8 L1886.2 2108.4 L1886.8 2111.1 L1887.3 2112.1 L1887.9 2113.6 L1888.4 2115.5 L1889 2116.8 L1889.5 2119.3 L1890 2120.4 L1890.5 2122.3 L1891 2123.2 L1891.5 2125.9 L1891.9 2127.4 L1892.4 2129.3 L1892.9 2130.2 L1893.4 2131.9 L1893.9 2133.5 L1894.5 2135 L1895 2136.5 L1895.6 2138.2 L1896.1 2139.8 L1896.7 2142.2 L1897.2 2143.2 L1897.7 2144.8 L1898.2 2147.4 L1898.6 2148.2 L1899.1 2149.7 L1899.6 2151.7 L1900 2154.2 L1900.5 2155 L1901 2156.4 L1901.5 2158.1 L1902 2160.6 L1902.4 2161.9 L1902.9 2163.1 L1903.4 2165.3 L1903.8 2166.9 L1904.3 2168.6 L1904.8 2170.7 L1905.3 2171.7 L1905.8 2173.7 L1906.3 2175.5 L1906.8 2177.4 L1907.2 2178.8 L1907.7 2181.2 L1908.2 2183.1 L1908.7 2183.9 L1909.2 2185.6 L1909.5 2187.5 L1909.7 2189.8 L1910 2191.9 L1910.3 2192.7 L1910.5 2195.1 L1910.8 2197.1 L1911.1 2198.4 L1911.3 2200.4 L1911.6 2202 L1912 2203.9 L1912.4 2206.3 L1912.8 2208.4 L1913.2 2209.9 L1913.7 2211.4 L1914.1 2213.2 L1914.5 2215.2 L1914.9 2216.4 L1915.6 2218.6 L1916.3 2220.8 L1917 2221.8 L1917.7 2223.4 L1918.4 2225.2 L1919.1 2227 L1919.8 2228.7 L1920.2 2230.8 L1920.5 2232.6 L1920.9 2234.2 L1921.2 2235.8 L1921.6 2237.4 L1921.9 2238.7 L1922.3 2241.5 L1922.6 2242.4 L1923 2244.2 L1923.4 2246.1 L1923.7 2248.7 L1924.1 2249.8 L1924.5 2251.8 L1924.8 2253.6 L1925.2 2255.7 L1925.6 2257.5 L1925.9 2259.4 L1926.3 2261 L1926.6 2263 L1926.8 2264.8 L1927.1 2265.8 L1927.4 2268.5 L1927.6 2270.5 L1927.9 2271.6 L1928.2 2274.1 L1928.4 2274.9 L1928.7 2277.7 L1929.2 2279.2 L1929.6 2280.3 L1930.1 2283.2 L1930.6 2284.3 L1931.1 2286.1 L1931.5 2287.8 L1932 2290.6 L1932.3 2291.8 L1932.7 2294.4 L1933 2295.3 L1933.4 2298 L1933.7 2299.7 L1934.1 2301.4 L1934.4 2303.3 L1934.9 2305.5 L1935.3 2307.2 L1935.8 2309.3 L1936.3 2311.2 L1936.8 2312.7 L1937.2 2314.2 L1937.7 2316.3 L1938 2317.9 L1938.4 2319.8 L1938.7 2321.7 L1939.1 2323.7 L1939.4 2325.1 L1939.8 2327.9 L1940.1 2329.4" fill="none" stroke="#f00" stroke-width="7.4" stroke-linejoin="round" stroke-linecap="round" />
<path d="M424.3 2162.9 L424.6 2161.4 L425 2159.9 L425.3 2158.4 L425.7 2156.9 L426 2155.4 L426.3 2153.9 L426.7 2152.4 L427 2151 L427.4 2149.5 L427.7 2148 L428 2146.5 L428.4 2145 L428.7 2143.5 L429.1 2142 L429.4 2140.5 L430.1 2139.1 L430.8 2137.8 L431.4 2136.4 L432.1 2135 L432.8 2133.7 L433.5 2132.3 L434.2 2131 L434.9 2129.6 L435.5 2128.2 L436.2 2126.9 L436.9 2125.5 L437.6 2124.3 L438.4 2123 L439.1 2121.8 L439.9 2120.5 L440.6 2119.3 L441.4 2118.1 L442.1 2116.8 L442.9 2115.6 L443.6 2114.3 L444.4 2113.1 L445.1 2111.8 L445.9 2110.6 L447 2109.5 L448.1 2108.3 L449.2 2107.2 L450.4 2106.1 L451.5 2105 L452.6 2103.8 L453.7 2102.7 L454.8 2101.6 L456.2 2101.1 L457.5 2100.5 L458.9 2100 L460.3 2099.4 L461.6 2098.9 L463 2098.3 L464.3 2097.8 L465.7 2097.2 L467.1 2096.7 L468.4 2096.1 L469.8 2095.6 L471.2 2095.1 L472.6 2094.7 L473.9 2094.2 L475.3 2093.8 L476.7 2093.3 L478.1 2092.9 L479.4 2092.4 L480.8 2092 L482.2 2091.5 L483.6 2091.1 L484.9 2090.6 L486.3 2090.2 L487.7 2089.7 L489.2 2089.5 L490.7 2089.3 L492.2 2089.2 L493.7 2089 L495.2 2088.8 L496.6 2088.6 L498.1 2088.5 L499.6 2088.3 L501.1 2088.1 L502.6 2087.9 L504.1 2087.8 L505.6 2087.6 L507.1 2087.9 L508.6 2088.1 L510.1 2088.4 L511.6 2088.6 L513.1 2088.9 L514.6 2089.2 L516.1 2089.4 L517.6 2089.7 L519.1 2090.1 L520.6 2090.4 L522.1 2090.8 L523.5 2091.1 L525 2091.5 L526.5 2091.9 L528 2092.2 L529.5 2092.6 L530.3 2093.8 L531.2 2094.9 L532 2096.1 L532.8 2097.3 L533.7 2098.4 L534.5 2099.6 L535.3 2100.8 L536.2 2101.9 L537 2103.1 L537.8 2104.4 L538.5 2105.7 L539.2 2107 L540 2108.3 L540.8 2109.7 L541.5 2111 L542.2 2112.3 L543 2113.6 L543.3 2115.1 L543.6 2116.6 L544 2118.1 L544.3 2119.6 L544.6 2121.1 L544.9 2122.6 L545.2 2124.1 L545.6 2125.5 L545.9 2127 L546.2 2128.5 L546.5 2130 L546.9 2131.5 L547.2 2133 L547.5 2134.5 L547.8 2136 L548.1 2137.5 L548.5 2139 L548.8 2140.5 L549.1 2142 L549.4 2143.5 L549.8 2144.9 L550.1 2146.4 L550.4 2147.9 L550.7 2149.4 L551 2150.9 L551.4 2152.4 L551.7 2153.9 L552 2155.4 L552.3 2156.9 L552.5 2158.4 L552.8 2159.9 L553.1 2161.4 L553.4 2162.9 L553.6 2164.4 L553.9 2165.9 L554.2 2167.4 L554.5 2168.8 L554.8 2170.3 L555 2171.8 L555.3 2173.3 L555.6 2174.8 L555.9 2176.3 L556.1 2177.8 L556.4 2179.3 L556.5 2180.8 L556.7 2182.3 L556.9 2183.8 L557 2185.3 L557.1 2186.8 L557.3 2188.3 L557.4 2189.8 L557.6 2191.3 L557.8 2192.8 L557.9 2194.2 L558 2195.7 L558.2 2197.2 L558.4 2198.7 L558.5 2200.2 L558.6 2201.7 L558.8 2203.2 L558.9 2204.7 L559.1 2206.2 L559.2 2207.7 L559.4 2209.2 L559.6 2210.7 L559.8 2212.2 L560 2213.7 L560.1 2215.2 L560.3 2216.7 L560.5 2218.2 L560.7 2219.7 L560.9 2221.1 L561.1 2222.6 L561.3 2224.1 L561.5 2225.6 L561.6 2227.1 L561.8 2228.6 L562 2230.1 L562.2 2231.6 L562.4 2233.1 L562.5 2234.6 L562.7 2236.1 L562.9 2237.6 L563 2239.1 L563.1 2240.6 L563.3 2242.1 L563.4 2243.6 L563.6 2245.1 L563.8 2246.6 L563.9 2248.1 L564 2249.5 L564.2 2251 L564.4 2252.5 L564.5 2254 L564.6 2255.5 L564.8 2257 L564.9 2258.5 L565.1 2260 L565.2 2261.5 L565.4 2263 L565.5 2264.5 L565.6 2266 L565.8 2267.5 L565.9 2269 L566 2270.5 L566.1 2272 L566.3 2273.5 L566.4 2275 L566.5 2276.5 L566.6 2278 L566.8 2279.5 L566.9 2280.9 L567 2282.4 L567.1 2283.9 L567.3 2285.4 L567.4 2286.9 L567.5 2288.4 L567.6 2289.9 L567.8 2291.4 L567.9 2292.9 L568 2294.4 L568.1 2295.9 L568.3 2297.4 L568.4 2298.9 L568.5 2300.4 L568.6 2301.9 L568.6 2303.4 L568.7 2304.9 L568.8 2306.4 L568.9 2307.9 L569 2309.4 L569 2310.8 L569.1 2312.3 L569.2 2313.8 L569.3 2315.3 L569.4 2316.8 L569.4 2318.3 L569.5 2319.8 L569.6 2321.3 L569.7 2322.8 L569.8 2324.3 L569.8 2325.8 L569.9 2327.3 L570 2328.8 L570.1 2330.3 L570.2 2331.8 L570.2 2333.2 L570.3 2334.7 L570.4 2336.2 L570.5 2337.7 L570.6 2339.2 L570.6 2340.7 L570.7 2342.2 L570.8 2343.7 L570.9 2345.2 L570.9 2346.7 L571 2348.2 L571.1 2349.7 L571.1 2351.2 L571.2 2352.7 L571.3 2354.2 L571.4 2355.6 L571.4 2357.1 L571.5 2358.6 L571.6 2360.1 L571.6 2361.6 L571.7 2363.1 L571.8 2364.6 L571.8 2366.1 L571.9 2367.6 L572 2369.1 L572.1 2370.6 L572.1 2372.1 L572.2 2373.6 L572.3 2375.1 L572.3 2376.6 L572.4 2378 L572.5 2379.5 L572.5 2381 L572.6 2382.5 L572.7 2384 L572.8 2385.5 L572.8 2387 L572.9 2388.5 L573 2390 L573.1 2391.5 L573.2 2393 L573.3 2394.5 L573.4 2396 L573.5 2397.5 L573.6 2399 L573.7 2400.5 L573.8 2402 L574 2403.4 L574.1 2404.9 L574.2 2406.4 L574.3 2407.9 L574.4 2409.4 L574.5 2410.9 L574.6 2412.4 L574.7 2413.9 L574.8 2415.4 L574.9 2416.9 L575 2418.4 L575.1 2419.9 L575.2 2421.4 L575.4 2422.9 L575.5 2424.4 L575.6 2425.9 L575.7 2427.4 L575.8 2428.9 L576 2430.4 L576.1 2431.9 L576.2 2433.4 L576.3 2434.8 L576.4 2436.3 L576.6 2437.8 L576.7 2439.3 L576.8 2440.8 L576.9 2442.3 L577 2443.8 L577.2 2445.3 L577.3 2446.8 L577.4 2448.3 L577.5 2449.8 L577.7 2451.3 L577.9 2452.8 L578 2454.3 L578.1 2455.8 L578.3 2457.3 L578.4 2458.8 L578.6 2460.2 L578.8 2461.7 L578.9 2463.2 L579 2464.7 L579.2 2466.2 L579.3 2467.7 L579.5 2469.2 L579.6 2470.7 L579.8 2472.2 L580.4 2473.7 L581 2475.2 L581.5 2476.7 L582.1 2478.2 L582.7 2479.7 L583.2 2478.4 L583.8 2477.1 L584.3 2475.8 L584.8 2474.4 L585.3 2473.1 L585.9 2471.8 L586.4 2470.5 L586.9 2469.2 L587 2467.7 L587.2 2466.2 L587.3 2464.7 L587.4 2463.2 L587.6 2461.7 L587.7 2460.2 L587.8 2458.7 L588 2457.2 L588.1 2455.8 L588.2 2454.3 L588.4 2452.8 L588.5 2451.3 L588.6 2449.8 L588.8 2448.3 L588.9 2446.8 L589 2445.3 L589.2 2443.8 L589.3 2442.3 L589.4 2440.8 L589.6 2439.3 L589.7 2437.8 L589.8 2436.3 L590 2434.8 L590.1 2433.3 L590.2 2431.8 L590.4 2430.3 L590.5 2428.9 L590.6 2427.4 L590.8 2425.9 L590.9 2424.4 L591 2422.9 L591.2 2421.4 L591.3 2419.9 L591.4 2418.4 L591.6 2416.9 L591.7 2415.4 L592.1 2413.9 L592.6 2412.4 L593 2410.9 L593.4 2409.5 L593.8 2408 L594.3 2406.5 L594.7 2405 L594.9 2406.5 L595.2 2408 L595.4 2409.5 L595.6 2411 L595.9 2412.4 L596.1 2413.9 L596.3 2415.4 L596.6 2416.9 L596.8 2418.4 L597.2 2419.9 L597.7 2421.4 L598.1 2422.9 L598.5 2424.4 L598.9 2425.9 L599.4 2427.4 L599.8 2428.9 L601.1 2429.5 L602.3 2430.2 L603.6 2430.8 L604.9 2431.5 L606.2 2432.1 L607.4 2432.8 L608.7 2433.4 L610.2 2433.1 L611.7 2432.9 L613.2 2432.6 L614.7 2432.3 L616.2 2432 L617.7 2431.8 L619.2 2431.5 L620.7 2431.2 L622.2 2430.9 L623.7 2430.7 L625.2 2430.4 L626.7 2430.2 L628.2 2430 L629.7 2429.8 L631.2 2429.7 L632.7 2429.5 L634.2 2429.3 L635.7 2429.1 L637.2 2428.9 L638.6 2428.7 L639.6 2428.5 L641.4 2428.3 L643.4 2428.1 L643.6 2428 L645.6 2427.7 L648.6 2427.6 L649.8 2427.4 L650.8 2427 L652.2 2426.8 L653.4 2426.4 L655.1 2425.8 L656.7 2425.6 L657.2 2425.1 L659.8 2424.9 L660.9 2424.7 L662.3 2424.4 L663.1 2424 L664.7 2423.7 L666.9 2422.9 L666.9 2422.6 L670 2422.4 L670.7 2421.9 L671.9 2421.6 L673 2421.4 L674.9 2421.2 L676.5 2420.9 L678.3 2420.6 L679.3 2419.6 L681.1 2419.9 L682.7 2419.2 L683.7 2418.6 L685.4 2418.5 L685.7 2417.7 L688.3 2418.2 L688.1 2417.7 L690.2 2416.7 L691.4 2417 L694 2415.9 L694.9 2415.5 L696.5 2415.4 L698.3 2415.8 L698.9 2415.5 L700 2414.1 L702 2413.6 L702.6 2413.7 L704.8 2413 L705.1 2413.6 L707.1 2413.4 L709.7 2412.2 L710.3 2412.3 L712.2 2412.2 L713.5 2412.1 L715.8 2411.8 L716.2 2412 L717.3 2411.2 L720.3 2411.4 L721 2410.4 L722.2 2411.2 L722.9 2411.1 L725.6 2410 L727.1 2410.5 L728.7 2410.2 L730.2 2410.7 L730.4 2409.4 L733.2 2410.8 L733.8 2409.8 L736 2409.4 L737 2409.2 L738.5 2409.6 L739.9 2408.9 L742.3 2407.9 L743.4 2409 L744.4 2407.7 L746.9 2407.4 L747.1 2407.5 L749.6 2406.5 L750.4 2406.7 L752.9 2406.7 L754.4 2405.8 L754.6 2406.1 L757 2404.9 L756.9 2403.4 L758.7 2402.8 L760.5 2403.5 L760.5 2401.5 L763 2401.6 L764.2 2400.1 L764.1 2399.3 L766.7 2398.4 L767.1 2398 L768.4 2397.3 L770.8 2396.2 L770.4 2397.8 L773.6 2397.5 L774.1 2397.1 L776.5 2394.8 L777.5 2396 L778.7 2394.8 L779.4 2393.9 L780.7 2392.7 L782.8 2392.9 L784.6 2391.8 L786.2 2393.2 L787.6 2393.4 L789 2392.1 L788.6 2392.2 L790.4 2390.8 L792.9 2391.4 L793.9 2392.5 L795.8 2390.7 L796.6 2392.1 L798.5 2391.8 L799.8 2389.9 L801.6 2391.7 L802.4 2391.6 L805.4 2391.5 L806.7 2388.9 L807.8 2391.5 L808.1 2389.5 L810 2390.3 L811.9 2390 L814.1 2388.3 L814.1 2388.6 L815.7 2388.2 L818.9 2390.8 L818.6 2389.4 L820.6 2388.6 L822.1 2389.6 L824.1 2388.5 L824.8 2388.2 L826.2 2388.8 L828.8 2388.1 L829 2387 L831 2388.2 L833.2 2387 L834.7 2387.5 L835.4 2386.3 L836.9 2387.2 L838.2 2386.8 L839.7 2384.7 L841.3 2386.1 L841.8 2384.7 L843.9 2386.1 L846.4 2383.8 L847.7 2385.1 L847.9 2383.4 L849 2384.5 L851.5 2384.4 L853.2 2383.2 L854.5 2382.4 L854.7 2382.2 L855.9 2380 L858.8 2379.2 L859 2379.1 L862 2379.2 L861.8 2381.7 L863.5 2381.5 L866.1 2381.2 L868.2 2379.8 L869.4 2377.1 L870.8 2378.9 L872.2 2376.8 L873.7 2380.2 L873.9 2377.2 L876.4 2379.2 L877.2 2376 L878.7 2377.7 L881.2 2376.4 L881.9 2376.1 L883.3 2376.5 L884.2 2377.2 L887.4 2377.1 L888.3 2376.2 L889.6 2379.4 L891 2378.5 L892 2379.5 L894.3 2377.4 L894.1 2380.6 L897.2 2379 L897.8 2379.6 L898.8 2376.9 L900.3 2378.1 L902 2375.9 L904.3 2379 L905 2377.3 L906.7 2377.6 L908.6 2374.3 L909.3 2372.6 L911.3 2374.1 L912.1 2373.6 L913.8 2375.3 L914.9 2376 L917 2373.7 L918.4 2374.5 L920.5 2372.8 L921.3 2373.2 L923.4 2371.3 L924.6 2373.7 L925.5 2369.7 L926.5 2371.8 L928.8 2372.7 L930.5 2368.7 L930.6 2368.4 L932.1 2370.3 L934.8 2370.9 L935 2370.4 L936.6 2367.8 L938.8 2365.8 L939 2369.2 L940.9 2366.6 L943 2367.9 L943.3 2366 L945.7 2366.5 L946.7 2366.8 L949.7 2365.6 L950.4 2364 L951.3 2366.5 L952.5 2367.4 L955.6 2363.2 L957.1 2364.4 L958.3 2366.1 L958.8 2365.5 L961 2365.9 L961.8 2365.4 L964.6 2364.8 L965.3 2361.7 L966.7 2362.7 L968.6 2364.1 L969.8 2361.4 L971.5 2363.4 L972 2364.3 L974.5 2360.2 L976.5 2360 L976.8 2362.6 L978.8 2361.5 L980.4 2360.7 L981.2 2359 L982.2 2361.4 L985.1 2360.2 L986.6 2359 L987.1 2358.8 L989.8 2356.8 L990.6 2357.5 L992.6 2357.8 L993.2 2357.7 L995.1 2359.3 L996.2 2359.3 L997.2 2356.2 L998.7 2355.1 L1001.5 2357.8 L1001.7 2354.7 L1003.6 2357.2 L1005.8 2356.8 L1006.8 2353.5 L1007.8 2353.4 L1009.5 2354.9 L1010.3 2352.9 L1012.9 2351.5 L1014.3 2355.4 L1016.1 2352.5 L1016.7 2353.2 L1018.3 2354.8 L1019.8 2351.1 L1021.6 2351.6 L1022.5 2352.5 L1022.7 2352.4 L1025.5 2350.6 L1026.6 2350.1 L1027.4 2350.1 L1028.5 2349.6 L1031.1 2349 L1032.4 2351.2 L1034.5 2346.7 L1035.7 2348.8 L1035.6 2347.1 L1037.4 2345.3 L1039.4 2349.2 L1040.4 2348.6 L1042.6 2344.6 L1044.4 2346.5 L1045.9 2346.8 L1047 2344.5 L1048.5 2347.1 L1050.1 2344.3 L1051.3 2344.2 L1051.4 2341.6 L1052.8 2342 L1054.4 2343.2 L1056.9 2343 L1057.7 2343.2 L1058.9 2341.9 L1061.3 2341.3 L1061.7 2343.5 L1064.2 2340.5 L1065 2341 L1067 2339.2 L1067.3 2338.8 L1070.3 2338.2 L1071.2 2338.2 L1072.2 2337.8 L1074.1 2337.4 L1074.8 2336.9 L1076.6 2338.5 L1077.9 2335.8 L1080.1 2337.4 L1082.1 2335.4 L1083 2336.8 L1083.8 2339.3 L1085.6 2334.7 L1087.7 2334.7 L1089.4 2335.3 L1089.8 2333 L1092.3 2333.3 L1093.8 2333.4 L1095.4 2331.8 L1095.4 2330.8 L1097.8 2331.7 L1098.2 2328.2 L1100.2 2331.8 L1101.4 2326.1 L1101.8 2326.2 L1103.5 2325.5 L1104.8 2328.2 L1108 2325.6 L1109.6 2326.6 L1110.8 2328.4 L1112.5 2323.6 L1112.7 2326.1 L1115.5 2323.2 L1115.7 2326.6 L1116.8 2323.9 L1118.8 2325 L1121.4 2322.1 L1122.4 2324.6 L1124 2323.3 L1125.6 2322 L1126 2321 L1128.2 2321.9 L1128.6 2320 L1130.9 2321.8 L1132.3 2320.4 L1133.3 2318.8 L1135.2 2317.8 L1136.1 2321.2 L1138 2317.5 L1138.5 2320.9 L1140.7 2320.7 L1142.6 2318.2 L1144.1 2319.3 L1144.4 2317.1 L1145.3 2316.9 L1148.5 2315.1 L1149.1 2314.8 L1149.6 2316.9 L1151.3 2313.4 L1152.6 2315.9 L1154.9 2312.3 L1155.6 2316.5 L1157 2314 L1158.8 2314.6 L1160.6 2314.1 L1161.9 2310.6 L1162.6 2309.6 L1165.3 2309.3 L1165.1 2313 L1166.9 2312.2 L1168.1 2309.5 L1169.8 2310.8 L1172 2309.4 L1173.7 2310.1 L1174.3 2308.2 L1175.9 2305.3 L1178.1 2307.2 L1179.5 2304.7 L1180.2 2305.3 L1181.8 2302.6 L1182.3 2303.9 L1183 2303.5 L1185.6 2302.1 L1186.6 2302.3 L1187 2300.3 L1189.8 2299.4 L1189.9 2297.4 L1190.8 2297.1 L1193.4 2299.2 L1194.5 2299.7 L1195.5 2299.3 L1196.9 2296.6 L1199.2 2298.9 L1200.7 2296.6 L1201.8 2296.1 L1203.8 2298.5 L1203.9 2298.4 L1205.2 2294.1 L1207.7 2294.9 L1208.8 2296.5 L1209.2 2296.4 L1211.1 2294.2 L1212.6 2295.2 L1214.7 2292.3 L1214.8 2291.7 L1216.7 2290 L1217.6 2292.8 L1220 2293.3 L1222 2292.2 L1222.1 2288 L1223.3 2288.9 L1225.1 2288.6 L1226.1 2289.6 L1227.3 2287 L1229.9 2288.1 L1230.1 2284.7 L1232.4 2282.9 L1232.4 2284.9 L1234.6 2282.5 L1235 2282 L1237.8 2282.7 L1239.6 2283.7 L1240.8 2279.1 L1240.5 2278.1 L1242.2 2278.9 L1242.7 2279 L1244 2277 L1245.6 2278.6 L1247.2 2275 L1247.7 2274.9 L1250.1 2275.3 L1251.9 2275.1 L1251.8 2270.9 L1254.1 2273.2 L1255 2272.9 L1256.4 2269.6 L1257 2267.8 L1259.3 2271.6 L1261.2 2269 L1262.1 2270.7 L1263.7 2268.6 L1264.3 2267.6 L1265.1 2265.4 L1267.5 2268.9 L1268.6 2265.4 L1269.6 2265.2 L1272 2264.7 L1273.7 2262.7 L1273.8 2264 L1275.4 2265.2 L1277.7 2265.1 L1278.7 2260.1 L1280 2262.1 L1281.3 2260.3 L1283.2 2263 L1283.4 2261.2 L1285.3 2260 L1287.8 2261.7 L1288.7 2257.4 L1290.7 2256.8 L1291 2259.5 L1292.3 2256.3 L1295 2259.1 L1295.2 2255.9 L1296.5 2254.1 L1297.9 2257.8 L1299 2253.5 L1300.6 2252.3 L1302.7 2255.1 L1304.8 2254.1 L1306.2 2250.4 L1306.5 2254.8 L1307.5 2250.7 L1309.8 2250.2 L1311.3 2248.5 L1312.1 2252.8 L1313.4 2252 L1314.8 2252 L1317.3 2249.7 L1317.6 2246 L1320.3 2246.2 L1320.6 2249.1 L1323.4 2244.4 L1325 2246.6 L1325.2 2243.7 L1326.7 2248.1 L1327.9 2242.9 L1328.6 2241.7 L1330 2245 L1330.5 2239.8 L1333.2 2243.2 L1334.3 2237.9 L1334 2240.8 L1335.3 2238.2 L1335.9 2233.2 L1337 2236.3 L1338.9 2234.1 L1339.2 2232.8 L1340.2 2231.7 L1342.3 2229.2 L1343.2 2232.9 L1345.1 2227.9 L1346.7 2231.2 L1346.5 2227.2 L1348 2225.4 L1350.9 2226.9 L1352.1 2224.6 L1351.7 2228.5 L1354.7 2228.7 L1355.8 2225.3 L1357.4 2222.1 L1358.3 2223.6 L1358.7 2223.7 L1360.2 2222.3 L1361.4 2220.3 L1362.6 2221.2 L1365 2222.4 L1365.9 2220.9 L1365.9 2220.9 L1367.1 2214.7 L1368.7 2217.7 L1369.7 2216.5 L1370.9 2217.9 L1372.5 2214.1 L1374 2216 L1376.2 2213.1 L1376.4 2213 L1376.9 2211.1 L1379.8 2212.8 L1379.5 2212.6 L1381.5 2212.8 L1382.7 2207.1 L1384.5 2211.4 L1385.7 2211.2 L1387.7 2207.7 L1388.4 2208.6 L1390 2207.5 L1391.9 2210.8 L1393.2 2205.8 L1394 2207.2 L1396.2 2205.5 L1396.6 2206.6 L1398.3 2203.7 L1400.2 2209 L1401.5 2206.9 L1403.5 2206.8 L1405 2203.2 L1405.9 2200.1 L1407.7 2201 L1408.4 2204.2 L1409.5 2198.8 L1412 2201.3 L1412.1 2196.7 L1414.1 2196.1 L1416.6 2196.9 L1416.9 2197.9 L1418.9 2197.8 L1420.7 2199 L1421.8 2194.4 L1424.4 2198.4 L1424.1 2196.1 L1426.9 2199.7 L1427 2191.9 L1429.4 2194.6 L1431.7 2197.2 L1431.6 2193 L1433.2 2195.5 L1433.4 2190.7 L1434.3 2191.6 L1435.2 2192.8 L1437.2 2189 L1437.4 2185.3 L1439.2 2189.1 L1440.4 2183.6 L1442.3 2185.5 L1442.4 2180.9 L1443 2185.3 L1443.7 2181.4 L1445.8 2179 L1447.1 2182.2 L1448.3 2179.9 L1448.2 2173.7 L1449.8 2174.8 L1450.6 2178.4 L1451.8 2177.2 L1454.4 2170.8 L1455.6 2172.1 L1455.4 2169.6 L1456.2 2171.3 L1458.1 2173.3 L1460.2 2166 L1460.8 2168.3 L1461.9 2166.7 L1463.5 2169.8 L1465.2 2164.6 L1466.4 2166.9 L1468.6 2164.8 L1470.4 2164.1 L1471.8 2166.9 L1471.9 2167.2 L1473.4 2164.5 L1474.9 2164.3 L1475.7 2158.5 L1477.4 2164.4 L1477.9 2161.1 L1478.5 2162.8 L1480.4 2156.2 L1481.7 2161.7 L1482.3 2161.7 L1484 2154.6 L1486 2155.8 L1487.5 2157.7 L1487.8 2157.1 L1490.7 2156.5 L1491.6 2159.7 L1492.9 2156.3 L1494.3 2158.2 L1494.6 2150.8 L1496.8 2153.8 L1497 2155.8 L1499.3 2151.7 L1500.6 2153.3 L1501.2 2147.5 L1500.9 2149.9 L1503.4 2146 L1504 2146.9 L1504.7 2147.1 L1506.4 2143.3 L1506.6 2143.8 L1508.4 2144.5 L1509.4 2140.7 L1510.8 2140.1 L1512.8 2136.5 L1513.1 2139.1 L1514.7 2138.5 L1516 2134 L1518.1 2140.8 L1520 2136.2 L1520.4 2131.4 L1521.5 2133 L1524.2 2130.5 L1525.5 2133.2 L1525.8 2130.5 L1528.2 2129.2 L1528.8 2131.5 L1529.4 2128.2 L1532.3 2132.8 L1532.8 2132.9 L1532.6 2129.9 L1535 2124.3 L1535.4 2130.4 L1536.2 2127.3 L1537 2125.4 L1538.2 2122.8 L1539.5 2125.2 L1541.3 2120.6 L1542.1 2118.7 L1543.3 2115.9 L1543.8 2117.8 L1544.4 2111.4 L1544.9 2116 L1546 2115.9 L1547.5 2116.6 L1549.2 2113.2 L1549.2 2105.3 L1550.5 2111 L1552.6 2105.3 L1552.5 2112.7 L1555 2107.4 L1556.4 2103.8 L1557.3 2108.6 L1558.8 2103.2 L1559.3 2107.4 L1562.1 2101.7 L1561.7 2100.3 L1564.6 2102.6 L1565.3 2107.9 L1567 2099.6 L1568.5 2096 L1569.1 2102.4 L1570.2 2096.1 L1572.3 2099.8 L1574.6 2098.1 L1575.6 2101.8 L1577 2103.1 L1578.1 2102.5 L1578.5 2104.5 L1581.1 2103.8 L1581.3 2105.1 L1582.4 2104.5 L1584.7 2107.6 L1586.2 2105.3 L1586.4 2102.9 L1588.4 2105.2 L1590 2106.8 L1591.6 2111.3 L1592.6 2113.6 L1593.5 2111 L1594.2 2107.7 L1596.4 2113.4 L1596 2117.1 L1598 2112.4 L1598.8 2105.5 L1600.9 2104.8 L1600.7 2113.2 L1601.2 2106.2 L1603 2102.1 L1605.3 2103.5 L1605 2103.8 L1606.5 2106.1 L1609.7 2108 L1609.6 2104.8 L1611.6 2102 L1613.1 2099.5 L1614.3 2102.9 L1615 2105.7 L1615.8 2104.4 L1617 2092.4 L1618.9 2096.6 L1619.9 2095 L1620.4 2088.5 L1621.4 2092.5 L1622.8 2084.9 L1621.9 2091.9 L1624.5 2087.4 L1624.9 2087.9 L1625.5 2085.7 L1627.1 2079.2 L1627.7 2087.1 L1628.8 2082.8 L1630 2080.3 L1632 2084.2 L1633.8 2079.8 L1633.5 2077 L1634.4 2074.8 L1636.7 2078.5 L1637.2 2072 L1638.1 2070.9 L1640.2 2071.4 L1642.3 2074.9 L1642.5 2072.6 L1643.3 2076.1 L1646 2070.7 L1647.3 2069 L1647.6 2067.8 L1648.9 2072.3 L1651.1 2073.5 L1651.5 2074.3 L1653.8 2069.4 L1655.3 2070.4 L1656.2 2070.2 L1658.6 2074.8 L1660.6 2068 L1662.1 2076.6 L1663.2 2079.4 L1663.1 2075.4 L1665.6 2065.1 L1666 2075.4 L1666.4 2073 L1668.6 2065.9 L1668 2061.6 L1670.4 2063.3 L1670.4 2062.4 L1672.6 2058.5 L1671.8 2067.2 L1673.3 2058 L1675.7 2055.3 L1674.7 2062.6 L1675.8 2051.8 L1678 2050.5 L1678.7 2050.7 L1678.3 2047.7 L1679.6 2051.3 L1680.1 2049.3 L1680.7 2052.7 L1682.8 2050.2 L1683.9 2039.4 L1684.1 2040.6 L1685.2 2051 L1688 2049.4 L1688.7 2036.8 L1689.8 2035.1 L1692 2037.4 L1692.1 2046.8 L1693.3 2045.6 L1694.7 2042.7 L1695.5 2047.1 L1697.3 2039.7 L1699 2044.3 L1699.3 2038.1 L1701.2 2037.4 L1703 2043.5 L1702.7 2044.3 L1704 2043.5 L1706.2 2044.6 L1707.2 2042 L1708.9 2050.6 L1710.1 2050.1 L1711.6 2036.9 L1712.3 2051.1 L1714 2042.8 L1715.1 2053.9 L1715.9 2044.8 L1717 2038.2 L1718.4 2049.8 L1719.3 2050.4 L1720.3 2057.8 L1720.8 2065.4 L1721.7 2064.1 L1723.2 2062.4 L1724.8 2044.5 L1726.7 2063.6 L1728.7 2064.7 L1730.3 2042.9 L1730.5 2044 L1732.6 2053.2 L1733.3 2061.5 L1734.6 2057 L1735.1 2052.1 L1734.2 2060.6 L1734.9 2036.2 L1737.2 2040.5 L1737.5 2031.8 L1737.3 2050.7 L1737.7 2043.4 L1740.2 2033.2 L1740.4 2048 L1740.9 2047.4 L1741.8 2023 L1741.5 2037.9 L1743.7 2026.6 L1743.7 2022.5 L1744.9 2031.2 L1745.5 2038 L1746 2039.7 L1748.6 2043.7 L1748.8 2022.4 L1749.9 2044.4 L1751.7 2026.5 L1753.3 2036.5 L1754.3 2023.7 L1756.6 2038.2 L1757.1 2013.8 L1758.9 2037.4 L1758.8 2027.7 L1760.2 2030 L1759.3 2020.1 L1760.1 2038.4 L1760.7 2051.5 L1761.9 2036.3 L1762.5 2042.5 L1763 2040.2 L1763.3 2041.4 L1765.2 2031.9 L1766.4 2036.1 L1767.8 2029.1 L1768.3 2042.3 L1770.1 2034.7 L1770.4 2033 L1772.3 2048.7 L1772.5 2035.8 L1774.1 2062.9 L1775.9 2050.3 L1776.9 2054.1 L1779.2 2055.1 L1778.9 2047.9 L1781.1 2035.1 L1783 2045.1 L1783.3 2056.2 L1785.1 2052.4 L1786.9 2053.8 L1786.4 2037 L1787.4 2045.8 L1787.9 2043.8 L1787.3 2031.9 L1788.2 2032.4 L1790.1 2047.6 L1789.4 2050.6 L1790.7 2027.2 L1791.4 2031.5 L1792.5 2027.1 L1791.6 2029.4 L1794 2049.4 L1794.7 2027.2 L1795.7 2046.7 L1796.2 2054.7 L1799 2055.7 L1800 2045.7 L1801.5 2035 L1801.1 2031.4 L1801.9 2055.6 L1802.7 2055.1 L1804.2 2060.9 L1805.9 2055.6 L1807 2034.9 L1806.8 2047 L1808.1 2058 L1810 2061.3 L1811 2060.8 L1810.8 2055.8 L1812.5 2066.6 L1812.7 2053.1 L1813.8 2050.4 L1814.9 2044.6 L1815 2061 L1814.7 2064.8 L1815.8 2078 L1817.2 2067.8 L1817.8 2078 L1817 2077.5 L1818.9 2083.6 L1819.3 2066.9 L1819.3 2075.6 L1820.4 2079.5 L1822.2 2082.3 L1822.9 2068.2 L1825 2079.3 L1825.1 2077.3 L1826.3 2080.5 L1827.7 2069.8 L1829.9 2084.7 L1830.8 2067.6 L1830.9 2078.3 L1833.4 2075.2 L1833.5 2075.8 L1835.4 2066.2 L1836.8 2067 L1838.2 2073.2 L1839.4 2059.3 L1839.1 2080.2 L1839.8 2073 L1840.7 2061.6 L1841.1 2076.6 L1841.2 2070.7 L1841.8 2067.9 L1842.1 2072.2 L1843.4 2085.8 L1843 2085.9 L1843.4 2082.1 L1843.6 2090.6 L1845.4 2089.6 L1844.7 2092 L1845.2 2087.7 L1846.8 2078.2 L1847.3 2096.7 L1848.4 2086 L1849.4 2088.1 L1850.2 2090.2 L1849.3 2103 L1850 2090 L1852.1 2088.7 L1852.3 2105 L1853.1 2096.2 L1854.2 2107.2 L1854.5 2104.6 L1854.7 2101.6 L1857.2 2113.7 L1856.4 2099 L1858 2111.7 L1859.1 2100 L1861.3 2100.8 L1862.9 2107.6 L1863.8 2116 L1863.5 2116.4 L1865 2106.2 L1865.4 2116.9 L1867.5 2110 L1869.2 2108.9 L1869.1 2108.1 L1869.7 2125.4 L1870.8 2112.1 L1871 2123.2 L1871.9 2129.4 L1872.2 2130.4 L1874.1 2130.8 L1874.3 2117.1 L1874.7 2129.6 L1875.2 2120.6 L1877 2137.4 L1877.5 2138 L1877.2 2140.2 L1877.8 2135.3 L1877.6 2126.1 L1877.2 2132 L1878.3 2130.9 L1879.6 2141.4 L1879.5 2149.2 L1878.8 2150.5 L1880.6 2139.5 L1879.3 2151.6 L1881.3 2153 L1880.9 2150.4 L1880.8 2144.5 L1881.9 2156.1 L1881.8 2161.1 L1882.2 2163.3 L1883.1 2161.7 L1884.8 2165.8 L1884.6 2162.1 L1884.8 2166.2 L1884.9 2168.6 L1886.4 2153.6 L1887.5 2160.1 L1886.3 2160.4 L1886.7 2162.3 L1888.5 2177.9 L1888.8 2176.6 L1889.7 2175.3 L1889.3 2167.4 L1889.3 2174.8 L1889.8 2180.1 L1890.5 2178.4 L1891.4 2180.8 L1891 2174.9 L1892.6 2175.5 L1893 2192 L1892.8 2193.4 L1893.7 2194.5 L1894 2192.1 L1894.8 2182.5 L1894.9 2191.6 L1895.2 2194.7 L1896.8 2198.7 L1897.2 2186.9 L1897.6 2197.9 L1898.7 2186.7 L1897.8 2207.4 L1898.8 2203.3 L1899.9 2198.4 L1900.2 2203 L1902 2203.7 L1901.9 2200.5 L1902.1 2208 L1902.4 2214.9 L1901.4 2218.1 L1902.8 2205.4 L1902.8 2203.5 L1902.7 2219.8 L1904 2221.8 L1903.2 2208.1 L1903.9 2217.2 L1904.9 2214.7 L1905.3 2221.9 L1905.2 2227.3 L1905.6 2224.8 L1906.7 2215.2 L1908.1 2226.1 L1909.2 2224.6 L1910.6 2234.1 L1909.9 2219.9 L1911.8 2229.5 L1910.4 2226.3 L1911.9 2227.7 L1911.5 2239.2 L1911.8 2240.2 L1913.3 2244.5 L1912.9 2242.6 L1912.6 2244.4 L1913.5 2244.8 L1913.5 2249.5 L1913.2 2250.2 L1915.1 2238.1 L1913.9 2258.6 L1913.9 2256.7 L1915.1 2243.2 L1915.5 2243.5 L1916.3 2250.8 L1916.7 2264.2 L1915.4 2255.8 L1915.8 2264.3 L1915.9 2252.1 L1916.3 2269.3 L1916.8 2260.1 L1917.5 2266.1 L1917.7 2275.5 L1917.9 2267.5 L1919.1 2264.4 L1918 2277.8 L1918.5 2280.5 L1919.7 2271.7 L1918.9 2267.8 L1920.2 2276.2 L1919.4 2272.4 L1919.3 2287.9 L1919.4 2283.1" fill="none" stroke="#008000" stroke-width="7.5" stroke-linejoin="round" stroke-linecap="round" />
<path d="M424.3 1761.1 L427.9 1732.7 L433.9 1702.8 L439.9 1672.9 L447.4 1643 L454.8 1613.1 L463.8 1583.2 L472.8 1559.3 L481.7 1544.4 L496.7 1526.4 L511.6 1511.5 L529.5 1496.6 L550.5 1480.1 L571.4 1465.2 L595.3 1448.7 L619.2 1433.8 L640.1 1421.8 L658.1 1414.4 L673 1412.3 L687.9 1415.3 L699.9 1421.8 L708.9 1432.3 L717.8 1448.7 L725.3 1469.7 L731.3 1493.6 L735.8 1517.5 L740.2 1547.4 L744.1 1583.2 L747.7 1619.1 L750.7 1655 L753.7 1693.8 L756.7 1738.6 L759.1 1783.5 L761.5 1828.3 L766.2 1940.2 L768.6 2000 L771.6 2059.8 L774 2119.5 L776.1 2179.3 L777.6 2239.1 L779.1 2298.9 L780.6 2358.6 L782.1 2418.4 L784.2 2478.2 L785.7 2502.1" fill="none" stroke="#00f" stroke-width="7.0" stroke-linejoin="round" stroke-linecap="round" />
<path d="M795.5 2502.1 L795.5 2500.6 L795.5 2499.1 L795.6 2497.6 L795.6 2496.1 L795.6 2494.6 L795.6 2493.1 L795.7 2491.6 L795.7 2490.1 L795.7 2488.7 L795.8 2487.2 L795.8 2485.7 L795.8 2484.2 L795.8 2482.7 L795.9 2481.2 L795.9 2479.7 L795.9 2478.2 L795.9 2476.7 L796 2475.2 L796 2473.7 L796 2472.2 L796 2470.7 L796 2469.2 L796.1 2467.7 L796.1 2466.2 L796.1 2464.7 L796.1 2463.2 L796.2 2461.8 L796.2 2460.3 L796.2 2458.8 L796.2 2457.3 L796.3 2455.8 L796.3 2454.3 L796.3 2452.8 L796.4 2451.3 L796.4 2449.8 L796.4 2448.3 L796.4 2446.8 L796.5 2445.3 L796.5 2443.8 L796.5 2442.3 L796.6 2440.8 L796.6 2439.3 L796.7 2437.8 L796.7 2436.3 L796.7 2434.8 L796.8 2433.4 L796.8 2431.9 L796.9 2430.4 L796.9 2428.9 L796.9 2427.4 L797 2425.9 L797 2424.4 L797 2422.9 L797.1 2421.4 L797.1 2419.9 L797.1 2418.4 L797.2 2416.9 L797.2 2415.4 L797.3 2413.9 L797.3 2412.4 L797.3 2410.9 L797.4 2409.4 L797.4 2407.9 L797.4 2406.4 L797.5 2404.9 L797.5 2403.4 L797.6 2402 L797.6 2400.5 L797.6 2399 L797.7 2397.5 L797.7 2396 L797.8 2394.5 L797.8 2393 L797.8 2391.5 L797.9 2390 L797.9 2388.5 L798 2387 L798 2385.5 L798.1 2384 L798.1 2382.5 L798.2 2381 L798.2 2379.5 L798.3 2378 L798.4 2376.5 L798.4 2375.1 L798.5 2373.6 L798.5 2372.1 L798.6 2370.6 L798.7 2369.1 L798.7 2367.6 L798.8 2366.1 L798.8 2364.6 L798.9 2363.1 L799 2361.6 L799 2360.1 L799.1 2358.6 L799.1 2357.1 L799.2 2355.6 L799.2 2354.1 L799.3 2352.6 L799.4 2351.1 L799.4 2349.6 L799.5 2348.1 L799.5 2346.7 L799.6 2345.2 L799.6 2343.7 L799.7 2342.2 L799.8 2340.7 L799.8 2339.2 L799.9 2337.7 L799.9 2336.2 L800 2334.7 L800.1 2336.2 L800.3 2337.7 L800.4 2339.2 L800.5 2340.7 L800.7 2342.2 L800.8 2343.7 L800.9 2345.2 L801 2346.6 L801.2 2348.1 L801.3 2349.6 L801.4 2351.1 L801.6 2352.6 L801.7 2354.1 L801.8 2355.6 L802 2357.1 L802.1 2358.6 L802.2 2360.1 L802.2 2361.6 L802.3 2363.1 L802.4 2364.6 L802.4 2366.1 L802.5 2367.6 L802.6 2369.1 L802.7 2370.6 L802.7 2372.1 L802.8 2373.6 L802.9 2375.1 L802.9 2376.6 L803 2378.1 L803.1 2379.5 L803.1 2381 L803.2 2382.5 L803.3 2384 L803.3 2385.5 L803.4 2387 L803.5 2388.5 L803.6 2390 L803.6 2391.5 L803.7 2393 L803.8 2394.5 L803.8 2396 L803.9 2397.5 L804.2 2399 L804.6 2400.5 L804.9 2402 L805.2 2403.5 L805.5 2405 L805.9 2406.4 L806.2 2407.9 L806.5 2409.4 L806.8 2410.9 L807.2 2412.4 L807.5 2413.9 L808.8 2414.5 L810.1 2415.2 L811.4 2415.8 L812.6 2416.5 L813.9 2417.1 L815.2 2417.8 L816.5 2418.4 L818 2418.7 L819.5 2419 L821 2419.3 L822.5 2419.6 L823.9 2419.9 L825.4 2420.2 L826.9 2420.5 L828.4 2420.8 L829.9 2420.3 L831.4 2419.8 L832.9 2419.3 L834.4 2418.9 L835.9 2418.4 L837.4 2417.9 L838.9 2417.4 L840.4 2416.9 L841.6 2417.8 L842.8 2418.7 L843.9 2419.6 L845.1 2420.5 L846.3 2421.4 L847.6 2420.6 L849 2419.7 L850.3 2418.9 L851.6 2418.1 L853 2417.2 L854.3 2416.4 L855.6 2415.6 L857 2414.7 L858.3 2413.9 L859.5 2414.8 L860.7 2415.7 L861.9 2416.6 L863.1 2417.5 L864.3 2418.4 L865 2419.7 L865.8 2420.9 L866.5 2422.2 L867.3 2423.4 L868 2424.7 L868.8 2425.9 L869.5 2427.2 L870.2 2428.4 L871 2429.7 L871.7 2430.9 L872.5 2432.2 L873.2 2433.4 L874.5 2434.1 L875.7 2434.9 L877 2435.6 L878.2 2436.3 L879.5 2437.1 L880.9 2437.8 L882.3 2436.8 L883.3 2435.7 L882.9 2434.7 L885.8 2433.7 L886.8 2432.6 L886.9 2431.5 L888.1 2430.5 L888.1 2429.4 L889.7 2428.5 L891.7 2427.3 L892.5 2426.1 L892.9 2424.8 L892.4 2423.7 L893.6 2422.3 L895.9 2421.3 L895.2 2420 L896.5 2418.7 L896.5 2417.5 L898.3 2416.3 L899.4 2414.8 L899.1 2413.5 L899.4 2412.2 L900.8 2411.2 L901.2 2410 L903 2408.7 L905 2407.5 L905 2406.3 L907 2406.9 L908.7 2407.7 L909.4 2409 L909.1 2409.8 L911 2410.5 L911.4 2411 L912.9 2412.4 L914.1 2413.1 L916.8 2414.1 L917 2413 L918.7 2412.6 L919.2 2411.9 L922 2411.3 L921.9 2410.7 L923.3 2409.5 L925.8 2409.3 L926.6 2408.6 L928.4 2407.4 L929.3 2406.6 L930.2 2405.9 L932.8 2406 L933.1 2404.4 L936.1 2404.1 L936.2 2403.1 L937.8 2403 L938.8 2401.9 L939.3 2401.7 L940.6 2400.5 L943.4 2399.4 L944.5 2399.6 L945.6 2398.8 L945.8 2397.6 L947.2 2397.4 L948.8 2396.2 L951.5 2396 L952.7 2394.8 L953 2394.5 L954.3 2393.2 L955.4 2392.3 L956.6 2392.7 L959.1 2391.5 L959.4 2390.4 L959.9 2389.6 L962.8 2390.9 L963.4 2391.3 L965.7 2391.7 L967 2392.3 L967.9 2392.7 L969.3 2392.9 L971.7 2392.9 L972.3 2393 L974.5 2392.1 L974.7 2391.7 L976.7 2391.6 L978.6 2391.5 L980.4 2391.2 L981.3 2390.6 L983.6 2390.6 L984.3 2390.3 L986.9 2389.7 L988.6 2389.9 L989.1 2388.8 L989.9 2389.1 L992.9 2387.8 L993.7 2387.7 L995.2 2386 L996.7 2386.3 L997.8 2385.3 L999.1 2385.5 L1000.5 2384.8 L1000.7 2383 L1002.9 2383.5 L1003.8 2383.1 L1006 2381 L1007.1 2380.8 L1007.6 2380 L1009.6 2380.1 L1010.9 2379.6 L1012.9 2380.4 L1014.7 2380.8 L1015.5 2381.5 L1016.5 2380.2 L1018.5 2380.1 L1019.7 2381.1 L1021.7 2379 L1023.7 2379.1 L1025 2379.7 L1026.6 2381.2 L1028.6 2379.7 L1030.1 2380.2 L1030.7 2378.8 L1032.6 2379.9 L1034.8 2380.9 L1035.6 2379.1 L1037.7 2378.1 L1037.6 2379.6 L1039.9 2377.7 L1041.3 2379.2 L1042.1 2377.2 L1043.1 2376.2 L1045.9 2375.8 L1047.2 2376.8 L1047.7 2374.1 L1049.8 2374.2 L1050 2373 L1052.4 2372.9 L1052.3 2372.2 L1053.3 2372 L1055.3 2370.3 L1057.3 2371.3 L1057 2369.8 L1058.8 2370.4 L1061.4 2367.9 L1061.8 2367.3 L1064.8 2367.4 L1065.5 2367.7 L1067.1 2367.9 L1068.8 2365.9 L1070.3 2366.2 L1071.3 2366 L1072.3 2366.4 L1074.2 2365.5 L1076.2 2366 L1076.3 2364.5 L1078.6 2366.6 L1081 2365 L1080.8 2365.5 L1083.1 2364.5 L1085.1 2364.4 L1086.2 2365.1 L1087.5 2362.9 L1089.9 2361.8 L1090.3 2364 L1091.3 2363.7 L1094.1 2361.8 L1094.8 2362.9 L1097.5 2360.1 L1098.1 2361.4 L1099.7 2360.2 L1100.5 2360.9 L1103.3 2358.6 L1103.6 2361.3 L1106.2 2360.4 L1106.2 2360.3 L1109.6 2361.1 L1110.5 2357 L1112.3 2357.4 L1113.4 2360 L1115 2356.4 L1115.7 2359.3 L1116.9 2357.7 L1118.9 2355.6 L1120.7 2354.7 L1121.1 2355.5 L1122.4 2353.8 L1124.8 2356 L1126.8 2353.1 L1127.3 2353.3 L1129.1 2353.5 L1131.1 2352.6 L1130.8 2353.3 L1132.3 2352.6 L1134.4 2353.2 L1135.9 2351.6 L1136.7 2350.8 L1138.1 2351.1 L1140 2348.1 L1140.8 2349.7 L1143 2349.6 L1144.3 2352.1 L1144.3 2352.8 L1145.6 2351.2 L1147.9 2352.3 L1149.8 2353.9 L1150 2354.5 L1150.8 2353.6 L1152.2 2350.6 L1155.3 2352 L1155.2 2349.1 L1158.1 2350.6 L1159.1 2347.8 L1160.1 2348 L1160.7 2347.3 L1162.8 2346.7 L1163.7 2345.1 L1166.1 2346.9 L1167.5 2345.7 L1169.1 2345.8 L1170.1 2345.7 L1171.9 2344.7 L1172.1 2342.9 L1173.8 2342.7 L1176.7 2344.1 L1177.9 2341.9 L1178.8 2345.2 L1180.4 2342.6 L1181.3 2340.5 L1181.9 2340 L1183.6 2340.1 L1185.9 2338.5 L1185.9 2338.2 L1186.9 2337.5 L1188.3 2337.5 L1189.1 2338.5 L1191.1 2337.9 L1192.9 2336 L1193.7 2336.4 L1194.4 2334.7 L1196.1 2334.2 L1198.3 2331.6 L1198.7 2330.5 L1200.1 2330.2 L1201.8 2333.2 L1203.1 2330 L1204.6 2329.4 L1206.5 2330.6 L1206.8 2328.1 L1209.1 2330.4 L1210.4 2327.8 L1212.5 2325.6 L1212 2328.1 L1214 2324.6 L1215.7 2327.9 L1217 2324.8 L1217.5 2323.1 L1220.4 2324.3 L1221.9 2322 L1221.8 2321.4 L1223.5 2320.9 L1224.6 2321.6 L1226 2319.5 L1226.8 2322.5 L1228.5 2320 L1230.3 2319.4 L1231 2317.9 L1232.4 2318.1 L1235.4 2317.6 L1236.6 2315.4 L1236.3 2316 L1238.6 2315.5 L1239.7 2315.2 L1241.8 2315.8 L1242.3 2313.4 L1244.7 2311.9 L1244.6 2311.7 L1246 2313 L1248.8 2310.6 L1248.8 2309.2 L1250.4 2308.6 L1252.1 2310.1 L1253.1 2307.4 L1255.5 2307.1 L1256 2307.7 L1257.8 2306.7 L1259.4 2307.3 L1261.6 2307.9 L1263.3 2308 L1264.5 2307.4 L1265.4 2308.1 L1267.3 2308.3 L1269 2307 L1269.4 2306.8 L1271 2303.4 L1271.7 2302.8 L1273.5 2304.2 L1274.9 2301 L1277.2 2302.3 L1277.1 2299.6 L1278.7 2300.2 L1281.5 2301.9 L1282.4 2298.3 L1283.4 2298.1 L1284.7 2296.5 L1286.6 2299.4 L1288.4 2296.2 L1289.5 2296.2 L1291.4 2297 L1293.3 2298.1 L1293.2 2295.9 L1296.2 2296.2 L1296.8 2295.9 L1298.9 2297.5 L1299.5 2296.4 L1300.6 2291.7 L1302 2291.7 L1301.5 2292.7 L1302.5 2289.9 L1304.4 2289.9 L1305.7 2286.9 L1307 2286.6 L1309 2287 L1310.9 2286.2 L1311.6 2286 L1314.4 2288.2 L1315.5 2286.6 L1315.9 2283.9 L1318.1 2284.7 L1317.9 2282.7 L1319.4 2284.3 L1322.3 2281.4 L1323.5 2281.3 L1324.6 2282.9 L1325.8 2282 L1326.7 2277.8 L1328.3 2279.7 L1329 2278.3 L1330.6 2276.1 L1332 2277.1 L1333.7 2278 L1334.9 2278.8 L1337.1 2278 L1338.2 2276.3 L1339.2 2276.3 L1340.2 2274.8 L1342.2 2273.9 L1342.8 2271.3 L1343.6 2271.9 L1345.9 2273 L1347.4 2270.2 L1349.1 2269.3 L1349.9 2267.6 L1351.2 2269.7 L1352.9 2270 L1353.6 2269 L1354.9 2267.2 L1355.1 2266 L1357.7 2263.9 L1359.1 2264.6 L1359.1 2260.9 L1360.1 2260.6 L1361.8 2263.1 L1363.3 2260.6 L1363.4 2257 L1365.1 2258.1 L1366.2 2256.1 L1367.6 2254.2 L1367.5 2253.4 L1369.3 2255.5 L1369.4 2253.1 L1372.1 2251 L1372.1 2252.7 L1375.1 2254.2 L1376.3 2251.8 L1377.1 2252.4 L1379.5 2251.2 L1379.7 2252.7 L1382.5 2250.5 L1382.1 2250.1 L1384.3 2251.8 L1384.8 2248.9 L1386.8 2250.5 L1388.2 2250.1 L1388.1 2248 L1390.9 2249.8 L1391 2248.4 L1392.9 2248 L1393.3 2246 L1395.7 2244 L1395.4 2241.6 L1396.7 2240.3 L1398.1 2242.7 L1399.5 2243 L1402.2 2242.8 L1403.7 2241.8 L1405.4 2242.7 L1406.2 2242.2 L1406.6 2236.9 L1408 2237 L1410 2237.9 L1412.1 2239.1 L1412.2 2236.4 L1414.5 2235.4 L1414.9 2235.9 L1416.8 2235.6 L1418.4 2236.4 L1420.6 2230.5 L1421.6 2233.5 L1422 2229.1 L1423.7 2229.7 L1425.2 2232 L1425.5 2227.3 L1426.8 2228.7 L1428.4 2226.9 L1428.4 2224.5 L1430.6 2224.5 L1430 2222.9 L1431.7 2223.7 L1432.8 2220.6 L1434.2 2221.2 L1437.3 2220.9 L1437.5 2222.6 L1438.2 2218.4 L1441 2215.6 L1442.2 2217.1 L1442.1 2215.7 L1444.2 2215.9 L1445.7 2213.2 L1446.4 2218.3 L1448.1 2214.5 L1448.7 2212.6 L1451.8 2214.5 L1452.2 2209.9 L1453.3 2213.8 L1454.7 2212 L1457 2212 L1457.9 2207.7 L1458.1 2212.1 L1460.3 2212.4 L1462.6 2212.3 L1463.1 2212.5 L1465.3 2211.4 L1465.5 2210.4 L1467.5 2211.3 L1470.1 2205.9 L1470 2205.2 L1471.1 2204.2 L1472.5 2202 L1472.6 2203.1 L1473.4 2201.5 L1476.1 2203.7 L1475.7 2196.8 L1478 2202 L1478.6 2195.4 L1478.9 2199.6 L1481.3 2192.4 L1480.8 2194 L1482 2195.1 L1483.2 2194.2 L1484.1 2191.9 L1487.1 2192.6 L1486.6 2188 L1489.1 2189.3 L1489.8 2189.5 L1491.6 2192.3 L1492.2 2189 L1493.6 2188.4 L1495.9 2184.9 L1496.6 2188 L1496.8 2187.5 L1498.8 2184.7 L1500.4 2185.8 L1500.5 2182.8 L1501.7 2181 L1503.5 2177.4 L1504.6 2179.5 L1506.5 2182 L1507.1 2178.2 L1509.1 2180.3 L1510.9 2179.8 L1510.9 2173 L1513.5 2171.4 L1513.8 2175.4 L1515.3 2172 L1517.3 2170.4 L1517.9 2173.4 L1518.4 2169 L1520.4 2169.8 L1521.1 2168.1 L1522.2 2164.8 L1524.1 2164.7 L1526.7 2165.1 L1526.7 2168.5 L1529 2164 L1530.6 2166.3 L1531.1 2165.8 L1532 2162.1 L1534.4 2162.5 L1535.7 2159.6 L1535.3 2157.8 L1537.7 2160.8 L1537.5 2155.9 L1540.3 2158.5 L1541.6 2154.1 L1542.2 2153.7 L1543.7 2156.7 L1544.6 2152.7 L1546.5 2151 L1546 2154.8 L1547.4 2149.3 L1549.4 2153.2 L1551.6 2153.2 L1551.3 2151.9 L1554.1 2147.1 L1555.3 2147.6 L1555.7 2144.9 L1557.9 2148.3 L1559.5 2147.3 L1559.3 2144.6 L1560.9 2149.8 L1562.1 2142.2 L1563.8 2141.4 L1565.3 2145.1 L1567.1 2140.8 L1567.4 2142.7 L1569.9 2141.7 L1570.8 2144.6 L1571.2 2138.4 L1573.1 2139.7 L1575.1 2139 L1575.8 2136.9 L1577.3 2139.5 L1577.5 2132.5 L1578.6 2133.7 L1581.4 2132.6 L1582.3 2135.5 L1584.5 2130.7 L1585.6 2132.3 L1585.7 2134.5 L1588.7 2133.8 L1588.6 2136.9 L1590.8 2133.7 L1592.8 2129.6 L1593.5 2129.4 L1594.2 2126.2 L1596.8 2128.5 L1598.4 2124.6 L1598.6 2124.9 L1601.2 2129.6 L1602.5 2126.2 L1602.2 2124.6 L1603.8 2120.5 L1605.8 2122.4 L1606.2 2123.9 L1609.2 2127.4 L1609.6 2119 L1611.5 2118.6 L1612.4 2117.8 L1614.6 2121.5 L1614.9 2118.4 L1616.5 2125.1 L1617.7 2117.8 L1619.3 2124.6 L1620.5 2121.9 L1623 2118.9 L1624.2 2120.9 L1624.3 2116.3 L1627.3 2120.3 L1627.8 2124.7 L1629.4 2120.6 L1629.9 2121.8 L1630.8 2117.9 L1632.8 2118 L1632.6 2112.8 L1634.7 2116.9 L1634.5 2118.4 L1635.6 2108.9 L1636.5 2110.5 L1638.5 2113.4 L1638.6 2110.6 L1639.5 2108.2 L1640.8 2104.7 L1641.8 2107.6 L1643.3 2107.2 L1645 2104.6 L1647 2102.7 L1648.8 2106.3 L1649 2099.4 L1651.6 2096.5 L1651.7 2098.4 L1653.9 2094.5 L1654.4 2100 L1655.6 2091.1 L1657.1 2093.4 L1658.1 2096.1 L1658.3 2097 L1659.9 2090.7 L1661.1 2091.5 L1662.1 2091.7 L1663.4 2085.9 L1663.8 2083.1 L1665.4 2090.4 L1666.5 2081.5 L1666.9 2085.2 L1667.1 2081.1 L1669.8 2087.2 L1669.4 2085.9 L1671.6 2081.7 L1672.9 2080.7 L1673.6 2079 L1675.7 2085.9 L1677.2 2085.8 L1678 2084.3 L1680 2085.7 L1680.8 2088.9 L1681.6 2087 L1681.9 2081.1 L1684.5 2078.8 L1684.1 2076.2 L1686.6 2076.1 L1687.1 2078.8 L1688.8 2078.1 L1689.4 2071.9 L1691 2079.2 L1691.7 2078.9 L1692.9 2078.6 L1694.6 2078.6 L1694.1 2082.7 L1697.2 2075.8 L1696.6 2078.5 L1697.8 2079.9 L1699 2079.2 L1700 2082.7 L1701.6 2085.1 L1702.7 2077.4 L1704.8 2084.9 L1705.2 2075.9 L1705.6 2077.6 L1706.6 2071.5 L1707.6 2079.2 L1709.1 2079.2 L1710 2077 L1711.3 2077.8 L1712.5 2071.3 L1713.6 2073.6 L1715.3 2073.8 L1715.8 2066.9 L1716.9 2067.1 L1718.9 2072.9 L1719.2 2069.5 L1721.9 2066.9 L1721.7 2069.3 L1723.4 2064.6 L1724.5 2063.9 L1725.4 2070.1 L1726.5 2065.9 L1728.6 2078.7 L1730.4 2071.8 L1731.4 2067.4 L1730.7 2065.2 L1731.4 2071.3 L1733.6 2068.4 L1734.6 2066.7 L1735.6 2067.3 L1735.7 2060.5 L1736.4 2062.5 L1738.4 2060.5 L1738.7 2068.6 L1739.5 2065.7 L1741.1 2067.9 L1743.1 2061.3 L1744.7 2065.9 L1744.8 2070.5 L1746.7 2062.2 L1747.4 2058.6 L1748 2056.9 L1749.2 2066.5 L1750.2 2053.9 L1750.9 2058.3 L1751.7 2053 L1752.4 2057.9 L1753 2061.9 L1754.4 2057.9 L1755.2 2059.1 L1757.9 2060 L1757.3 2061.8 L1760 2059.5 L1759.8 2062.1 L1761.6 2066.4 L1761.5 2072.7 L1763 2071.4 L1764.6 2074.1 L1765.3 2065.9 L1767.2 2066.6 L1769.7 2070 L1770.2 2070.3 L1772.6 2071.3 L1773.3 2072.7 L1775 2069.7 L1776 2066.7 L1777.4 2076.9 L1778.5 2070.8 L1780.4 2074.3 L1780.9 2073 L1783.4 2068.3 L1783.5 2078.1 L1786.4 2069.8 L1786 2077.7 L1787.7 2078.7 L1788.5 2076.8 L1790 2075.8 L1792.4 2078.7 L1793.7 2081.9 L1794.1 2080.8 L1794.2 2074.8 L1795.4 2075.6 L1796 2077.9 L1797.4 2075.4 L1799.5 2076.3 L1799.4 2074 L1801.5 2063.4 L1802 2070.1 L1802.3 2065.5 L1802.6 2068.5 L1804.9 2069.6 L1804.4 2073.8 L1805.7 2075 L1806.5 2071.9 L1806.6 2080.3 L1808.7 2073.9 L1809.2 2079.7 L1809.8 2085.3 L1811 2078.5 L1810.8 2084 L1811.1 2089.7 L1811.5 2085 L1812.5 2086.6 L1812.7 2083.7 L1815.2 2092.8 L1814.3 2089.5 L1814.3 2086.2 L1815 2099.6 L1815.6 2090.8 L1815.4 2090.2 L1817.7 2100.4 L1817.9 2103.2 L1817.9 2096.4 L1817.1 2098 L1817.2 2098 L1818.9 2103.9 L1817.8 2102.6 L1820.3 2109.1 L1820.8 2106.1 L1822 2102.4 L1821.7 2101.3 L1822.3 2092.4 L1823.1 2097.1 L1823.6 2090.4 L1824.6 2093.3 L1826.8 2093.7 L1827.4 2096.2 L1827.7 2088.8 L1828.1 2087.4 L1829 2093.9 L1829.8 2084.2 L1829 2078.5 L1830.4 2080.3 L1829.7 2080 L1830.6 2077.1 L1832 2081.3 L1831.7 2082 L1831.7 2086.3 L1831.7 2082.9 L1833.1 2086.4 L1832.8 2090 L1833.3 2088.7 L1832.4 2082.6 L1833.3 2089.5 L1832.8 2093.9 L1833.5 2091.3 L1834 2098.3 L1833.7 2095.5 L1834.5 2098.4 L1834.1 2094.2 L1834.6 2100.5 L1835.2 2094.9 L1835 2102.8 L1834.6 2097.4 L1836.3 2097.6 L1835.6 2103.2 L1834.9 2104.3 L1835.3 2107.7 L1837.3 2104.2 L1836.7 2115 L1837.7 2106.2 L1837.4 2111.6 L1839.2 2115.5 L1838.4 2117.5 L1839.3 2113.8 L1840.1 2124 L1840.2 2122.7 L1841.3 2130.6 L1841.5 2117.9 L1841.7 2128.9 L1841.8 2130.7 L1842.4 2131 L1843.4 2133.3 L1844.5 2135.3 L1844.9 2136.6 L1844.8 2136.4 L1846.4 2129 L1847.5 2132.9 L1847.9 2138.9 L1849.2 2144 L1849.5 2148.1 L1850.3 2143.4 L1852.3 2140.8 L1852.4 2149.7 L1851.7 2145.5 L1853.5 2140.4 L1854.4 2144.3 L1853.8 2137 L1855.3 2139.2 L1856.7 2139.6 L1857 2126.2 L1856.9 2138.9 L1858.3 2137.8 L1857.5 2139.5 L1858.4 2139.3 L1859 2144 L1859.6 2147.3 L1859.6 2140.9 L1860.4 2143.5 L1859.6 2151.6 L1860.6 2145.4 L1860.5 2141.7 L1862.7 2144.6 L1861.9 2155 L1862.2 2154.1 L1863.4 2159.3 L1863.8 2151.1 L1863.9 2153.1 L1863.9 2150.3 L1864.7 2155 L1866.5 2167 L1866.3 2156.6 L1866.7 2164.4 L1867.6 2157.1 L1868.2 2161 L1868 2171.2 L1868.5 2166.6 L1870.4 2169.8 L1871.1 2167.3 L1871.6 2164 L1871.8 2172 L1870.3 2170.7 L1872.5 2180 L1872.3 2183.1 L1871.2 2175.9 L1872.4 2187.8 L1873.6 2176.1 L1874 2184.6 L1872.9 2177.8 L1873.5 2186.9 L1873.8 2184.7 L1875.1 2189.1 L1874.8 2193.2 L1875.6 2185.8 L1876.3 2181.3 L1879 2186.9 L1879.1 2186.6 L1880.3 2182.8 L1880.7 2174.9 L1881 2173.2 L1881.9 2172.7 L1882.6 2180.1 L1881.9 2181.1 L1882.6 2180.8 L1883.5 2187.2 L1882.1 2181.5 L1883.9 2191.9 L1882.9 2195.8 L1882.6 2200.4 L1884.6 2197.9 L1883 2195.1 L1884.7 2199.6 L1883.6 2194.6 L1883.5 2201.3 L1883.9 2201.4 L1885.5 2211.1 L1884.9 2210.5 L1884.4 2215 L1886 2208.1 L1886.2 2206.2 L1886.6 2208.2 L1886.7 2219 L1886.9 2218.5 L1885.3 2211.8 L1886.7 2224.8 L1886.9 2210.5 L1886.4 2217.5 L1886.2 2216.8 L1887.1 2221 L1886.8 2223.2 L1888.3 2228.1 L1888.1 2235.7 L1887 2233.3 L1887.4 2219.3 L1889 2228 L1889 2221.5 L1889.5 2219.1 L1888.7 2213.8 L1888.9 2209 L1890.8 2224.3 L1889.9 2213 L1890.1 2218.3 L1890.8 2205.6 L1891.9 2218.1 L1890.5 2207.9 L1891.1 2212.7 L1891.7 2207.9 L1891.9 2215.1 L1892.6 2214.4 L1893.2 2215.5 L1894.1 2216.4 L1894.1 2227 L1894 2222.1 L1894.6 2225.9 L1893.7 2221.8 L1894 2215.9 L1895.3 2223.1 L1894.8 2218.9 L1894.6 2232.5 L1895.6 2229.5 L1896.5 2239.9 L1896.8 2228.4 L1897.7 2229.2 L1897.2 2239.3 L1896.9 2245.4 L1897.8 2243.5 L1897.2 2247.3 L1897.8 2244.7 L1899 2240.6 L1898.3 2242.2 L1900.1 2249.9 L1899.9 2246.7 L1901 2239.6 L1900.7 2235.4 L1902.5 2243.3 L1904.1 2242.3 L1904.7 2247.9 L1904.8 2235.8 L1904.9 2236.4 L1905.7 2241.7 L1904.7 2250.5 L1905.7 2248.1 L1905.9 2246.5 L1906.2 2239 L1905.5 2252.3 L1906.1 2242.3 L1907.3 2255.6 L1907.4 2250.3 L1906.3 2258.8 L1906.7 2258.6 L1907.9 2252.6 L1906.7 2260.2 L1908.5 2261.6 L1909.1 2256.3 L1908.8 2261.8 L1908.7 2260.7 L1908.2 2266.9 L1909.1 2275.3 L1909.3 2269.1 L1909.6 2273.1 L1909.4 2267.8 L1910.1 2271.6 L1909 2269.1 L1909.9 2280.4 L1910.7 2278.3 L1911.2 2276.7" fill="none" stroke="#00f" stroke-width="7.5" stroke-linejoin="round" stroke-linecap="round" />
<path d="M1825.1 2084.2 L1832.4 2088 L1824.4 2089.4 L1836.8 2093.3 L1823.4 2095.9 L1839 2097.3 L1823.2 2100.5 L1843 2104.2 L1820.7 2104.8 L1844.5 2108.2 L1821.3 2110.7 L1848.4 2114.5 L1825.5 2115.6 L1849.2 2118.9 L1835 2122.1 L1852.8 2123.4 L1838.7 2127.6 L1861 2129.7 L1840.9 2132.1 L1866.3 2135 L1843.5 2136.4 L1868.5 2139 L1844.6 2141.9 L1872.8 2144.6 L1850.6 2148.1 L1873.9 2151 L1855.5 2153.2 L1878.9 2154.6 L1857.2 2157.9 L1880.9 2159.6 L1858.4 2163.8 L1886.8 2166 L1860.2 2168 L1891.5 2171.1 L1865 2172.8 L1898.5 2176.6 L1865.5 2179.2 L1901 2180.4 L1866.6 2184.8 L1904.9 2185.8 L1870.3 2189.4 L1905.3 2191.6 L1873.9 2194.8 L1908 2196.5 L1877.4 2199.7 L1909.2 2201.2 L1879.1 2205.1 L1907.8 2208.1 L1883.6 2209.3 L1908.1 2213.4 L1882.6 2214 L1909.7 2217.2 L1882.4 2219.3 L1911 2223.5 L1882.3 2225.6 L1918 2227.4 L1884.9 2230.2 L1919.1 2233.1 L1884.8 2235.8 L1918 2238.2 L1893.4 2241.4 L1920.2 2244 L1894.9 2245.5 L1922.2 2249.4 L1896.7 2252.3 L1921.2 2254.2 L1896 2257.3 L1923.5 2259 L1896.9 2261.6 L1923.4 2264.3 L1899.6 2267.1 L1924.1 2270.2 L1900.7 2272.9 L1925.3 2275 L1902.3 2276.9 L1925.3 2280.6 L1901.9 2282.4 L1925.7 2285 L1902.5 2287.2 L1931.5 2290.8 L1904.4 2293.5 L1932.3 2295.1 L1906.9 2298.2 L1931 2301.7 L1907.6 2302.8 L1932.4 2306 L1909.4 2308.5 L1932.5 2310.2 L1911.5 2314.3 L1931.6 2317.2 L1914.1 2318.8 L1930.2 2321.1 L1915.6 2324.9 L1931.2 2326.4 L1914.2 2329.5 L1941.9 2331.7 L1915.6 2335.5 L1940.5 2337.2 L1916.7 2339.4 L1941.3 2342.8 L1915.8 2344.4 L1941.3 2348.2 L1915 2350.6 L1942.4 2353.7 L1916.4 2355 L1939.6 2358.6 L1914.6 2360.1 L1941 2364.2 L1914.9 2364.9 L1941.6 2367.5 L1915.8 2371.1 L1941.2 2372.9 L1920.6 2376.8 L1941.2 2378.8 L1922.3 2381.8 L1939.8 2384.7 L1923.4 2386.3 L1942 2388.4 L1924.2 2390.9 L1940.8 2395.2 L1923.2 2396.8 L1941.2 2400.5" fill="none" stroke="#008000" stroke-width="7" stroke-linejoin="round" stroke-linecap="round" />
<path d="M1824.2 2080.1 L1823.1 2082.3 L1823.7 2085 L1828.2 2087.2 L1823.9 2090.2 L1831.3 2091.6 L1822.2 2095 L1832 2095.9 L1824.5 2100.1 L1834.2 2101.8 L1821.8 2103 L1836.3 2105.5 L1822.8 2108.3 L1838.7 2111.1 L1827.1 2114.3 L1838.6 2116.3 L1831.1 2118.7 L1840.1 2120.4 L1840.8 2124.2 L1843.5 2126 L1840.7 2127.5 L1852 2129.5 L1844.1 2132.6 L1854.9 2135 L1847.5 2138.3 L1860.7 2139.4 L1850.4 2142.3 L1860.8 2144.6 L1851.7 2147.5 L1864.2 2149.1 L1855.4 2151.7 L1866.4 2154.9 L1858.2 2156.3 L1871.8 2158.3 L1862.6 2161 L1875.2 2163.9 L1862.7 2166.9 L1881.7 2169.1 L1864.5 2171 L1886.6 2173.1 L1869 2176.6 L1890.3 2179.2 L1868.7 2180.6 L1891.1 2183.5 L1870.5 2186.6 L1895.4 2187.5 L1875.4 2190.1 L1897.5 2191.9 L1876.3 2195.4 L1898.2 2197.8 L1880 2199.9 L1896.5 2202.4 L1883.5 2205.5 L1899.3 2206.5 L1887 2210.2 L1899.6 2211.4 L1886.7 2215.3 L1900.2 2217.7 L1887.4 2219.4 L1900 2220.8 L1885.2 2224.9 L1907.6 2226.8 L1886.1 2229.4 L1907.5 2230.8 L1886.2 2234 L1909.9 2235.5 L1891.3 2239.1 L1909.2 2240.4 L1898.7 2242.6 L1911.9 2245.1 L1898.2 2247.1 L1912.3 2250.1 L1899.5 2252.1 L1912.3 2256 L1901.6 2257.9 L1911.8 2260.2 L1900 2261.5 L1914.3 2265.6 L1902.6 2268.1 L1914.8 2269.9 L1902.9 2272.5 L1914.4 2275.4 L1902.7 2276.9 L1913.6 2280 L1905.8 2282 L1914.3 2284.8 L1905.6 2286.8 L1920 2289.5 L1907 2291.8 L1922 2293.7 L1909.2 2295.8 L1923.2 2298.6 L1909.2 2301.1 L1922.2 2304 L1912.7 2305.4 L1924.5 2308.2 L1913.4 2311.1 L1928 2313.3 L1914 2315.4 L1928.4 2317.1 L1917.8 2320 L1929.6 2323.2 L1917.6 2323.8 L1932.1 2327.6 L1917.5 2328.9 L1939.8 2332.3 L1918.3 2335.2 L1941.5 2337.1 L1917.7 2339.1 L1940.1 2342.4 L1919.8 2343.8 L1940.8 2346 L1917.6 2348.8 L1940 2351.9 L1919.4 2354.5 L1941.7 2355.3 L1918.7 2358 L1941.9 2360.6 L1919.3 2363.2 L1941.6 2366.3 L1920.5 2367.9 L1942.3 2369.5 L1924.2 2371.9 L1940.4 2375.3 L1924.5 2378.2 L1942.4 2379.3 L1925.3 2381.4 L1940 2384.3 L1924.7 2386.3 L1940.6 2389.5 L1926.5 2392.3 L1940.1 2395.3 L1927.2 2396.2 L1941.1 2398.6 L1926.6 2401.5 L1940.4 2403.4 L1928.8 2406.1 L1940.4 2408.8 L1931.3 2411.7 L1941.3 2414.2 L1933 2415.2 L1939.7 2418.8 L1931.3 2420.7 L1940.6 2424 L1932.7 2425.7 L1939.9 2428.6 L1935 2430.3 L1940.5 2432.2 L1935 2435.8 L1940.6 2438 L1933.9 2440.8 L1939.6 2443.4 L1935.3 2445.4 L1941.5 2448 L1936.6 2449.3 L1942.3 2451.9 L1936.1 2454.9 L1941 2455.9 L1937.6 2458.3 L1940.1 2460.9 L1937.8 2464.6 L1942.1 2465.7 L1940.1 2469.2 L1940 2471.6 L1942.6 2473.6 L1939.7 2475.2 L1941.7 2478.5 L1941.6 2481.3 L1944.1 2483.2 L1940 2485.7 L1943.9 2487.8 L1940 2491.2 L1943.9 2493.5 L1939.6 2495.2 L1945.3 2497 L1940.9 2500" fill="none" stroke="#00f" stroke-width="7" stroke-linejoin="round" stroke-linecap="round" />
<path d="M1741.3 2005.4 L1742.9 2005.2 L1744.5 2004.3 L1746.1 2003.6 L1747.7 2003.1 L1749.3 2001.5 L1750.8 2001.1 L1752.4 2001.7 L1754 2000.9 L1755.6 2000.1 L1757.5 2000.7 L1759.4 2000.6 L1761.4 2001.2 L1763.3 2001.1 L1765.2 2001.9 L1767.1 2002.5 L1769 2002.4 L1770.9 2003.5 L1772.8 2002.4 L1774.7 2002.1 L1776.7 2002.8 L1778.6 2002.7 L1780.5 2002.7 L1782.4 2001.6 L1784.3 2001.8 L1786.2 2001.6 L1788.2 2001.1 L1790.1 2001.8 L1792 2001.8 L1793.9 2001.6 L1795.4 2002.1 L1796.9 2002.5 L1798.5 2003.7 L1800 2003.8 L1801.5 2004.7 L1803.4 2005.2 L1805.3 2005 L1807.3 2006 L1809.2 2005.8 L1811.1 2005.5 L1812.5 2006.8 L1813.9 2008.7 L1815.4 2009.8 L1816.8 2012.1 L1818 2012.7 L1819.1 2014.2 L1820.3 2016.4 L1821.4 2017.3 L1822.6 2019.7 L1824.2 2020.2 L1825.8 2021.4 L1827.3 2021.9 L1828.9 2022.5 L1830.5 2023.5 L1832.1 2023.9 L1833.7 2024.4 L1835.3 2025.4 L1836.9 2025.2 L1838.5 2026.3 L1840.1 2026.6 L1841.7 2026.4 L1842.8 2028.2 L1843.9 2029.1 L1845 2031.4 L1846.1 2032.2 L1847.2 2033.5 L1848.3 2035.3 L1849.4 2036.4 L1850.4 2038.4 L1851.3 2040.2 L1852.2 2041 L1853.2 2043.3 L1854.1 2043.9 L1855.1 2046 L1855.6 2048.3 L1856.2 2049.4 L1856.7 2050.9 L1857.3 2053 L1857.8 2054 L1858.4 2056.3 L1858.9 2057.6 L1859.7 2059.3 L1860.4 2060.2 L1861.2 2061.9 L1861.9 2063.6 L1862.7 2064.9 L1863.8 2067.1 L1864.9 2068.1 L1866 2069.4 L1867.1 2071.2 L1868.2 2072.6 L1869.3 2073.5 L1870.4 2075.3 L1871.4 2075.9 L1872.3 2077.8 L1873.2 2079.7 L1874.2 2080.6 L1875.1 2082.6 L1876.1 2084.6 L1876.9 2086 L1877.8 2087.5 L1878.6 2089.8 L1879.4 2091.3 L1880.2 2092.7 L1881.1 2094.2 L1881.9 2095.5 L1882.4 2097.1 L1883 2099 L1883.5 2101 L1884.1 2102.8 L1884.6 2104 L1885.2 2105.5 L1885.7 2107.8 L1886.2 2108.4 L1886.8 2111.1 L1887.3 2112.1 L1887.9 2113.6 L1888.4 2115.5 L1889 2116.8 L1889.5 2119.3 L1890 2120.4 L1890.5 2122.3 L1891 2123.2 L1891.5 2125.9 L1891.9 2127.4 L1892.4 2129.3 L1892.9 2130.2 L1893.4 2131.9 L1893.9 2133.5 L1894.5 2135 L1895 2136.5 L1895.6 2138.2 L1896.1 2139.8 L1896.7 2142.2 L1897.2 2143.2 L1897.7 2144.8 L1898.2 2147.4 L1898.6 2148.2 L1899.1 2149.7 L1899.6 2151.7 L1900 2154.2 L1900.5 2155 L1901 2156.4 L1901.5 2158.1 L1902 2160.6 L1902.4 2161.9 L1902.9 2163.1 L1903.4 2165.3 L1903.8 2166.9 L1904.3 2168.6 L1904.8 2170.7 L1905.3 2171.7 L1905.8 2173.7 L1906.3 2175.5 L1906.8 2177.4 L1907.2 2178.8 L1907.7 2181.2 L1908.2 2183.1 L1908.7 2183.9 L1909.2 2185.6 L1909.5 2187.5 L1909.7 2189.8 L1910 2191.9 L1910.3 2192.7 L1910.5 2195.1 L1910.8 2197.1 L1911.1 2198.4 L1911.3 2200.4 L1911.6 2202 L1912 2203.9 L1912.4 2206.3 L1912.8 2208.4 L1913.2 2209.9 L1913.7 2211.4 L1914.1 2213.2 L1914.5 2215.2 L1914.9 2216.4 L1915.6 2218.6 L1916.3 2220.8 L1917 2221.8 L1917.7 2223.4 L1918.4 2225.2 L1919.1 2227 L1919.8 2228.7 L1920.2 2230.8 L1920.5 2232.6 L1920.9 2234.2 L1921.2 2235.8 L1921.6 2237.4 L1921.9 2238.7 L1922.3 2241.5 L1922.6 2242.4 L1923 2244.2 L1923.4 2246.1 L1923.7 2248.7 L1924.1 2249.8 L1924.5 2251.8 L1924.8 2253.6 L1925.2 2255.7 L1925.6 2257.5 L1925.9 2259.4 L1926.3 2261 L1926.6 2263 L1926.8 2264.8 L1927.1 2265.8 L1927.4 2268.5 L1927.6 2270.5 L1927.9 2271.6 L1928.2 2274.1 L1928.4 2274.9 L1928.7 2277.7 L1929.2 2279.2 L1929.6 2280.3 L1930.1 2283.2 L1930.6 2284.3 L1931.1 2286.1 L1931.5 2287.8 L1932 2290.6 L1932.3 2291.8 L1932.7 2294.4 L1933 2295.3 L1933.4 2298 L1933.7 2299.7 L1934.1 2301.4 L1934.4 2303.3 L1934.9 2305.5 L1935.3 2307.2 L1935.8 2309.3 L1936.3 2311.2 L1936.8 2312.7 L1937.2 2314.2 L1937.7 2316.3 L1938 2317.9 L1938.4 2319.8 L1938.7 2321.7 L1939.1 2323.7 L1939.4 2325.1 L1939.8 2327.9 L1940.1 2329.4" fill="none" stroke="#f00" stroke-width="7.4" stroke-linejoin="round" stroke-linecap="round" />
</g>
<g id="arrow">
<path d="M1020.5 2198 L1058 2294" stroke="#000" stroke-width="2.6" fill="none"/>
<path d="M1064.7 2311 L1045.5 2286 L1063 2279.5 Z" fill="#000"/>
</g>
<g id="text" fill="#000">
<text transform="translate(398.2 1306.3) scale(1.0 1.06)" font-family="'Liberation Sans', Arial, Helvetica, sans-serif" font-size="75.3" text-anchor="end" >0.000</text>
<text transform="translate(398.2 1103.8) scale(1.0 1.06)" font-family="'Liberation Sans', Arial, Helvetica, sans-serif" font-size="75.3" text-anchor="end" >0.005</text>
<text transform="translate(398.2 901.3) scale(1.0 1.06)" font-family="'Liberation Sans', Arial, Helvetica, sans-serif" font-size="75.3" text-anchor="end" >0.010</text>
<text transform="translate(398.2 698.8) scale(1.0 1.06)" font-family="'Liberation Sans', Arial, Helvetica, sans-serif" font-size="75.3" text-anchor="end" >0.015</text>
<text transform="translate(398.2 496.3) scale(1.0 1.06)" font-family="'Liberation Sans', Arial, Helvetica, sans-serif" font-size="75.3" text-anchor="end" >0.020</text>
<text transform="translate(398.2 293.8) scale(1.0 1.06)" font-family="'Liberation Sans', Arial, Helvetica, sans-serif" font-size="75.3" text-anchor="end" >0.025</text>
<text transform="translate(398.2 91.3) scale(1.0 1.06)" font-family="'Liberation Sans', Arial, Helvetica, sans-serif" font-size="75.3" text-anchor="end" >0.030</text>
<text transform="translate(398.2 2519.3) scale(1.0 1.06)" font-family="'Liberation Sans', Arial, Helvetica, sans-serif" font-size="75.3" text-anchor="end" >0.00</text>
<text transform="translate(398.2 2316.6) scale(1.0 1.06)" font-family="'Liberation Sans', Arial, Helvetica, sans-serif" font-size="75.3" text-anchor="end" >0.01</text>
<text transform="translate(398.2 2113.9) scale(1.0 1.06)" font-family="'Liberation Sans', Arial, Helvetica, sans-serif" font-size="75.3" text-anchor="end" >0.02</text>
<text transform="translate(398.2 1911.2) scale(1.0 1.06)" font-family="'Liberation Sans', Arial, Helvetica, sans-serif" font-size="75.3" text-anchor="end" >0.03</text>
<text transform="translate(398.2 1708.5) scale(1.0 1.06)" font-family="'Liberation Sans', Arial, Helvetica, sans-serif" font-size="75.3" text-anchor="end" >0.04</text>
<text transform="translate(398.2 1505.8) scale(1.0 1.06)" font-family="'Liberation Sans', Arial, Helvetica, sans-serif" font-size="75.3" text-anchor="end" >0.05</text>
<text transform="translate(433.7 2568) scale(1.0 1.055)" font-family="'Liberation Sans', Arial, Helvetica, sans-serif" font-size="76.2" text-anchor="middle" >0</text>
<text transform="translate(732.2 2573) scale(1.0 1.055)" font-family="'Liberation Sans', Arial, Helvetica, sans-serif" font-size="76.2" text-anchor="middle" >20</text>
<text transform="translate(1053.7 2573.3) scale(1.0 1.055)" font-family="'Liberation Sans', Arial, Helvetica, sans-serif" font-size="76.2" text-anchor="middle" >40</text>
<text transform="translate(1365.5 2573.3) scale(1.0 1.055)" font-family="'Liberation Sans', Arial, Helvetica, sans-serif" font-size="76.2" text-anchor="middle" >60</text>
<text transform="translate(1675.3 2573.3) scale(1.0 1.055)" font-family="'Liberation Sans', Arial, Helvetica, sans-serif" font-size="76.2" text-anchor="middle" >80</text>
<text transform="translate(1956.6 2573.3) scale(1.0 1.055)" font-family="'Liberation Sans', Arial, Helvetica, sans-serif" font-size="76.2" text-anchor="middle" >100</text>
<text transform="translate(859.4 202.8) scale(1.0 1.1)" font-family="'Liberation Sans', Arial, Helvetica, sans-serif" font-size="63.8" font-weight="bold" >0%</text>
<text transform="translate(830.6 473.9) scale(1.0 1.1)" font-family="'Liberation Sans', Arial, Helvetica, sans-serif" font-size="63.8" font-weight="bold" >18.4%</text>
<text transform="translate(835.7 648) scale(1.0 1.1)" font-family="'Liberation Sans', Arial, Helvetica, sans-serif" font-size="63.8" font-weight="bold" >23.0%</text>
<text transform="translate(777.7 811.2) scale(1.0 1.1)" font-family="'Liberation Sans', Arial, Helvetica, sans-serif" font-size="63.8" font-weight="bold" >33.0%</text>
<text transform="translate(756.5 1474.9) scale(1.0 1.1)" font-family="'Liberation Sans', Arial, Helvetica, sans-serif" font-size="63.8" font-weight="bold" >28.7%</text>
<text transform="translate(519.4 2062.2) scale(1.0 1.1)" font-family="'Liberation Sans', Arial, Helvetica, sans-serif" font-size="63.8" font-weight="bold" >22.3%</text>
<text transform="translate(959.9 2185.2) scale(1.0 1.1)" font-family="'Liberation Sans', Arial, Helvetica, sans-serif" font-size="63.8" font-weight="bold" >13.5%</text>
<text transform="translate(438.8 2454.3) scale(1.0 1.1)" font-family="'Liberation Sans', Arial, Helvetica, sans-serif" font-size="63.8" font-weight="bold" >0%</text>
<text transform="translate(1407 177) scale(1.0 1.02)" font-family="'Liberation Serif', 'Times New Roman', Times, serif" font-size="91.4" font-weight="bold" >(a) 0.9-2 mm</text>
<text transform="translate(1459 1402.3) scale(1.0 1.02)" font-family="'Liberation Serif', 'Times New Roman', Times, serif" font-size="89.6" font-weight="bold" >(b) &lt;75 μm</text>
<text transform="translate(831.5 2654.5) scale(1.0 1.055)" font-family="'Liberation Sans', Arial, Helvetica, sans-serif" font-size="88.9" font-weight="bold" >Conversion (daf)</text>
<text transform="translate(143 1810) rotate(-90) scale(1.0 1.015)" font-family="'Liberation Sans', Arial, Helvetica, sans-serif" font-size="92" font-weight="bold" >Specific Reactivity</text>
<text transform="translate(143 967.8) rotate(-90)" font-family="'Liberation Serif', 'Times New Roman', Times, serif" font-size="57.5" >(</text>
<text transform="translate(143 950.5) rotate(-90)" font-family="'Liberation Sans', Arial, Helvetica, sans-serif" font-size="91" font-weight="bold" >min</text>
<text transform="translate(113 784) rotate(-90) scale(1.0 1.03)" font-family="'Liberation Sans', Arial, Helvetica, sans-serif" font-size="92" font-weight="bold" >-1</text>
<text transform="translate(143 703.5) rotate(-90)" font-family="'Liberation Serif', 'Times New Roman', Times, serif" font-size="57.5" >)</text>
</g>
</svg>
</body>
</html>
